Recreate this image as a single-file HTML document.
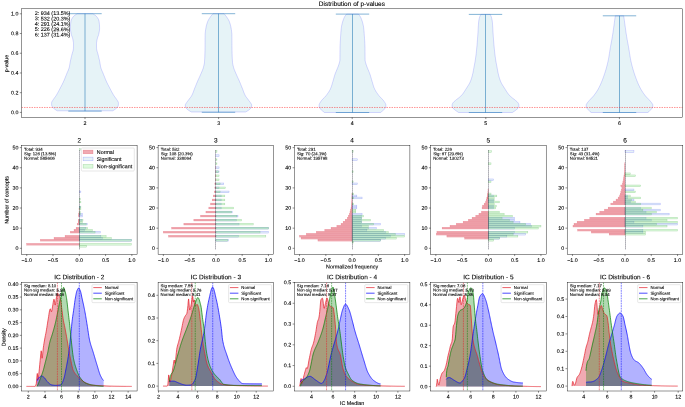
<!DOCTYPE html>
<html><head><meta charset="utf-8"><title>Distribution of p-values</title>
<style>html,body{margin:0;padding:0;background:#fff;width:685px;height:407px;overflow:hidden}
svg{display:block;font-family:"Liberation Sans",sans-serif;text-rendering:geometricPrecision}</style></head>
<body><svg width="685" height="407" viewBox="0 0 685 407">
<rect x="0" y="0" width="685" height="407" fill="#fff"/>
<clipPath id="c215_88"><rect x="21.5" y="8.8" width="661.1" height="108.6"/></clipPath>
<g clip-path="url(#c215_88)">
<path d="M77.2 13.7 L75.92 14.52 L74.75 15.33 L73.76 16.15 L73.03 16.96 L72.47 17.78 L71.98 18.6 L71.55 19.41 L71.22 20.23 L70.98 21.04 L70.85 21.86 L70.75 22.68 L70.66 23.49 L70.59 24.31 L70.52 25.12 L70.47 25.94 L70.43 26.76 L70.41 27.57 L70.4 28.39 L70.43 29.2 L70.5 30.02 L70.61 30.84 L70.75 31.65 L70.9 32.47 L71.06 33.28 L71.22 34.1 L71.43 34.92 L71.7 35.73 L72 36.55 L72.3 37.36 L72.57 38.18 L72.78 38.99 L72.94 39.81 L73.1 40.63 L73.25 41.44 L73.38 42.26 L73.46 43.07 L73.5 43.89 L73.5 44.71 L73.49 45.52 L73.47 46.34 L73.45 47.15 L73.42 47.97 L73.38 48.79 L73.28 49.6 L73.12 50.42 L72.91 51.23 L72.67 52.05 L72.41 52.87 L72.16 53.68 L71.93 54.5 L71.73 55.31 L71.53 56.13 L71.33 56.95 L71.14 57.76 L70.95 58.58 L70.76 59.39 L70.58 60.21 L70.4 61.03 L70.23 61.84 L70.08 62.66 L69.94 63.47 L69.82 64.29 L69.69 65.11 L69.55 65.92 L69.38 66.74 L69.18 67.55 L68.94 68.37 L68.65 69.19 L68.33 70 L67.99 70.82 L67.64 71.63 L67.28 72.45 L66.93 73.27 L66.59 74.08 L66.26 74.9 L65.94 75.71 L65.62 76.53 L65.3 77.35 L64.97 78.16 L64.64 78.98 L64.3 79.79 L63.95 80.61 L63.59 81.43 L63.21 82.24 L62.82 83.06 L62.41 83.87 L62 84.69 L61.58 85.51 L61.15 86.32 L60.72 87.14 L60.29 87.95 L59.86 88.77 L59.43 89.58 L59.01 90.4 L58.58 91.22 L58.14 92.03 L57.7 92.85 L57.25 93.66 L56.78 94.48 L56.29 95.3 L55.76 96.11 L55.18 96.93 L54.57 97.74 L53.96 98.56 L53.39 99.38 L52.88 100.19 L52.35 101.01 L51.86 101.82 L51.61 102.64 L51.6 103.46 L51.6 104.27 L51.6 105.09 L51.85 105.9 L52.32 106.72 L52.91 107.54 L53.74 108.35 L54.71 109.17 L55.86 109.98 L57.2 110.8 L112.8 110.8 L114.14 109.98 L115.29 109.17 L116.26 108.35 L117.09 107.54 L117.68 106.72 L118.15 105.9 L118.4 105.09 L118.4 104.27 L118.4 103.46 L118.39 102.64 L118.14 101.82 L117.65 101.01 L117.12 100.19 L116.61 99.38 L116.04 98.56 L115.43 97.74 L114.82 96.93 L114.24 96.11 L113.71 95.3 L113.22 94.48 L112.75 93.66 L112.3 92.85 L111.86 92.03 L111.42 91.22 L110.99 90.4 L110.57 89.58 L110.14 88.77 L109.71 87.95 L109.28 87.14 L108.85 86.32 L108.42 85.51 L108 84.69 L107.59 83.87 L107.18 83.06 L106.79 82.24 L106.41 81.43 L106.05 80.61 L105.7 79.79 L105.36 78.98 L105.03 78.16 L104.7 77.35 L104.38 76.53 L104.06 75.71 L103.74 74.9 L103.41 74.08 L103.07 73.27 L102.72 72.45 L102.36 71.63 L102.01 70.82 L101.67 70 L101.35 69.19 L101.06 68.37 L100.82 67.55 L100.62 66.74 L100.45 65.92 L100.31 65.11 L100.18 64.29 L100.06 63.47 L99.92 62.66 L99.77 61.84 L99.6 61.03 L99.42 60.21 L99.24 59.39 L99.05 58.58 L98.86 57.76 L98.67 56.95 L98.47 56.13 L98.27 55.31 L98.07 54.5 L97.84 53.68 L97.59 52.87 L97.33 52.05 L97.09 51.23 L96.88 50.42 L96.72 49.6 L96.62 48.79 L96.58 47.97 L96.55 47.15 L96.53 46.34 L96.51 45.52 L96.5 44.71 L96.5 43.89 L96.54 43.07 L96.62 42.26 L96.75 41.44 L96.9 40.63 L97.06 39.81 L97.22 38.99 L97.43 38.18 L97.7 37.36 L98 36.55 L98.3 35.73 L98.57 34.92 L98.78 34.1 L98.94 33.28 L99.1 32.47 L99.25 31.65 L99.39 30.84 L99.5 30.02 L99.57 29.2 L99.6 28.39 L99.59 27.57 L99.57 26.76 L99.53 25.94 L99.48 25.12 L99.41 24.31 L99.34 23.49 L99.25 22.68 L99.15 21.86 L99.02 21.04 L98.78 20.23 L98.45 19.41 L98.02 18.6 L97.53 17.78 L96.97 16.96 L96.24 16.15 L95.25 15.33 L94.08 14.52 L92.8 13.7 Z" fill="#add8e6" stroke="#0000ff" stroke-width="0.5" fill-opacity="0.3" stroke-opacity="0.3"/>
<path d="M213 13.7 L212.26 14.53 L211.55 15.35 L210.89 16.18 L210.3 17 L209.74 17.83 L209.2 18.66 L208.69 19.48 L208.24 20.31 L207.85 21.13 L207.53 21.96 L207.23 22.79 L206.96 23.61 L206.71 24.44 L206.48 25.26 L206.28 26.09 L206.1 26.92 L205.94 27.74 L205.81 28.57 L205.68 29.39 L205.55 30.22 L205.43 31.05 L205.33 31.87 L205.24 32.7 L205.17 33.53 L205.12 34.35 L205.1 35.18 L205.09 36 L205.08 36.83 L205.07 37.66 L205.06 38.48 L205.06 39.31 L205.05 40.13 L205.05 40.96 L205.04 41.79 L205.04 42.61 L205.04 43.44 L205.03 44.26 L205.03 45.09 L205.02 45.92 L205.02 46.74 L205.01 47.57 L205 48.39 L204.99 49.22 L204.98 50.05 L204.96 50.87 L204.95 51.7 L204.93 52.52 L204.91 53.35 L204.88 54.18 L204.85 55 L204.83 55.83 L204.79 56.65 L204.76 57.48 L204.72 58.31 L204.68 59.13 L204.63 59.96 L204.58 60.78 L204.53 61.61 L204.46 62.44 L204.36 63.26 L204.21 64.09 L204.04 64.92 L203.84 65.74 L203.64 66.57 L203.42 67.39 L203.18 68.22 L202.89 69.05 L202.58 69.87 L202.25 70.7 L201.9 71.52 L201.54 72.35 L201.18 73.18 L200.83 74 L200.48 74.83 L200.11 75.65 L199.74 76.48 L199.36 77.31 L198.98 78.13 L198.6 78.96 L198.22 79.78 L197.84 80.61 L197.48 81.44 L197.13 82.26 L196.79 83.09 L196.45 83.91 L196.12 84.74 L195.78 85.57 L195.45 86.39 L195.12 87.22 L194.79 88.04 L194.45 88.87 L194.13 89.7 L193.83 90.52 L193.52 91.35 L193.22 92.17 L192.89 93 L192.55 93.83 L192.18 94.65 L191.76 95.48 L191.28 96.31 L190.71 97.13 L190.08 97.96 L189.43 98.78 L188.79 99.61 L188.18 100.44 L187.57 101.26 L186.97 102.09 L186.43 102.91 L185.84 103.74 L185.38 104.57 L185.31 105.39 L185.38 106.22 L185.51 107.04 L185.91 107.87 L186.65 108.7 L187.52 109.52 L188.58 110.35 L189.93 111.17 L191.5 112 L245.5 112 L247.07 111.17 L248.42 110.35 L249.48 109.52 L250.35 108.7 L251.09 107.87 L251.49 107.04 L251.62 106.22 L251.69 105.39 L251.62 104.57 L251.16 103.74 L250.57 102.91 L250.03 102.09 L249.43 101.26 L248.82 100.44 L248.21 99.61 L247.57 98.78 L246.92 97.96 L246.29 97.13 L245.72 96.31 L245.24 95.48 L244.82 94.65 L244.45 93.83 L244.11 93 L243.78 92.17 L243.48 91.35 L243.17 90.52 L242.87 89.7 L242.55 88.87 L242.21 88.04 L241.88 87.22 L241.55 86.39 L241.22 85.57 L240.88 84.74 L240.55 83.91 L240.21 83.09 L239.87 82.26 L239.52 81.44 L239.16 80.61 L238.78 79.78 L238.4 78.96 L238.02 78.13 L237.64 77.31 L237.26 76.48 L236.89 75.65 L236.52 74.83 L236.17 74 L235.82 73.18 L235.46 72.35 L235.1 71.52 L234.75 70.7 L234.42 69.87 L234.11 69.05 L233.82 68.22 L233.58 67.39 L233.36 66.57 L233.16 65.74 L232.96 64.92 L232.79 64.09 L232.64 63.26 L232.54 62.44 L232.47 61.61 L232.42 60.78 L232.37 59.96 L232.32 59.13 L232.28 58.31 L232.24 57.48 L232.21 56.65 L232.17 55.83 L232.15 55 L232.12 54.18 L232.09 53.35 L232.07 52.52 L232.05 51.7 L232.04 50.87 L232.02 50.05 L232.01 49.22 L232 48.39 L231.99 47.57 L231.98 46.74 L231.98 45.92 L231.97 45.09 L231.97 44.26 L231.96 43.44 L231.96 42.61 L231.96 41.79 L231.95 40.96 L231.95 40.13 L231.94 39.31 L231.94 38.48 L231.93 37.66 L231.92 36.83 L231.91 36 L231.9 35.18 L231.88 34.35 L231.83 33.53 L231.76 32.7 L231.67 31.87 L231.57 31.05 L231.45 30.22 L231.32 29.39 L231.19 28.57 L231.06 27.74 L230.9 26.92 L230.72 26.09 L230.52 25.26 L230.29 24.44 L230.04 23.61 L229.77 22.79 L229.47 21.96 L229.15 21.13 L228.76 20.31 L228.31 19.48 L227.8 18.66 L227.26 17.83 L226.7 17 L226.11 16.18 L225.45 15.35 L224.74 14.53 L224 13.7 Z" fill="#add8e6" stroke="#0000ff" stroke-width="0.5" fill-opacity="0.3" stroke-opacity="0.3"/>
<path d="M346.5 14.1 L345.85 14.93 L345.25 15.75 L344.73 16.58 L344.29 17.41 L343.9 18.23 L343.55 19.06 L343.23 19.89 L342.94 20.72 L342.69 21.54 L342.46 22.37 L342.24 23.2 L342.04 24.02 L341.85 24.85 L341.67 25.68 L341.52 26.5 L341.39 27.33 L341.28 28.16 L341.19 28.98 L341.1 29.81 L341.02 30.64 L340.95 31.46 L340.89 32.29 L340.83 33.12 L340.77 33.95 L340.72 34.77 L340.66 35.6 L340.6 36.43 L340.55 37.25 L340.49 38.08 L340.44 38.91 L340.39 39.73 L340.33 40.56 L340.28 41.39 L340.24 42.21 L340.19 43.04 L340.15 43.87 L340.11 44.69 L340.08 45.52 L340.05 46.35 L340.03 47.18 L340.01 48 L340 48.83 L339.99 49.66 L339.98 50.48 L339.97 51.31 L339.97 52.14 L339.96 52.96 L339.96 53.79 L339.96 54.62 L339.95 55.44 L339.95 56.27 L339.94 57.1 L339.93 57.93 L339.92 58.75 L339.91 59.58 L339.88 60.41 L339.76 61.23 L339.56 62.06 L339.33 62.89 L339.08 63.71 L338.84 64.54 L338.55 65.37 L338.24 66.19 L337.93 67.02 L337.61 67.85 L337.28 68.67 L336.93 69.5 L336.58 70.33 L336.23 71.16 L335.88 71.98 L335.55 72.81 L335.24 73.64 L334.94 74.46 L334.68 75.29 L334.42 76.12 L334.18 76.94 L333.94 77.77 L333.71 78.6 L333.48 79.42 L333.24 80.25 L333 81.08 L332.75 81.91 L332.5 82.73 L332.26 83.56 L332.02 84.39 L331.78 85.21 L331.52 86.04 L331.23 86.87 L330.93 87.69 L330.59 88.52 L330.21 89.35 L329.78 90.17 L329.31 91 L328.79 91.83 L328.25 92.65 L327.67 93.48 L327.07 94.31 L326.45 95.14 L325.81 95.96 L325.07 96.79 L324.25 97.62 L323.42 98.44 L322.63 99.27 L321.92 100.1 L321.26 100.92 L320.65 101.75 L320.12 102.58 L319.67 103.4 L319.26 104.23 L319.1 105.06 L319.1 105.88 L319.1 106.71 L319.23 107.54 L319.81 108.37 L320.66 109.19 L321.52 110.02 L322.39 110.85 L323.4 111.67 L324.5 112.5 L380.5 112.5 L381.6 111.67 L382.61 110.85 L383.48 110.02 L384.34 109.19 L385.19 108.37 L385.77 107.54 L385.9 106.71 L385.9 105.88 L385.9 105.06 L385.74 104.23 L385.33 103.4 L384.88 102.58 L384.35 101.75 L383.74 100.92 L383.08 100.1 L382.37 99.27 L381.58 98.44 L380.75 97.62 L379.93 96.79 L379.19 95.96 L378.55 95.14 L377.93 94.31 L377.33 93.48 L376.75 92.65 L376.21 91.83 L375.69 91 L375.22 90.17 L374.79 89.35 L374.41 88.52 L374.07 87.69 L373.77 86.87 L373.48 86.04 L373.22 85.21 L372.98 84.39 L372.74 83.56 L372.5 82.73 L372.25 81.91 L372 81.08 L371.76 80.25 L371.52 79.42 L371.29 78.6 L371.06 77.77 L370.82 76.94 L370.58 76.12 L370.32 75.29 L370.06 74.46 L369.76 73.64 L369.45 72.81 L369.12 71.98 L368.77 71.16 L368.42 70.33 L368.07 69.5 L367.72 68.67 L367.39 67.85 L367.07 67.02 L366.76 66.19 L366.45 65.37 L366.16 64.54 L365.92 63.71 L365.67 62.89 L365.44 62.06 L365.24 61.23 L365.12 60.41 L365.09 59.58 L365.08 58.75 L365.07 57.93 L365.06 57.1 L365.05 56.27 L365.05 55.44 L365.04 54.62 L365.04 53.79 L365.04 52.96 L365.03 52.14 L365.03 51.31 L365.02 50.48 L365.01 49.66 L365 48.83 L364.99 48 L364.97 47.18 L364.95 46.35 L364.92 45.52 L364.89 44.69 L364.85 43.87 L364.81 43.04 L364.76 42.21 L364.72 41.39 L364.67 40.56 L364.61 39.73 L364.56 38.91 L364.51 38.08 L364.45 37.25 L364.4 36.43 L364.34 35.6 L364.28 34.77 L364.23 33.95 L364.17 33.12 L364.11 32.29 L364.05 31.46 L363.98 30.64 L363.9 29.81 L363.81 28.98 L363.72 28.16 L363.61 27.33 L363.48 26.5 L363.33 25.68 L363.15 24.85 L362.96 24.02 L362.76 23.2 L362.54 22.37 L362.31 21.54 L362.06 20.72 L361.77 19.89 L361.45 19.06 L361.1 18.23 L360.71 17.41 L360.27 16.58 L359.75 15.75 L359.15 14.93 L358.5 14.1 Z" fill="#add8e6" stroke="#0000ff" stroke-width="0.5" fill-opacity="0.3" stroke-opacity="0.3"/>
<path d="M480.8 14.4 L480.39 15.22 L480.01 16.05 L479.7 16.87 L479.45 17.7 L479.24 18.52 L479.05 19.35 L478.89 20.17 L478.76 20.99 L478.67 21.82 L478.58 22.64 L478.51 23.47 L478.44 24.29 L478.38 25.12 L478.32 25.94 L478.27 26.77 L478.22 27.59 L478.18 28.41 L478.14 29.24 L478.09 30.06 L478.05 30.89 L478.01 31.71 L477.96 32.54 L477.91 33.36 L477.86 34.18 L477.8 35.01 L477.74 35.83 L477.68 36.66 L477.62 37.48 L477.56 38.31 L477.49 39.13 L477.43 39.96 L477.37 40.78 L477.3 41.6 L477.24 42.43 L477.17 43.25 L477.1 44.08 L477.03 44.9 L476.96 45.73 L476.88 46.55 L476.81 47.37 L476.73 48.2 L476.65 49.02 L476.56 49.85 L476.48 50.67 L476.39 51.5 L476.3 52.32 L476.2 53.15 L476.11 53.97 L476.01 54.79 L475.9 55.62 L475.8 56.44 L475.69 57.27 L475.57 58.09 L475.46 58.92 L475.34 59.74 L475.21 60.56 L475.08 61.39 L474.93 62.21 L474.78 63.04 L474.63 63.86 L474.47 64.69 L474.31 65.51 L474.15 66.34 L473.99 67.16 L473.84 67.98 L473.69 68.81 L473.54 69.63 L473.39 70.46 L473.24 71.28 L473.08 72.11 L472.91 72.93 L472.73 73.75 L472.53 74.58 L472.33 75.4 L472.11 76.23 L471.88 77.05 L471.64 77.88 L471.38 78.7 L471.1 79.53 L470.81 80.35 L470.49 81.17 L470.14 82 L469.75 82.82 L469.31 83.65 L468.84 84.47 L468.34 85.3 L467.83 86.12 L467.3 86.94 L466.77 87.77 L466.24 88.59 L465.72 89.42 L465.21 90.24 L464.69 91.07 L464.15 91.89 L463.59 92.72 L462.99 93.54 L462.35 94.36 L461.67 95.19 L460.9 96.01 L459.98 96.84 L458.95 97.66 L457.88 98.49 L456.82 99.31 L455.85 100.13 L454.84 100.96 L453.87 101.78 L453.12 102.61 L452.63 103.43 L452.24 104.26 L452.1 105.08 L452.12 105.91 L452.18 106.73 L452.39 107.55 L453.07 108.38 L454.03 109.2 L455.03 110.03 L456.09 110.85 L457.33 111.68 L458.7 112.5 L512.3 112.5 L513.67 111.68 L514.91 110.85 L515.97 110.03 L516.97 109.2 L517.93 108.38 L518.61 107.55 L518.82 106.73 L518.88 105.91 L518.9 105.08 L518.76 104.26 L518.37 103.43 L517.88 102.61 L517.13 101.78 L516.16 100.96 L515.15 100.13 L514.18 99.31 L513.12 98.49 L512.05 97.66 L511.02 96.84 L510.1 96.01 L509.33 95.19 L508.65 94.36 L508.01 93.54 L507.41 92.72 L506.85 91.89 L506.31 91.07 L505.79 90.24 L505.28 89.42 L504.76 88.59 L504.23 87.77 L503.7 86.94 L503.17 86.12 L502.66 85.3 L502.16 84.47 L501.69 83.65 L501.25 82.82 L500.86 82 L500.51 81.17 L500.19 80.35 L499.9 79.53 L499.62 78.7 L499.36 77.88 L499.12 77.05 L498.89 76.23 L498.67 75.4 L498.47 74.58 L498.27 73.75 L498.09 72.93 L497.92 72.11 L497.76 71.28 L497.61 70.46 L497.46 69.63 L497.31 68.81 L497.16 67.98 L497.01 67.16 L496.85 66.34 L496.69 65.51 L496.53 64.69 L496.37 63.86 L496.22 63.04 L496.07 62.21 L495.92 61.39 L495.79 60.56 L495.66 59.74 L495.54 58.92 L495.43 58.09 L495.31 57.27 L495.2 56.44 L495.1 55.62 L494.99 54.79 L494.89 53.97 L494.8 53.15 L494.7 52.32 L494.61 51.5 L494.52 50.67 L494.44 49.85 L494.35 49.02 L494.27 48.2 L494.19 47.37 L494.12 46.55 L494.04 45.73 L493.97 44.9 L493.9 44.08 L493.83 43.25 L493.76 42.43 L493.7 41.6 L493.63 40.78 L493.57 39.96 L493.51 39.13 L493.44 38.31 L493.38 37.48 L493.32 36.66 L493.26 35.83 L493.2 35.01 L493.14 34.18 L493.09 33.36 L493.04 32.54 L492.99 31.71 L492.95 30.89 L492.91 30.06 L492.86 29.24 L492.82 28.41 L492.78 27.59 L492.73 26.77 L492.68 25.94 L492.62 25.12 L492.56 24.29 L492.49 23.47 L492.42 22.64 L492.33 21.82 L492.24 20.99 L492.11 20.17 L491.95 19.35 L491.76 18.52 L491.55 17.7 L491.3 16.87 L490.99 16.05 L490.61 15.22 L490.2 14.4 Z" fill="#add8e6" stroke="#0000ff" stroke-width="0.5" fill-opacity="0.3" stroke-opacity="0.3"/>
<path d="M615.3 15.8 L615.19 16.61 L615.07 17.43 L614.96 18.24 L614.84 19.05 L614.73 19.86 L614.62 20.68 L614.5 21.49 L614.39 22.3 L614.28 23.11 L614.16 23.93 L614.05 24.74 L613.94 25.55 L613.83 26.36 L613.72 27.18 L613.61 27.99 L613.5 28.8 L613.39 29.61 L613.28 30.43 L613.16 31.24 L613.04 32.05 L612.93 32.86 L612.8 33.68 L612.68 34.49 L612.55 35.3 L612.42 36.12 L612.28 36.93 L612.15 37.74 L612 38.55 L611.86 39.37 L611.71 40.18 L611.56 40.99 L611.41 41.8 L611.26 42.62 L611.11 43.43 L610.96 44.24 L610.81 45.05 L610.67 45.87 L610.52 46.68 L610.37 47.49 L610.23 48.3 L610.1 49.12 L609.96 49.93 L609.83 50.74 L609.71 51.55 L609.58 52.37 L609.45 53.18 L609.33 53.99 L609.2 54.81 L609.07 55.62 L608.94 56.43 L608.81 57.24 L608.66 58.06 L608.52 58.87 L608.36 59.68 L608.2 60.49 L608.03 61.31 L607.85 62.12 L607.66 62.93 L607.46 63.74 L607.26 64.56 L607.06 65.37 L606.84 66.18 L606.63 66.99 L606.41 67.81 L606.18 68.62 L605.94 69.43 L605.7 70.24 L605.45 71.06 L605.19 71.87 L604.93 72.68 L604.67 73.49 L604.4 74.31 L604.12 75.12 L603.85 75.93 L603.56 76.75 L603.27 77.56 L602.98 78.37 L602.67 79.18 L602.36 80 L602.04 80.81 L601.71 81.62 L601.37 82.43 L601.03 83.25 L600.67 84.06 L600.31 84.87 L599.93 85.68 L599.54 86.5 L599.13 87.31 L598.7 88.12 L598.26 88.93 L597.79 89.75 L597.31 90.56 L596.8 91.37 L596.27 92.18 L595.72 93 L595.15 93.81 L594.55 94.62 L593.93 95.44 L593.26 96.25 L592.51 97.06 L591.72 97.87 L590.92 98.69 L590.15 99.5 L589.43 100.31 L588.71 101.12 L588.03 101.94 L587.43 102.75 L586.86 103.56 L586.35 104.37 L586.2 105.19 L586.23 106 L586.28 106.81 L586.49 107.62 L587.06 108.44 L587.81 109.25 L588.55 110.06 L589.3 110.87 L590.12 111.69 L591 112.5 L648 112.5 L648.88 111.69 L649.7 110.87 L650.45 110.06 L651.19 109.25 L651.94 108.44 L652.51 107.62 L652.72 106.81 L652.77 106 L652.8 105.19 L652.65 104.37 L652.14 103.56 L651.57 102.75 L650.97 101.94 L650.29 101.12 L649.57 100.31 L648.85 99.5 L648.08 98.69 L647.28 97.87 L646.49 97.06 L645.74 96.25 L645.07 95.44 L644.45 94.62 L643.85 93.81 L643.28 93 L642.73 92.18 L642.2 91.37 L641.69 90.56 L641.21 89.75 L640.74 88.93 L640.3 88.12 L639.87 87.31 L639.46 86.5 L639.07 85.68 L638.69 84.87 L638.33 84.06 L637.97 83.25 L637.63 82.43 L637.29 81.62 L636.96 80.81 L636.64 80 L636.33 79.18 L636.02 78.37 L635.73 77.56 L635.44 76.75 L635.15 75.93 L634.88 75.12 L634.6 74.31 L634.33 73.49 L634.07 72.68 L633.81 71.87 L633.55 71.06 L633.3 70.24 L633.06 69.43 L632.82 68.62 L632.59 67.81 L632.37 66.99 L632.16 66.18 L631.94 65.37 L631.74 64.56 L631.54 63.74 L631.34 62.93 L631.15 62.12 L630.97 61.31 L630.8 60.49 L630.64 59.68 L630.48 58.87 L630.34 58.06 L630.19 57.24 L630.06 56.43 L629.93 55.62 L629.8 54.81 L629.67 53.99 L629.55 53.18 L629.42 52.37 L629.29 51.55 L629.17 50.74 L629.04 49.93 L628.9 49.12 L628.77 48.3 L628.63 47.49 L628.48 46.68 L628.33 45.87 L628.19 45.05 L628.04 44.24 L627.89 43.43 L627.74 42.62 L627.59 41.8 L627.44 40.99 L627.29 40.18 L627.14 39.37 L627 38.55 L626.85 37.74 L626.72 36.93 L626.58 36.12 L626.45 35.3 L626.32 34.49 L626.2 33.68 L626.07 32.86 L625.96 32.05 L625.84 31.24 L625.72 30.43 L625.61 29.61 L625.5 28.8 L625.39 27.99 L625.28 27.18 L625.17 26.36 L625.06 25.55 L624.95 24.74 L624.84 23.93 L624.72 23.11 L624.61 22.3 L624.5 21.49 L624.38 20.68 L624.27 19.86 L624.16 19.05 L624.04 18.24 L623.93 17.43 L623.81 16.61 L623.7 15.8 Z" fill="#add8e6" stroke="#0000ff" stroke-width="0.5" fill-opacity="0.3" stroke-opacity="0.3"/>
<line x1="85" y1="13.7" x2="85" y2="111.1" stroke="#1f77b4" stroke-width="1" stroke-opacity="0.55"/>
<line x1="68.3" y1="13.7" x2="101.7" y2="13.7" stroke="#1f77b4" stroke-width="1" stroke-opacity="0.55"/>
<line x1="68.3" y1="111.1" x2="101.7" y2="111.1" stroke="#1f77b4" stroke-width="1" stroke-opacity="0.55"/>
<line x1="218.5" y1="13.7" x2="218.5" y2="112.3" stroke="#1f77b4" stroke-width="1" stroke-opacity="0.55"/>
<line x1="201.8" y1="13.7" x2="235.2" y2="13.7" stroke="#1f77b4" stroke-width="1" stroke-opacity="0.55"/>
<line x1="201.8" y1="112.3" x2="235.2" y2="112.3" stroke="#1f77b4" stroke-width="1" stroke-opacity="0.55"/>
<line x1="352.5" y1="14.1" x2="352.5" y2="112.5" stroke="#1f77b4" stroke-width="1" stroke-opacity="0.55"/>
<line x1="335.8" y1="14.1" x2="369.2" y2="14.1" stroke="#1f77b4" stroke-width="1" stroke-opacity="0.55"/>
<line x1="335.8" y1="112.5" x2="369.2" y2="112.5" stroke="#1f77b4" stroke-width="1" stroke-opacity="0.55"/>
<line x1="485.5" y1="14.4" x2="485.5" y2="112.5" stroke="#1f77b4" stroke-width="1" stroke-opacity="0.55"/>
<line x1="468.8" y1="14.4" x2="502.2" y2="14.4" stroke="#1f77b4" stroke-width="1" stroke-opacity="0.55"/>
<line x1="468.8" y1="112.5" x2="502.2" y2="112.5" stroke="#1f77b4" stroke-width="1" stroke-opacity="0.55"/>
<line x1="619.5" y1="15.8" x2="619.5" y2="112.5" stroke="#1f77b4" stroke-width="1" stroke-opacity="0.55"/>
<line x1="602.8" y1="15.8" x2="636.2" y2="15.8" stroke="#1f77b4" stroke-width="1" stroke-opacity="0.55"/>
<line x1="602.8" y1="112.5" x2="636.2" y2="112.5" stroke="#1f77b4" stroke-width="1" stroke-opacity="0.55"/>
<line x1="21.5" y1="107.47" x2="682.6" y2="107.47" stroke="#ff0000" stroke-width="0.6" stroke-dasharray="1.5,1" stroke-opacity="0.7"/>
</g>
<rect x="21.5" y="8.8" width="661.1" height="108.6" fill="none" stroke="#000" stroke-width="0.42"/>
<line x1="85" y1="117.4" x2="85" y2="119.1" stroke="#000" stroke-width="0.45"/>
<line x1="218.6" y1="117.4" x2="218.6" y2="119.1" stroke="#000" stroke-width="0.45"/>
<line x1="352.2" y1="117.4" x2="352.2" y2="119.1" stroke="#000" stroke-width="0.45"/>
<line x1="485.8" y1="117.4" x2="485.8" y2="119.1" stroke="#000" stroke-width="0.45"/>
<line x1="619.4" y1="117.4" x2="619.4" y2="119.1" stroke="#000" stroke-width="0.45"/>
<line x1="21.5" y1="112.4" x2="19.8" y2="112.4" stroke="#000" stroke-width="0.45"/>
<line x1="21.5" y1="92.68" x2="19.8" y2="92.68" stroke="#000" stroke-width="0.45"/>
<line x1="21.5" y1="72.96" x2="19.8" y2="72.96" stroke="#000" stroke-width="0.45"/>
<line x1="21.5" y1="53.24" x2="19.8" y2="53.24" stroke="#000" stroke-width="0.45"/>
<line x1="21.5" y1="33.52" x2="19.8" y2="33.52" stroke="#000" stroke-width="0.45"/>
<line x1="21.5" y1="13.8" x2="19.8" y2="13.8" stroke="#000" stroke-width="0.45"/>
<clipPath id="c215_1455"><rect x="21.5" y="145.5" width="115.6" height="108.85"/></clipPath>
<g clip-path="url(#c215_1455)">
<rect x="26.75" y="243.42" width="52.55" height="1.71" fill="#da2b3f" fill-opacity="0.4" stroke="#da2b3f" stroke-opacity="0.4" stroke-width="0.45"/>
<rect x="40.42" y="239.39" width="38.88" height="1.71" fill="#da2b3f" fill-opacity="0.4" stroke="#da2b3f" stroke-opacity="0.4" stroke-width="0.45"/>
<rect x="54.08" y="237.37" width="25.22" height="1.71" fill="#da2b3f" fill-opacity="0.4" stroke="#da2b3f" stroke-opacity="0.4" stroke-width="0.45"/>
<rect x="65.11" y="235.36" width="14.19" height="1.71" fill="#da2b3f" fill-opacity="0.4" stroke="#da2b3f" stroke-opacity="0.4" stroke-width="0.45"/>
<rect x="70.37" y="231.33" width="8.93" height="1.71" fill="#da2b3f" fill-opacity="0.4" stroke="#da2b3f" stroke-opacity="0.4" stroke-width="0.45"/>
<rect x="74.05" y="229.32" width="5.25" height="1.71" fill="#da2b3f" fill-opacity="0.4" stroke="#da2b3f" stroke-opacity="0.4" stroke-width="0.45"/>
<rect x="76.15" y="227.3" width="3.15" height="1.71" fill="#da2b3f" fill-opacity="0.4" stroke="#da2b3f" stroke-opacity="0.4" stroke-width="0.45"/>
<rect x="77.2" y="223.28" width="2.1" height="1.71" fill="#da2b3f" fill-opacity="0.4" stroke="#da2b3f" stroke-opacity="0.4" stroke-width="0.45"/>
<rect x="78.25" y="221.26" width="1.05" height="1.71" fill="#da2b3f" fill-opacity="0.4" stroke="#da2b3f" stroke-opacity="0.4" stroke-width="0.45"/>
<rect x="78.25" y="219.25" width="1.05" height="1.71" fill="#da2b3f" fill-opacity="0.4" stroke="#da2b3f" stroke-opacity="0.4" stroke-width="0.45"/>
<rect x="78.77" y="215.22" width="0.53" height="1.71" fill="#da2b3f" fill-opacity="0.4" stroke="#da2b3f" stroke-opacity="0.4" stroke-width="0.45"/>
<rect x="78.77" y="213.21" width="0.53" height="1.71" fill="#da2b3f" fill-opacity="0.4" stroke="#da2b3f" stroke-opacity="0.4" stroke-width="0.45"/>
<rect x="79.04" y="211.19" width="0.26" height="1.71" fill="#da2b3f" fill-opacity="0.4" stroke="#da2b3f" stroke-opacity="0.4" stroke-width="0.45"/>
<rect x="79.04" y="208.17" width="0.26" height="1.71" fill="#da2b3f" fill-opacity="0.4" stroke="#da2b3f" stroke-opacity="0.4" stroke-width="0.45"/>
<rect x="79.3" y="239.39" width="52.02" height="1.71" fill="#add8e6" fill-opacity="0.3" stroke="#0000ff" stroke-opacity="0.3" stroke-width="0.45"/>
<rect x="79.3" y="237.37" width="23.12" height="1.71" fill="#add8e6" fill-opacity="0.3" stroke="#0000ff" stroke-opacity="0.3" stroke-width="0.45"/>
<rect x="79.3" y="235.36" width="21.54" height="1.71" fill="#add8e6" fill-opacity="0.3" stroke="#0000ff" stroke-opacity="0.3" stroke-width="0.45"/>
<rect x="79.3" y="231.33" width="21.02" height="1.71" fill="#add8e6" fill-opacity="0.3" stroke="#0000ff" stroke-opacity="0.3" stroke-width="0.45"/>
<rect x="79.3" y="229.32" width="5.25" height="1.71" fill="#add8e6" fill-opacity="0.3" stroke="#0000ff" stroke-opacity="0.3" stroke-width="0.45"/>
<rect x="79.3" y="227.3" width="6.57" height="1.71" fill="#add8e6" fill-opacity="0.3" stroke="#0000ff" stroke-opacity="0.3" stroke-width="0.45"/>
<rect x="79.3" y="223.28" width="7.88" height="1.71" fill="#add8e6" fill-opacity="0.3" stroke="#0000ff" stroke-opacity="0.3" stroke-width="0.45"/>
<rect x="79.3" y="219.25" width="2.63" height="1.71" fill="#add8e6" fill-opacity="0.3" stroke="#0000ff" stroke-opacity="0.3" stroke-width="0.45"/>
<rect x="79.3" y="215.22" width="3.15" height="1.71" fill="#add8e6" fill-opacity="0.3" stroke="#0000ff" stroke-opacity="0.3" stroke-width="0.45"/>
<rect x="79.3" y="213.21" width="3.15" height="1.71" fill="#add8e6" fill-opacity="0.3" stroke="#0000ff" stroke-opacity="0.3" stroke-width="0.45"/>
<rect x="79.3" y="206.16" width="1.05" height="1.71" fill="#add8e6" fill-opacity="0.3" stroke="#0000ff" stroke-opacity="0.3" stroke-width="0.45"/>
<rect x="79.3" y="191.05" width="1.58" height="1.71" fill="#add8e6" fill-opacity="0.3" stroke="#0000ff" stroke-opacity="0.3" stroke-width="0.45"/>
<rect x="79.3" y="245.43" width="7.36" height="1.71" fill="#90ee90" fill-opacity="0.3" stroke="#008000" stroke-opacity="0.3" stroke-width="0.45"/>
<rect x="79.3" y="243.42" width="52.02" height="1.71" fill="#90ee90" fill-opacity="0.3" stroke="#008000" stroke-opacity="0.3" stroke-width="0.45"/>
<rect x="79.3" y="239.39" width="52.02" height="1.71" fill="#90ee90" fill-opacity="0.3" stroke="#008000" stroke-opacity="0.3" stroke-width="0.45"/>
<rect x="79.3" y="237.37" width="32.05" height="1.71" fill="#90ee90" fill-opacity="0.3" stroke="#008000" stroke-opacity="0.3" stroke-width="0.45"/>
<rect x="79.3" y="235.36" width="26.8" height="1.71" fill="#90ee90" fill-opacity="0.3" stroke="#008000" stroke-opacity="0.3" stroke-width="0.45"/>
<rect x="79.3" y="231.33" width="15.76" height="1.71" fill="#90ee90" fill-opacity="0.3" stroke="#008000" stroke-opacity="0.3" stroke-width="0.45"/>
<rect x="79.3" y="229.32" width="13.14" height="1.71" fill="#90ee90" fill-opacity="0.3" stroke="#008000" stroke-opacity="0.3" stroke-width="0.45"/>
<rect x="79.3" y="227.3" width="8.41" height="1.71" fill="#90ee90" fill-opacity="0.3" stroke="#008000" stroke-opacity="0.3" stroke-width="0.45"/>
<rect x="79.3" y="223.28" width="6.83" height="1.71" fill="#90ee90" fill-opacity="0.3" stroke="#008000" stroke-opacity="0.3" stroke-width="0.45"/>
<rect x="79.3" y="221.26" width="3.15" height="1.71" fill="#90ee90" fill-opacity="0.3" stroke="#008000" stroke-opacity="0.3" stroke-width="0.45"/>
<rect x="79.3" y="219.25" width="3.68" height="1.71" fill="#90ee90" fill-opacity="0.3" stroke="#008000" stroke-opacity="0.3" stroke-width="0.45"/>
<rect x="79.3" y="213.21" width="1.05" height="1.71" fill="#90ee90" fill-opacity="0.3" stroke="#008000" stroke-opacity="0.3" stroke-width="0.45"/>
<rect x="79.3" y="211.19" width="1.05" height="1.71" fill="#90ee90" fill-opacity="0.3" stroke="#008000" stroke-opacity="0.3" stroke-width="0.45"/>
<rect x="79.3" y="208.17" width="1.58" height="1.71" fill="#90ee90" fill-opacity="0.3" stroke="#008000" stroke-opacity="0.3" stroke-width="0.45"/>
<rect x="79.3" y="206.16" width="1.58" height="1.71" fill="#90ee90" fill-opacity="0.3" stroke="#008000" stroke-opacity="0.3" stroke-width="0.45"/>
<rect x="79.3" y="201.12" width="1.58" height="1.71" fill="#90ee90" fill-opacity="0.3" stroke="#008000" stroke-opacity="0.3" stroke-width="0.45"/>
<rect x="79.3" y="198.1" width="1.05" height="1.71" fill="#90ee90" fill-opacity="0.3" stroke="#008000" stroke-opacity="0.3" stroke-width="0.45"/>
<rect x="79.3" y="148.76" width="1.05" height="1.71" fill="#90ee90" fill-opacity="0.3" stroke="#008000" stroke-opacity="0.3" stroke-width="0.45"/>
<line x1="79.5" y1="150.3" x2="79.5" y2="249.3" stroke="#334" stroke-width="0.7" stroke-dasharray="1.25,0.75" stroke-opacity="0.8"/>
</g>
<rect x="21.5" y="145.5" width="115.6" height="108.85" fill="none" stroke="#000" stroke-width="0.42"/>
<line x1="26.75" y1="254.35" x2="26.75" y2="256.05" stroke="#000" stroke-width="0.45"/>
<line x1="53.03" y1="254.35" x2="53.03" y2="256.05" stroke="#000" stroke-width="0.45"/>
<line x1="79.3" y1="254.35" x2="79.3" y2="256.05" stroke="#000" stroke-width="0.45"/>
<line x1="105.57" y1="254.35" x2="105.57" y2="256.05" stroke="#000" stroke-width="0.45"/>
<line x1="131.85" y1="254.35" x2="131.85" y2="256.05" stroke="#000" stroke-width="0.45"/>
<line x1="21.5" y1="248.3" x2="19.8" y2="248.3" stroke="#000" stroke-width="0.45"/>
<line x1="21.5" y1="228.16" x2="19.8" y2="228.16" stroke="#000" stroke-width="0.45"/>
<line x1="21.5" y1="208.02" x2="19.8" y2="208.02" stroke="#000" stroke-width="0.45"/>
<line x1="21.5" y1="187.88" x2="19.8" y2="187.88" stroke="#000" stroke-width="0.45"/>
<line x1="21.5" y1="167.74" x2="19.8" y2="167.74" stroke="#000" stroke-width="0.45"/>
<line x1="21.5" y1="147.6" x2="19.8" y2="147.6" stroke="#000" stroke-width="0.45"/>
<rect x="81.4" y="148" width="52.9" height="23" rx="1" fill="#fff" fill-opacity="0.8" stroke="#ccc" stroke-width="0.45"/>
<rect x="83.1" y="150.1" width="9.9" height="3.7" fill="#da2b3f" fill-opacity="0.4" stroke="#da2b3f" stroke-opacity="0.4" stroke-width="0.45"/>
<rect x="83.1" y="157.1" width="9.9" height="3.7" fill="#add8e6" fill-opacity="0.3" stroke="#0000ff" stroke-opacity="0.3" stroke-width="0.45"/>
<rect x="83.1" y="164.4" width="9.9" height="3.7" fill="#90ee90" fill-opacity="0.3" stroke="#008000" stroke-opacity="0.3" stroke-width="0.45"/>
<clipPath id="c1581_1455"><rect x="158.1" y="145.5" width="115.6" height="108.85"/></clipPath>
<g clip-path="url(#c1581_1455)">
<rect x="168.61" y="235.36" width="47.29" height="1.71" fill="#da2b3f" fill-opacity="0.4" stroke="#da2b3f" stroke-opacity="0.4" stroke-width="0.45"/>
<rect x="163.35" y="231.33" width="52.55" height="1.71" fill="#da2b3f" fill-opacity="0.4" stroke="#da2b3f" stroke-opacity="0.4" stroke-width="0.45"/>
<rect x="171.76" y="227.3" width="44.14" height="1.71" fill="#da2b3f" fill-opacity="0.4" stroke="#da2b3f" stroke-opacity="0.4" stroke-width="0.45"/>
<rect x="183.85" y="223.28" width="32.05" height="1.71" fill="#da2b3f" fill-opacity="0.4" stroke="#da2b3f" stroke-opacity="0.4" stroke-width="0.45"/>
<rect x="193.83" y="219.25" width="22.07" height="1.71" fill="#da2b3f" fill-opacity="0.4" stroke="#da2b3f" stroke-opacity="0.4" stroke-width="0.45"/>
<rect x="200.66" y="215.22" width="15.24" height="1.71" fill="#da2b3f" fill-opacity="0.4" stroke="#da2b3f" stroke-opacity="0.4" stroke-width="0.45"/>
<rect x="205.92" y="211.19" width="9.98" height="1.71" fill="#da2b3f" fill-opacity="0.4" stroke="#da2b3f" stroke-opacity="0.4" stroke-width="0.45"/>
<rect x="208.81" y="207.16" width="7.09" height="1.71" fill="#da2b3f" fill-opacity="0.4" stroke="#da2b3f" stroke-opacity="0.4" stroke-width="0.45"/>
<rect x="210.65" y="203.14" width="5.25" height="1.71" fill="#da2b3f" fill-opacity="0.4" stroke="#da2b3f" stroke-opacity="0.4" stroke-width="0.45"/>
<rect x="212.22" y="199.11" width="3.68" height="1.71" fill="#da2b3f" fill-opacity="0.4" stroke="#da2b3f" stroke-opacity="0.4" stroke-width="0.45"/>
<rect x="213.27" y="195.08" width="2.63" height="1.71" fill="#da2b3f" fill-opacity="0.4" stroke="#da2b3f" stroke-opacity="0.4" stroke-width="0.45"/>
<rect x="214.32" y="191.05" width="1.58" height="1.71" fill="#da2b3f" fill-opacity="0.4" stroke="#da2b3f" stroke-opacity="0.4" stroke-width="0.45"/>
<rect x="214.85" y="187.02" width="1.05" height="1.71" fill="#da2b3f" fill-opacity="0.4" stroke="#da2b3f" stroke-opacity="0.4" stroke-width="0.45"/>
<rect x="214.85" y="183" width="1.05" height="1.71" fill="#da2b3f" fill-opacity="0.4" stroke="#da2b3f" stroke-opacity="0.4" stroke-width="0.45"/>
<rect x="215.37" y="178.97" width="0.53" height="1.71" fill="#da2b3f" fill-opacity="0.4" stroke="#da2b3f" stroke-opacity="0.4" stroke-width="0.45"/>
<rect x="215.37" y="174.94" width="0.53" height="1.71" fill="#da2b3f" fill-opacity="0.4" stroke="#da2b3f" stroke-opacity="0.4" stroke-width="0.45"/>
<rect x="215.64" y="170.91" width="0.26" height="1.71" fill="#da2b3f" fill-opacity="0.4" stroke="#da2b3f" stroke-opacity="0.4" stroke-width="0.45"/>
<rect x="215.64" y="166.88" width="0.26" height="1.71" fill="#da2b3f" fill-opacity="0.4" stroke="#da2b3f" stroke-opacity="0.4" stroke-width="0.45"/>
<rect x="215.9" y="239.39" width="12.61" height="1.71" fill="#add8e6" fill-opacity="0.3" stroke="#0000ff" stroke-opacity="0.3" stroke-width="0.45"/>
<rect x="215.9" y="235.36" width="22.59" height="1.71" fill="#add8e6" fill-opacity="0.3" stroke="#0000ff" stroke-opacity="0.3" stroke-width="0.45"/>
<rect x="215.9" y="231.33" width="52.55" height="1.71" fill="#add8e6" fill-opacity="0.3" stroke="#0000ff" stroke-opacity="0.3" stroke-width="0.45"/>
<rect x="215.9" y="227.3" width="52.55" height="1.71" fill="#add8e6" fill-opacity="0.3" stroke="#0000ff" stroke-opacity="0.3" stroke-width="0.45"/>
<rect x="215.9" y="223.28" width="23.12" height="1.71" fill="#add8e6" fill-opacity="0.3" stroke="#0000ff" stroke-opacity="0.3" stroke-width="0.45"/>
<rect x="215.9" y="219.25" width="20.49" height="1.71" fill="#add8e6" fill-opacity="0.3" stroke="#0000ff" stroke-opacity="0.3" stroke-width="0.45"/>
<rect x="215.9" y="215.22" width="22.07" height="1.71" fill="#add8e6" fill-opacity="0.3" stroke="#0000ff" stroke-opacity="0.3" stroke-width="0.45"/>
<rect x="215.9" y="211.19" width="16.29" height="1.71" fill="#add8e6" fill-opacity="0.3" stroke="#0000ff" stroke-opacity="0.3" stroke-width="0.45"/>
<rect x="215.9" y="207.16" width="5.25" height="1.71" fill="#add8e6" fill-opacity="0.3" stroke="#0000ff" stroke-opacity="0.3" stroke-width="0.45"/>
<rect x="215.9" y="203.14" width="5.25" height="1.71" fill="#add8e6" fill-opacity="0.3" stroke="#0000ff" stroke-opacity="0.3" stroke-width="0.45"/>
<rect x="215.9" y="199.11" width="5.25" height="1.71" fill="#add8e6" fill-opacity="0.3" stroke="#0000ff" stroke-opacity="0.3" stroke-width="0.45"/>
<rect x="215.9" y="195.08" width="5.25" height="1.71" fill="#add8e6" fill-opacity="0.3" stroke="#0000ff" stroke-opacity="0.3" stroke-width="0.45"/>
<rect x="215.9" y="191.05" width="13.14" height="1.71" fill="#add8e6" fill-opacity="0.3" stroke="#0000ff" stroke-opacity="0.3" stroke-width="0.45"/>
<rect x="215.9" y="187.02" width="3.15" height="1.71" fill="#add8e6" fill-opacity="0.3" stroke="#0000ff" stroke-opacity="0.3" stroke-width="0.45"/>
<rect x="215.9" y="183" width="7.88" height="1.71" fill="#add8e6" fill-opacity="0.3" stroke="#0000ff" stroke-opacity="0.3" stroke-width="0.45"/>
<rect x="215.9" y="170.91" width="3.15" height="1.71" fill="#add8e6" fill-opacity="0.3" stroke="#0000ff" stroke-opacity="0.3" stroke-width="0.45"/>
<rect x="215.9" y="166.88" width="3.15" height="1.71" fill="#add8e6" fill-opacity="0.3" stroke="#0000ff" stroke-opacity="0.3" stroke-width="0.45"/>
<rect x="215.9" y="154.8" width="3.15" height="1.71" fill="#add8e6" fill-opacity="0.3" stroke="#0000ff" stroke-opacity="0.3" stroke-width="0.45"/>
<rect x="215.9" y="239.39" width="11.82" height="1.71" fill="#90ee90" fill-opacity="0.3" stroke="#008000" stroke-opacity="0.3" stroke-width="0.45"/>
<rect x="215.9" y="235.36" width="49.92" height="1.71" fill="#90ee90" fill-opacity="0.3" stroke="#008000" stroke-opacity="0.3" stroke-width="0.45"/>
<rect x="215.9" y="231.33" width="44.14" height="1.71" fill="#90ee90" fill-opacity="0.3" stroke="#008000" stroke-opacity="0.3" stroke-width="0.45"/>
<rect x="215.9" y="227.3" width="52.55" height="1.71" fill="#90ee90" fill-opacity="0.3" stroke="#008000" stroke-opacity="0.3" stroke-width="0.45"/>
<rect x="215.9" y="223.28" width="37.31" height="1.71" fill="#90ee90" fill-opacity="0.3" stroke="#008000" stroke-opacity="0.3" stroke-width="0.45"/>
<rect x="215.9" y="219.25" width="25.75" height="1.71" fill="#90ee90" fill-opacity="0.3" stroke="#008000" stroke-opacity="0.3" stroke-width="0.45"/>
<rect x="215.9" y="215.22" width="21.02" height="1.71" fill="#90ee90" fill-opacity="0.3" stroke="#008000" stroke-opacity="0.3" stroke-width="0.45"/>
<rect x="215.9" y="211.19" width="15.76" height="1.71" fill="#90ee90" fill-opacity="0.3" stroke="#008000" stroke-opacity="0.3" stroke-width="0.45"/>
<rect x="215.9" y="207.16" width="17.87" height="1.71" fill="#90ee90" fill-opacity="0.3" stroke="#008000" stroke-opacity="0.3" stroke-width="0.45"/>
<rect x="215.9" y="203.14" width="8.93" height="1.71" fill="#90ee90" fill-opacity="0.3" stroke="#008000" stroke-opacity="0.3" stroke-width="0.45"/>
<rect x="215.9" y="199.11" width="8.93" height="1.71" fill="#90ee90" fill-opacity="0.3" stroke="#008000" stroke-opacity="0.3" stroke-width="0.45"/>
<rect x="215.9" y="195.08" width="8.93" height="1.71" fill="#90ee90" fill-opacity="0.3" stroke="#008000" stroke-opacity="0.3" stroke-width="0.45"/>
<rect x="215.9" y="191.05" width="4.2" height="1.71" fill="#90ee90" fill-opacity="0.3" stroke="#008000" stroke-opacity="0.3" stroke-width="0.45"/>
<rect x="215.9" y="187.02" width="9.46" height="1.71" fill="#90ee90" fill-opacity="0.3" stroke="#008000" stroke-opacity="0.3" stroke-width="0.45"/>
<rect x="215.9" y="183" width="4.2" height="1.71" fill="#90ee90" fill-opacity="0.3" stroke="#008000" stroke-opacity="0.3" stroke-width="0.45"/>
<rect x="215.9" y="178.97" width="3.15" height="1.71" fill="#90ee90" fill-opacity="0.3" stroke="#008000" stroke-opacity="0.3" stroke-width="0.45"/>
<rect x="215.9" y="174.94" width="3.15" height="1.71" fill="#90ee90" fill-opacity="0.3" stroke="#008000" stroke-opacity="0.3" stroke-width="0.45"/>
<rect x="215.9" y="170.91" width="2.63" height="1.71" fill="#90ee90" fill-opacity="0.3" stroke="#008000" stroke-opacity="0.3" stroke-width="0.45"/>
<rect x="215.9" y="162.86" width="1.05" height="1.71" fill="#90ee90" fill-opacity="0.3" stroke="#008000" stroke-opacity="0.3" stroke-width="0.45"/>
<rect x="215.9" y="158.83" width="1.05" height="1.71" fill="#90ee90" fill-opacity="0.3" stroke="#008000" stroke-opacity="0.3" stroke-width="0.45"/>
<rect x="215.9" y="150.77" width="1.05" height="1.71" fill="#90ee90" fill-opacity="0.3" stroke="#008000" stroke-opacity="0.3" stroke-width="0.45"/>
<line x1="215.5" y1="150.3" x2="215.5" y2="249.3" stroke="#334" stroke-width="0.7" stroke-dasharray="1.25,0.75" stroke-opacity="0.8"/>
</g>
<rect x="158.1" y="145.5" width="115.6" height="108.85" fill="none" stroke="#000" stroke-width="0.42"/>
<line x1="163.35" y1="254.35" x2="163.35" y2="256.05" stroke="#000" stroke-width="0.45"/>
<line x1="189.63" y1="254.35" x2="189.63" y2="256.05" stroke="#000" stroke-width="0.45"/>
<line x1="215.9" y1="254.35" x2="215.9" y2="256.05" stroke="#000" stroke-width="0.45"/>
<line x1="242.17" y1="254.35" x2="242.17" y2="256.05" stroke="#000" stroke-width="0.45"/>
<line x1="268.45" y1="254.35" x2="268.45" y2="256.05" stroke="#000" stroke-width="0.45"/>
<line x1="158.1" y1="248.3" x2="156.4" y2="248.3" stroke="#000" stroke-width="0.45"/>
<line x1="158.1" y1="228.16" x2="156.4" y2="228.16" stroke="#000" stroke-width="0.45"/>
<line x1="158.1" y1="208.02" x2="156.4" y2="208.02" stroke="#000" stroke-width="0.45"/>
<line x1="158.1" y1="187.88" x2="156.4" y2="187.88" stroke="#000" stroke-width="0.45"/>
<line x1="158.1" y1="167.74" x2="156.4" y2="167.74" stroke="#000" stroke-width="0.45"/>
<line x1="158.1" y1="147.6" x2="156.4" y2="147.6" stroke="#000" stroke-width="0.45"/>
<clipPath id="c2943_1455"><rect x="294.3" y="145.5" width="115.6" height="108.85"/></clipPath>
<g clip-path="url(#c2943_1455)">
<rect x="317.95" y="239.39" width="34.15" height="1.71" fill="#da2b3f" fill-opacity="0.4" stroke="#da2b3f" stroke-opacity="0.4" stroke-width="0.45"/>
<rect x="301.13" y="237.37" width="50.97" height="1.71" fill="#da2b3f" fill-opacity="0.4" stroke="#da2b3f" stroke-opacity="0.4" stroke-width="0.45"/>
<rect x="299.55" y="235.36" width="52.55" height="1.71" fill="#da2b3f" fill-opacity="0.4" stroke="#da2b3f" stroke-opacity="0.4" stroke-width="0.45"/>
<rect x="306.39" y="233.35" width="45.71" height="1.71" fill="#da2b3f" fill-opacity="0.4" stroke="#da2b3f" stroke-opacity="0.4" stroke-width="0.45"/>
<rect x="316.37" y="231.33" width="35.73" height="1.71" fill="#da2b3f" fill-opacity="0.4" stroke="#da2b3f" stroke-opacity="0.4" stroke-width="0.45"/>
<rect x="324.78" y="229.32" width="27.32" height="1.71" fill="#da2b3f" fill-opacity="0.4" stroke="#da2b3f" stroke-opacity="0.4" stroke-width="0.45"/>
<rect x="331.08" y="227.3" width="21.02" height="1.71" fill="#da2b3f" fill-opacity="0.4" stroke="#da2b3f" stroke-opacity="0.4" stroke-width="0.45"/>
<rect x="336.86" y="225.29" width="15.24" height="1.71" fill="#da2b3f" fill-opacity="0.4" stroke="#da2b3f" stroke-opacity="0.4" stroke-width="0.45"/>
<rect x="341.07" y="223.28" width="11.03" height="1.71" fill="#da2b3f" fill-opacity="0.4" stroke="#da2b3f" stroke-opacity="0.4" stroke-width="0.45"/>
<rect x="343.17" y="221.26" width="8.93" height="1.71" fill="#da2b3f" fill-opacity="0.4" stroke="#da2b3f" stroke-opacity="0.4" stroke-width="0.45"/>
<rect x="345.27" y="219.25" width="6.83" height="1.71" fill="#da2b3f" fill-opacity="0.4" stroke="#da2b3f" stroke-opacity="0.4" stroke-width="0.45"/>
<rect x="347.37" y="217.23" width="4.73" height="1.71" fill="#da2b3f" fill-opacity="0.4" stroke="#da2b3f" stroke-opacity="0.4" stroke-width="0.45"/>
<rect x="348.42" y="215.22" width="3.68" height="1.71" fill="#da2b3f" fill-opacity="0.4" stroke="#da2b3f" stroke-opacity="0.4" stroke-width="0.45"/>
<rect x="349.47" y="213.21" width="2.63" height="1.71" fill="#da2b3f" fill-opacity="0.4" stroke="#da2b3f" stroke-opacity="0.4" stroke-width="0.45"/>
<rect x="350" y="211.19" width="2.1" height="1.71" fill="#da2b3f" fill-opacity="0.4" stroke="#da2b3f" stroke-opacity="0.4" stroke-width="0.45"/>
<rect x="350.52" y="209.18" width="1.58" height="1.71" fill="#da2b3f" fill-opacity="0.4" stroke="#da2b3f" stroke-opacity="0.4" stroke-width="0.45"/>
<rect x="351.05" y="207.16" width="1.05" height="1.71" fill="#da2b3f" fill-opacity="0.4" stroke="#da2b3f" stroke-opacity="0.4" stroke-width="0.45"/>
<rect x="351.31" y="205.15" width="0.79" height="1.71" fill="#da2b3f" fill-opacity="0.4" stroke="#da2b3f" stroke-opacity="0.4" stroke-width="0.45"/>
<rect x="351.57" y="203.14" width="0.53" height="1.71" fill="#da2b3f" fill-opacity="0.4" stroke="#da2b3f" stroke-opacity="0.4" stroke-width="0.45"/>
<rect x="351.68" y="201.12" width="0.42" height="1.71" fill="#da2b3f" fill-opacity="0.4" stroke="#da2b3f" stroke-opacity="0.4" stroke-width="0.45"/>
<rect x="351.78" y="199.11" width="0.32" height="1.71" fill="#da2b3f" fill-opacity="0.4" stroke="#da2b3f" stroke-opacity="0.4" stroke-width="0.45"/>
<rect x="351.84" y="197.09" width="0.26" height="1.71" fill="#da2b3f" fill-opacity="0.4" stroke="#da2b3f" stroke-opacity="0.4" stroke-width="0.45"/>
<rect x="351.89" y="195.08" width="0.21" height="1.71" fill="#da2b3f" fill-opacity="0.4" stroke="#da2b3f" stroke-opacity="0.4" stroke-width="0.45"/>
<rect x="351.94" y="193.07" width="0.16" height="1.71" fill="#da2b3f" fill-opacity="0.4" stroke="#da2b3f" stroke-opacity="0.4" stroke-width="0.45"/>
<rect x="352.1" y="239.39" width="28.37" height="1.71" fill="#add8e6" fill-opacity="0.3" stroke="#0000ff" stroke-opacity="0.3" stroke-width="0.45"/>
<rect x="352.1" y="237.37" width="33.63" height="1.71" fill="#add8e6" fill-opacity="0.3" stroke="#0000ff" stroke-opacity="0.3" stroke-width="0.45"/>
<rect x="352.1" y="235.36" width="38.36" height="1.71" fill="#add8e6" fill-opacity="0.3" stroke="#0000ff" stroke-opacity="0.3" stroke-width="0.45"/>
<rect x="352.1" y="233.35" width="52.55" height="1.71" fill="#add8e6" fill-opacity="0.3" stroke="#0000ff" stroke-opacity="0.3" stroke-width="0.45"/>
<rect x="352.1" y="231.33" width="33.63" height="1.71" fill="#add8e6" fill-opacity="0.3" stroke="#0000ff" stroke-opacity="0.3" stroke-width="0.45"/>
<rect x="352.1" y="229.32" width="14.71" height="1.71" fill="#add8e6" fill-opacity="0.3" stroke="#0000ff" stroke-opacity="0.3" stroke-width="0.45"/>
<rect x="352.1" y="227.3" width="24.17" height="1.71" fill="#add8e6" fill-opacity="0.3" stroke="#0000ff" stroke-opacity="0.3" stroke-width="0.45"/>
<rect x="352.1" y="225.29" width="9.46" height="1.71" fill="#add8e6" fill-opacity="0.3" stroke="#0000ff" stroke-opacity="0.3" stroke-width="0.45"/>
<rect x="352.1" y="223.28" width="28.37" height="1.71" fill="#add8e6" fill-opacity="0.3" stroke="#0000ff" stroke-opacity="0.3" stroke-width="0.45"/>
<rect x="352.1" y="221.26" width="9.46" height="1.71" fill="#add8e6" fill-opacity="0.3" stroke="#0000ff" stroke-opacity="0.3" stroke-width="0.45"/>
<rect x="352.1" y="219.25" width="9.46" height="1.71" fill="#add8e6" fill-opacity="0.3" stroke="#0000ff" stroke-opacity="0.3" stroke-width="0.45"/>
<rect x="352.1" y="217.23" width="9.46" height="1.71" fill="#add8e6" fill-opacity="0.3" stroke="#0000ff" stroke-opacity="0.3" stroke-width="0.45"/>
<rect x="352.1" y="215.22" width="9.46" height="1.71" fill="#add8e6" fill-opacity="0.3" stroke="#0000ff" stroke-opacity="0.3" stroke-width="0.45"/>
<rect x="352.1" y="213.21" width="9.98" height="1.71" fill="#add8e6" fill-opacity="0.3" stroke="#0000ff" stroke-opacity="0.3" stroke-width="0.45"/>
<rect x="352.1" y="207.16" width="4.73" height="1.71" fill="#add8e6" fill-opacity="0.3" stroke="#0000ff" stroke-opacity="0.3" stroke-width="0.45"/>
<rect x="352.1" y="205.15" width="4.73" height="1.71" fill="#add8e6" fill-opacity="0.3" stroke="#0000ff" stroke-opacity="0.3" stroke-width="0.45"/>
<rect x="352.1" y="197.09" width="9.98" height="1.71" fill="#add8e6" fill-opacity="0.3" stroke="#0000ff" stroke-opacity="0.3" stroke-width="0.45"/>
<rect x="352.1" y="195.08" width="4.73" height="1.71" fill="#add8e6" fill-opacity="0.3" stroke="#0000ff" stroke-opacity="0.3" stroke-width="0.45"/>
<rect x="352.1" y="183" width="5.25" height="1.71" fill="#add8e6" fill-opacity="0.3" stroke="#0000ff" stroke-opacity="0.3" stroke-width="0.45"/>
<rect x="352.1" y="158.83" width="5.25" height="1.71" fill="#add8e6" fill-opacity="0.3" stroke="#0000ff" stroke-opacity="0.3" stroke-width="0.45"/>
<rect x="352.1" y="241.4" width="1.31" height="1.71" fill="#90ee90" fill-opacity="0.3" stroke="#008000" stroke-opacity="0.3" stroke-width="0.45"/>
<rect x="352.1" y="239.39" width="28.37" height="1.71" fill="#90ee90" fill-opacity="0.3" stroke="#008000" stroke-opacity="0.3" stroke-width="0.45"/>
<rect x="352.1" y="237.37" width="44.14" height="1.71" fill="#90ee90" fill-opacity="0.3" stroke="#008000" stroke-opacity="0.3" stroke-width="0.45"/>
<rect x="352.1" y="235.36" width="52.55" height="1.71" fill="#90ee90" fill-opacity="0.3" stroke="#008000" stroke-opacity="0.3" stroke-width="0.45"/>
<rect x="352.1" y="233.35" width="43.09" height="1.71" fill="#90ee90" fill-opacity="0.3" stroke="#008000" stroke-opacity="0.3" stroke-width="0.45"/>
<rect x="352.1" y="231.33" width="36.26" height="1.71" fill="#90ee90" fill-opacity="0.3" stroke="#008000" stroke-opacity="0.3" stroke-width="0.45"/>
<rect x="352.1" y="229.32" width="31.53" height="1.71" fill="#90ee90" fill-opacity="0.3" stroke="#008000" stroke-opacity="0.3" stroke-width="0.45"/>
<rect x="352.1" y="227.3" width="16.29" height="1.71" fill="#90ee90" fill-opacity="0.3" stroke="#008000" stroke-opacity="0.3" stroke-width="0.45"/>
<rect x="352.1" y="225.29" width="16.29" height="1.71" fill="#90ee90" fill-opacity="0.3" stroke="#008000" stroke-opacity="0.3" stroke-width="0.45"/>
<rect x="352.1" y="223.28" width="21.54" height="1.71" fill="#90ee90" fill-opacity="0.3" stroke="#008000" stroke-opacity="0.3" stroke-width="0.45"/>
<rect x="352.1" y="221.26" width="9.46" height="1.71" fill="#90ee90" fill-opacity="0.3" stroke="#008000" stroke-opacity="0.3" stroke-width="0.45"/>
<rect x="352.1" y="219.25" width="18.39" height="1.71" fill="#90ee90" fill-opacity="0.3" stroke="#008000" stroke-opacity="0.3" stroke-width="0.45"/>
<rect x="352.1" y="217.23" width="9.46" height="1.71" fill="#90ee90" fill-opacity="0.3" stroke="#008000" stroke-opacity="0.3" stroke-width="0.45"/>
<rect x="352.1" y="215.22" width="11.56" height="1.71" fill="#90ee90" fill-opacity="0.3" stroke="#008000" stroke-opacity="0.3" stroke-width="0.45"/>
<rect x="352.1" y="211.19" width="3.68" height="1.71" fill="#90ee90" fill-opacity="0.3" stroke="#008000" stroke-opacity="0.3" stroke-width="0.45"/>
<rect x="352.1" y="209.18" width="3.68" height="1.71" fill="#90ee90" fill-opacity="0.3" stroke="#008000" stroke-opacity="0.3" stroke-width="0.45"/>
<rect x="352.1" y="203.14" width="1.58" height="1.71" fill="#90ee90" fill-opacity="0.3" stroke="#008000" stroke-opacity="0.3" stroke-width="0.45"/>
<rect x="352.1" y="197.09" width="1.58" height="1.71" fill="#90ee90" fill-opacity="0.3" stroke="#008000" stroke-opacity="0.3" stroke-width="0.45"/>
<rect x="352.1" y="193.07" width="1.58" height="1.71" fill="#90ee90" fill-opacity="0.3" stroke="#008000" stroke-opacity="0.3" stroke-width="0.45"/>
<rect x="352.1" y="180.98" width="1.05" height="1.71" fill="#90ee90" fill-opacity="0.3" stroke="#008000" stroke-opacity="0.3" stroke-width="0.45"/>
<rect x="352.1" y="170.91" width="1.05" height="1.71" fill="#90ee90" fill-opacity="0.3" stroke="#008000" stroke-opacity="0.3" stroke-width="0.45"/>
<rect x="352.1" y="150.77" width="1.05" height="1.71" fill="#90ee90" fill-opacity="0.3" stroke="#008000" stroke-opacity="0.3" stroke-width="0.45"/>
<line x1="352.5" y1="150.3" x2="352.5" y2="249.3" stroke="#334" stroke-width="0.7" stroke-dasharray="1.25,0.75" stroke-opacity="0.8"/>
</g>
<rect x="294.3" y="145.5" width="115.6" height="108.85" fill="none" stroke="#000" stroke-width="0.42"/>
<line x1="299.55" y1="254.35" x2="299.55" y2="256.05" stroke="#000" stroke-width="0.45"/>
<line x1="325.83" y1="254.35" x2="325.83" y2="256.05" stroke="#000" stroke-width="0.45"/>
<line x1="352.1" y1="254.35" x2="352.1" y2="256.05" stroke="#000" stroke-width="0.45"/>
<line x1="378.37" y1="254.35" x2="378.37" y2="256.05" stroke="#000" stroke-width="0.45"/>
<line x1="404.65" y1="254.35" x2="404.65" y2="256.05" stroke="#000" stroke-width="0.45"/>
<line x1="294.3" y1="248.3" x2="292.6" y2="248.3" stroke="#000" stroke-width="0.45"/>
<line x1="294.3" y1="228.16" x2="292.6" y2="228.16" stroke="#000" stroke-width="0.45"/>
<line x1="294.3" y1="208.02" x2="292.6" y2="208.02" stroke="#000" stroke-width="0.45"/>
<line x1="294.3" y1="187.88" x2="292.6" y2="187.88" stroke="#000" stroke-width="0.45"/>
<line x1="294.3" y1="167.74" x2="292.6" y2="167.74" stroke="#000" stroke-width="0.45"/>
<line x1="294.3" y1="147.6" x2="292.6" y2="147.6" stroke="#000" stroke-width="0.45"/>
<clipPath id="c4306_1455"><rect x="430.6" y="145.5" width="115.6" height="108.85"/></clipPath>
<g clip-path="url(#c4306_1455)">
<rect x="464.75" y="237.37" width="23.65" height="1.71" fill="#da2b3f" fill-opacity="0.4" stroke="#da2b3f" stroke-opacity="0.4" stroke-width="0.45"/>
<rect x="446.89" y="235.36" width="41.51" height="1.71" fill="#da2b3f" fill-opacity="0.4" stroke="#da2b3f" stroke-opacity="0.4" stroke-width="0.45"/>
<rect x="436.38" y="233.35" width="52.02" height="1.71" fill="#da2b3f" fill-opacity="0.4" stroke="#da2b3f" stroke-opacity="0.4" stroke-width="0.45"/>
<rect x="436.91" y="231.33" width="51.49" height="1.71" fill="#da2b3f" fill-opacity="0.4" stroke="#da2b3f" stroke-opacity="0.4" stroke-width="0.45"/>
<rect x="442.16" y="227.3" width="46.24" height="1.71" fill="#da2b3f" fill-opacity="0.4" stroke="#da2b3f" stroke-opacity="0.4" stroke-width="0.45"/>
<rect x="450.04" y="225.29" width="38.36" height="1.71" fill="#da2b3f" fill-opacity="0.4" stroke="#da2b3f" stroke-opacity="0.4" stroke-width="0.45"/>
<rect x="456.35" y="223.28" width="32.05" height="1.71" fill="#da2b3f" fill-opacity="0.4" stroke="#da2b3f" stroke-opacity="0.4" stroke-width="0.45"/>
<rect x="463.18" y="221.26" width="25.22" height="1.71" fill="#da2b3f" fill-opacity="0.4" stroke="#da2b3f" stroke-opacity="0.4" stroke-width="0.45"/>
<rect x="468.43" y="219.25" width="19.97" height="1.71" fill="#da2b3f" fill-opacity="0.4" stroke="#da2b3f" stroke-opacity="0.4" stroke-width="0.45"/>
<rect x="472.11" y="217.23" width="16.29" height="1.71" fill="#da2b3f" fill-opacity="0.4" stroke="#da2b3f" stroke-opacity="0.4" stroke-width="0.45"/>
<rect x="475.79" y="215.22" width="12.61" height="1.71" fill="#da2b3f" fill-opacity="0.4" stroke="#da2b3f" stroke-opacity="0.4" stroke-width="0.45"/>
<rect x="478.94" y="213.21" width="9.46" height="1.71" fill="#da2b3f" fill-opacity="0.4" stroke="#da2b3f" stroke-opacity="0.4" stroke-width="0.45"/>
<rect x="481.57" y="211.19" width="6.83" height="1.71" fill="#da2b3f" fill-opacity="0.4" stroke="#da2b3f" stroke-opacity="0.4" stroke-width="0.45"/>
<rect x="482.09" y="207.16" width="6.31" height="1.71" fill="#da2b3f" fill-opacity="0.4" stroke="#da2b3f" stroke-opacity="0.4" stroke-width="0.45"/>
<rect x="482.62" y="205.15" width="5.78" height="1.71" fill="#da2b3f" fill-opacity="0.4" stroke="#da2b3f" stroke-opacity="0.4" stroke-width="0.45"/>
<rect x="484.2" y="203.14" width="4.2" height="1.71" fill="#da2b3f" fill-opacity="0.4" stroke="#da2b3f" stroke-opacity="0.4" stroke-width="0.45"/>
<rect x="485.77" y="201.12" width="2.63" height="1.71" fill="#da2b3f" fill-opacity="0.4" stroke="#da2b3f" stroke-opacity="0.4" stroke-width="0.45"/>
<rect x="486.3" y="199.11" width="2.1" height="1.71" fill="#da2b3f" fill-opacity="0.4" stroke="#da2b3f" stroke-opacity="0.4" stroke-width="0.45"/>
<rect x="486.82" y="197.09" width="1.58" height="1.71" fill="#da2b3f" fill-opacity="0.4" stroke="#da2b3f" stroke-opacity="0.4" stroke-width="0.45"/>
<rect x="487.35" y="195.08" width="1.05" height="1.71" fill="#da2b3f" fill-opacity="0.4" stroke="#da2b3f" stroke-opacity="0.4" stroke-width="0.45"/>
<rect x="487.61" y="193.07" width="0.79" height="1.71" fill="#da2b3f" fill-opacity="0.4" stroke="#da2b3f" stroke-opacity="0.4" stroke-width="0.45"/>
<rect x="487.87" y="191.05" width="0.53" height="1.71" fill="#da2b3f" fill-opacity="0.4" stroke="#da2b3f" stroke-opacity="0.4" stroke-width="0.45"/>
<rect x="487.98" y="189.04" width="0.42" height="1.71" fill="#da2b3f" fill-opacity="0.4" stroke="#da2b3f" stroke-opacity="0.4" stroke-width="0.45"/>
<rect x="488.4" y="237.37" width="11.03" height="1.71" fill="#add8e6" fill-opacity="0.3" stroke="#0000ff" stroke-opacity="0.3" stroke-width="0.45"/>
<rect x="488.4" y="235.36" width="18.39" height="1.71" fill="#add8e6" fill-opacity="0.3" stroke="#0000ff" stroke-opacity="0.3" stroke-width="0.45"/>
<rect x="488.4" y="233.35" width="37.31" height="1.71" fill="#add8e6" fill-opacity="0.3" stroke="#0000ff" stroke-opacity="0.3" stroke-width="0.45"/>
<rect x="488.4" y="231.33" width="26.27" height="1.71" fill="#add8e6" fill-opacity="0.3" stroke="#0000ff" stroke-opacity="0.3" stroke-width="0.45"/>
<rect x="488.4" y="227.3" width="26.27" height="1.71" fill="#add8e6" fill-opacity="0.3" stroke="#0000ff" stroke-opacity="0.3" stroke-width="0.45"/>
<rect x="488.4" y="225.29" width="43.09" height="1.71" fill="#add8e6" fill-opacity="0.3" stroke="#0000ff" stroke-opacity="0.3" stroke-width="0.45"/>
<rect x="488.4" y="223.28" width="42.04" height="1.71" fill="#add8e6" fill-opacity="0.3" stroke="#0000ff" stroke-opacity="0.3" stroke-width="0.45"/>
<rect x="488.4" y="221.26" width="31.53" height="1.71" fill="#add8e6" fill-opacity="0.3" stroke="#0000ff" stroke-opacity="0.3" stroke-width="0.45"/>
<rect x="488.4" y="219.25" width="26.27" height="1.71" fill="#add8e6" fill-opacity="0.3" stroke="#0000ff" stroke-opacity="0.3" stroke-width="0.45"/>
<rect x="488.4" y="217.23" width="26.27" height="1.71" fill="#add8e6" fill-opacity="0.3" stroke="#0000ff" stroke-opacity="0.3" stroke-width="0.45"/>
<rect x="488.4" y="207.16" width="5.25" height="1.71" fill="#add8e6" fill-opacity="0.3" stroke="#0000ff" stroke-opacity="0.3" stroke-width="0.45"/>
<rect x="488.4" y="205.15" width="5.25" height="1.71" fill="#add8e6" fill-opacity="0.3" stroke="#0000ff" stroke-opacity="0.3" stroke-width="0.45"/>
<rect x="488.4" y="201.12" width="5.25" height="1.71" fill="#add8e6" fill-opacity="0.3" stroke="#0000ff" stroke-opacity="0.3" stroke-width="0.45"/>
<rect x="488.4" y="199.11" width="5.25" height="1.71" fill="#add8e6" fill-opacity="0.3" stroke="#0000ff" stroke-opacity="0.3" stroke-width="0.45"/>
<rect x="488.4" y="195.08" width="5.25" height="1.71" fill="#add8e6" fill-opacity="0.3" stroke="#0000ff" stroke-opacity="0.3" stroke-width="0.45"/>
<rect x="488.4" y="178.97" width="5.25" height="1.71" fill="#add8e6" fill-opacity="0.3" stroke="#0000ff" stroke-opacity="0.3" stroke-width="0.45"/>
<rect x="488.4" y="239.39" width="5.25" height="1.71" fill="#90ee90" fill-opacity="0.3" stroke="#008000" stroke-opacity="0.3" stroke-width="0.45"/>
<rect x="488.4" y="237.37" width="11.03" height="1.71" fill="#90ee90" fill-opacity="0.3" stroke="#008000" stroke-opacity="0.3" stroke-width="0.45"/>
<rect x="488.4" y="235.36" width="29.43" height="1.71" fill="#90ee90" fill-opacity="0.3" stroke="#008000" stroke-opacity="0.3" stroke-width="0.45"/>
<rect x="488.4" y="233.35" width="24.7" height="1.71" fill="#90ee90" fill-opacity="0.3" stroke="#008000" stroke-opacity="0.3" stroke-width="0.45"/>
<rect x="488.4" y="231.33" width="39.41" height="1.71" fill="#90ee90" fill-opacity="0.3" stroke="#008000" stroke-opacity="0.3" stroke-width="0.45"/>
<rect x="488.4" y="227.3" width="49.92" height="1.71" fill="#90ee90" fill-opacity="0.3" stroke="#008000" stroke-opacity="0.3" stroke-width="0.45"/>
<rect x="488.4" y="225.29" width="52.55" height="1.71" fill="#90ee90" fill-opacity="0.3" stroke="#008000" stroke-opacity="0.3" stroke-width="0.45"/>
<rect x="488.4" y="223.28" width="37.31" height="1.71" fill="#90ee90" fill-opacity="0.3" stroke="#008000" stroke-opacity="0.3" stroke-width="0.45"/>
<rect x="488.4" y="221.26" width="24.7" height="1.71" fill="#90ee90" fill-opacity="0.3" stroke="#008000" stroke-opacity="0.3" stroke-width="0.45"/>
<rect x="488.4" y="219.25" width="21.02" height="1.71" fill="#90ee90" fill-opacity="0.3" stroke="#008000" stroke-opacity="0.3" stroke-width="0.45"/>
<rect x="488.4" y="217.23" width="13.66" height="1.71" fill="#90ee90" fill-opacity="0.3" stroke="#008000" stroke-opacity="0.3" stroke-width="0.45"/>
<rect x="488.4" y="215.22" width="24.17" height="1.71" fill="#90ee90" fill-opacity="0.3" stroke="#008000" stroke-opacity="0.3" stroke-width="0.45"/>
<rect x="488.4" y="213.21" width="15.76" height="1.71" fill="#90ee90" fill-opacity="0.3" stroke="#008000" stroke-opacity="0.3" stroke-width="0.45"/>
<rect x="488.4" y="211.19" width="11.03" height="1.71" fill="#90ee90" fill-opacity="0.3" stroke="#008000" stroke-opacity="0.3" stroke-width="0.45"/>
<rect x="488.4" y="207.16" width="7.36" height="1.71" fill="#90ee90" fill-opacity="0.3" stroke="#008000" stroke-opacity="0.3" stroke-width="0.45"/>
<rect x="488.4" y="205.15" width="7.88" height="1.71" fill="#90ee90" fill-opacity="0.3" stroke="#008000" stroke-opacity="0.3" stroke-width="0.45"/>
<rect x="488.4" y="203.14" width="5.78" height="1.71" fill="#90ee90" fill-opacity="0.3" stroke="#008000" stroke-opacity="0.3" stroke-width="0.45"/>
<rect x="488.4" y="201.12" width="11.03" height="1.71" fill="#90ee90" fill-opacity="0.3" stroke="#008000" stroke-opacity="0.3" stroke-width="0.45"/>
<rect x="488.4" y="199.11" width="5.78" height="1.71" fill="#90ee90" fill-opacity="0.3" stroke="#008000" stroke-opacity="0.3" stroke-width="0.45"/>
<rect x="488.4" y="197.09" width="5.78" height="1.71" fill="#90ee90" fill-opacity="0.3" stroke="#008000" stroke-opacity="0.3" stroke-width="0.45"/>
<rect x="488.4" y="195.08" width="8.41" height="1.71" fill="#90ee90" fill-opacity="0.3" stroke="#008000" stroke-opacity="0.3" stroke-width="0.45"/>
<rect x="488.4" y="193.07" width="2.63" height="1.71" fill="#90ee90" fill-opacity="0.3" stroke="#008000" stroke-opacity="0.3" stroke-width="0.45"/>
<rect x="488.4" y="180.98" width="2.63" height="1.71" fill="#90ee90" fill-opacity="0.3" stroke="#008000" stroke-opacity="0.3" stroke-width="0.45"/>
<rect x="488.4" y="162.86" width="2.63" height="1.71" fill="#90ee90" fill-opacity="0.3" stroke="#008000" stroke-opacity="0.3" stroke-width="0.45"/>
<rect x="488.4" y="150.77" width="3.15" height="1.71" fill="#90ee90" fill-opacity="0.3" stroke="#008000" stroke-opacity="0.3" stroke-width="0.45"/>
<line x1="488.5" y1="150.3" x2="488.5" y2="249.3" stroke="#334" stroke-width="0.7" stroke-dasharray="1.25,0.75" stroke-opacity="0.8"/>
</g>
<rect x="430.6" y="145.5" width="115.6" height="108.85" fill="none" stroke="#000" stroke-width="0.42"/>
<line x1="435.85" y1="254.35" x2="435.85" y2="256.05" stroke="#000" stroke-width="0.45"/>
<line x1="462.13" y1="254.35" x2="462.13" y2="256.05" stroke="#000" stroke-width="0.45"/>
<line x1="488.4" y1="254.35" x2="488.4" y2="256.05" stroke="#000" stroke-width="0.45"/>
<line x1="514.67" y1="254.35" x2="514.67" y2="256.05" stroke="#000" stroke-width="0.45"/>
<line x1="540.95" y1="254.35" x2="540.95" y2="256.05" stroke="#000" stroke-width="0.45"/>
<line x1="430.6" y1="248.3" x2="428.9" y2="248.3" stroke="#000" stroke-width="0.45"/>
<line x1="430.6" y1="228.16" x2="428.9" y2="228.16" stroke="#000" stroke-width="0.45"/>
<line x1="430.6" y1="208.02" x2="428.9" y2="208.02" stroke="#000" stroke-width="0.45"/>
<line x1="430.6" y1="187.88" x2="428.9" y2="187.88" stroke="#000" stroke-width="0.45"/>
<line x1="430.6" y1="167.74" x2="428.9" y2="167.74" stroke="#000" stroke-width="0.45"/>
<line x1="430.6" y1="147.6" x2="428.9" y2="147.6" stroke="#000" stroke-width="0.45"/>
<clipPath id="c5672_1455"><rect x="567.2" y="145.5" width="115.6" height="108.85"/></clipPath>
<g clip-path="url(#c5672_1455)">
<rect x="609.24" y="233.35" width="15.76" height="1.71" fill="#da2b3f" fill-opacity="0.4" stroke="#da2b3f" stroke-opacity="0.4" stroke-width="0.45"/>
<rect x="591.37" y="231.33" width="33.63" height="1.71" fill="#da2b3f" fill-opacity="0.4" stroke="#da2b3f" stroke-opacity="0.4" stroke-width="0.45"/>
<rect x="577.71" y="229.32" width="47.29" height="1.71" fill="#da2b3f" fill-opacity="0.4" stroke="#da2b3f" stroke-opacity="0.4" stroke-width="0.45"/>
<rect x="572.98" y="225.29" width="52.02" height="1.71" fill="#da2b3f" fill-opacity="0.4" stroke="#da2b3f" stroke-opacity="0.4" stroke-width="0.45"/>
<rect x="574.03" y="223.28" width="50.97" height="1.71" fill="#da2b3f" fill-opacity="0.4" stroke="#da2b3f" stroke-opacity="0.4" stroke-width="0.45"/>
<rect x="577.18" y="221.26" width="47.82" height="1.71" fill="#da2b3f" fill-opacity="0.4" stroke="#da2b3f" stroke-opacity="0.4" stroke-width="0.45"/>
<rect x="584.54" y="219.25" width="40.46" height="1.71" fill="#da2b3f" fill-opacity="0.4" stroke="#da2b3f" stroke-opacity="0.4" stroke-width="0.45"/>
<rect x="589.79" y="217.23" width="35.21" height="1.71" fill="#da2b3f" fill-opacity="0.4" stroke="#da2b3f" stroke-opacity="0.4" stroke-width="0.45"/>
<rect x="596.1" y="213.21" width="28.9" height="1.71" fill="#da2b3f" fill-opacity="0.4" stroke="#da2b3f" stroke-opacity="0.4" stroke-width="0.45"/>
<rect x="599.78" y="211.19" width="25.22" height="1.71" fill="#da2b3f" fill-opacity="0.4" stroke="#da2b3f" stroke-opacity="0.4" stroke-width="0.45"/>
<rect x="604.51" y="209.18" width="20.49" height="1.71" fill="#da2b3f" fill-opacity="0.4" stroke="#da2b3f" stroke-opacity="0.4" stroke-width="0.45"/>
<rect x="608.19" y="207.16" width="16.81" height="1.71" fill="#da2b3f" fill-opacity="0.4" stroke="#da2b3f" stroke-opacity="0.4" stroke-width="0.45"/>
<rect x="610.81" y="203.14" width="14.19" height="1.71" fill="#da2b3f" fill-opacity="0.4" stroke="#da2b3f" stroke-opacity="0.4" stroke-width="0.45"/>
<rect x="613.44" y="201.12" width="11.56" height="1.71" fill="#da2b3f" fill-opacity="0.4" stroke="#da2b3f" stroke-opacity="0.4" stroke-width="0.45"/>
<rect x="616.07" y="199.11" width="8.93" height="1.71" fill="#da2b3f" fill-opacity="0.4" stroke="#da2b3f" stroke-opacity="0.4" stroke-width="0.45"/>
<rect x="618.17" y="197.09" width="6.83" height="1.71" fill="#da2b3f" fill-opacity="0.4" stroke="#da2b3f" stroke-opacity="0.4" stroke-width="0.45"/>
<rect x="619.75" y="195.08" width="5.25" height="1.71" fill="#da2b3f" fill-opacity="0.4" stroke="#da2b3f" stroke-opacity="0.4" stroke-width="0.45"/>
<rect x="620.27" y="193.07" width="4.73" height="1.71" fill="#da2b3f" fill-opacity="0.4" stroke="#da2b3f" stroke-opacity="0.4" stroke-width="0.45"/>
<rect x="620.8" y="191.05" width="4.2" height="1.71" fill="#da2b3f" fill-opacity="0.4" stroke="#da2b3f" stroke-opacity="0.4" stroke-width="0.45"/>
<rect x="621.32" y="189.04" width="3.68" height="1.71" fill="#da2b3f" fill-opacity="0.4" stroke="#da2b3f" stroke-opacity="0.4" stroke-width="0.45"/>
<rect x="621.85" y="187.02" width="3.15" height="1.71" fill="#da2b3f" fill-opacity="0.4" stroke="#da2b3f" stroke-opacity="0.4" stroke-width="0.45"/>
<rect x="620.8" y="185.01" width="4.2" height="1.71" fill="#da2b3f" fill-opacity="0.4" stroke="#da2b3f" stroke-opacity="0.4" stroke-width="0.45"/>
<rect x="622.37" y="183" width="2.63" height="1.71" fill="#da2b3f" fill-opacity="0.4" stroke="#da2b3f" stroke-opacity="0.4" stroke-width="0.45"/>
<rect x="622.9" y="180.98" width="2.1" height="1.71" fill="#da2b3f" fill-opacity="0.4" stroke="#da2b3f" stroke-opacity="0.4" stroke-width="0.45"/>
<rect x="623.42" y="178.97" width="1.58" height="1.71" fill="#da2b3f" fill-opacity="0.4" stroke="#da2b3f" stroke-opacity="0.4" stroke-width="0.45"/>
<rect x="623.69" y="176.95" width="1.31" height="1.71" fill="#da2b3f" fill-opacity="0.4" stroke="#da2b3f" stroke-opacity="0.4" stroke-width="0.45"/>
<rect x="623.95" y="174.94" width="1.05" height="1.71" fill="#da2b3f" fill-opacity="0.4" stroke="#da2b3f" stroke-opacity="0.4" stroke-width="0.45"/>
<rect x="624.21" y="172.93" width="0.79" height="1.71" fill="#da2b3f" fill-opacity="0.4" stroke="#da2b3f" stroke-opacity="0.4" stroke-width="0.45"/>
<rect x="624.37" y="170.91" width="0.63" height="1.71" fill="#da2b3f" fill-opacity="0.4" stroke="#da2b3f" stroke-opacity="0.4" stroke-width="0.45"/>
<rect x="624.47" y="168.9" width="0.53" height="1.71" fill="#da2b3f" fill-opacity="0.4" stroke="#da2b3f" stroke-opacity="0.4" stroke-width="0.45"/>
<rect x="624.47" y="166.88" width="0.53" height="1.71" fill="#da2b3f" fill-opacity="0.4" stroke="#da2b3f" stroke-opacity="0.4" stroke-width="0.45"/>
<rect x="624.58" y="164.87" width="0.42" height="1.71" fill="#da2b3f" fill-opacity="0.4" stroke="#da2b3f" stroke-opacity="0.4" stroke-width="0.45"/>
<rect x="624.68" y="162.86" width="0.32" height="1.71" fill="#da2b3f" fill-opacity="0.4" stroke="#da2b3f" stroke-opacity="0.4" stroke-width="0.45"/>
<rect x="625" y="231.33" width="17.87" height="1.71" fill="#add8e6" fill-opacity="0.3" stroke="#0000ff" stroke-opacity="0.3" stroke-width="0.45"/>
<rect x="625" y="229.32" width="17.87" height="1.71" fill="#add8e6" fill-opacity="0.3" stroke="#0000ff" stroke-opacity="0.3" stroke-width="0.45"/>
<rect x="625" y="225.29" width="17.87" height="1.71" fill="#add8e6" fill-opacity="0.3" stroke="#0000ff" stroke-opacity="0.3" stroke-width="0.45"/>
<rect x="625" y="223.28" width="52.55" height="1.71" fill="#add8e6" fill-opacity="0.3" stroke="#0000ff" stroke-opacity="0.3" stroke-width="0.45"/>
<rect x="625" y="221.26" width="8.93" height="1.71" fill="#add8e6" fill-opacity="0.3" stroke="#0000ff" stroke-opacity="0.3" stroke-width="0.45"/>
<rect x="625" y="219.25" width="26.27" height="1.71" fill="#add8e6" fill-opacity="0.3" stroke="#0000ff" stroke-opacity="0.3" stroke-width="0.45"/>
<rect x="625" y="217.23" width="21.02" height="1.71" fill="#add8e6" fill-opacity="0.3" stroke="#0000ff" stroke-opacity="0.3" stroke-width="0.45"/>
<rect x="625" y="213.21" width="44.14" height="1.71" fill="#add8e6" fill-opacity="0.3" stroke="#0000ff" stroke-opacity="0.3" stroke-width="0.45"/>
<rect x="625" y="211.19" width="21.02" height="1.71" fill="#add8e6" fill-opacity="0.3" stroke="#0000ff" stroke-opacity="0.3" stroke-width="0.45"/>
<rect x="625" y="209.18" width="35.21" height="1.71" fill="#add8e6" fill-opacity="0.3" stroke="#0000ff" stroke-opacity="0.3" stroke-width="0.45"/>
<rect x="625" y="207.16" width="15.76" height="1.71" fill="#add8e6" fill-opacity="0.3" stroke="#0000ff" stroke-opacity="0.3" stroke-width="0.45"/>
<rect x="625" y="203.14" width="35.21" height="1.71" fill="#add8e6" fill-opacity="0.3" stroke="#0000ff" stroke-opacity="0.3" stroke-width="0.45"/>
<rect x="625" y="201.12" width="5.25" height="1.71" fill="#add8e6" fill-opacity="0.3" stroke="#0000ff" stroke-opacity="0.3" stroke-width="0.45"/>
<rect x="625" y="199.11" width="8.93" height="1.71" fill="#add8e6" fill-opacity="0.3" stroke="#0000ff" stroke-opacity="0.3" stroke-width="0.45"/>
<rect x="625" y="197.09" width="2.63" height="1.71" fill="#add8e6" fill-opacity="0.3" stroke="#0000ff" stroke-opacity="0.3" stroke-width="0.45"/>
<rect x="625" y="195.08" width="2.63" height="1.71" fill="#add8e6" fill-opacity="0.3" stroke="#0000ff" stroke-opacity="0.3" stroke-width="0.45"/>
<rect x="625" y="189.04" width="8.93" height="1.71" fill="#add8e6" fill-opacity="0.3" stroke="#0000ff" stroke-opacity="0.3" stroke-width="0.45"/>
<rect x="625" y="150.77" width="8.93" height="1.71" fill="#add8e6" fill-opacity="0.3" stroke="#0000ff" stroke-opacity="0.3" stroke-width="0.45"/>
<rect x="625" y="233.35" width="20.49" height="1.71" fill="#90ee90" fill-opacity="0.3" stroke="#008000" stroke-opacity="0.3" stroke-width="0.45"/>
<rect x="625" y="231.33" width="20.49" height="1.71" fill="#90ee90" fill-opacity="0.3" stroke="#008000" stroke-opacity="0.3" stroke-width="0.45"/>
<rect x="625" y="229.32" width="52.55" height="1.71" fill="#90ee90" fill-opacity="0.3" stroke="#008000" stroke-opacity="0.3" stroke-width="0.45"/>
<rect x="625" y="225.29" width="42.04" height="1.71" fill="#90ee90" fill-opacity="0.3" stroke="#008000" stroke-opacity="0.3" stroke-width="0.45"/>
<rect x="625" y="223.28" width="31.53" height="1.71" fill="#90ee90" fill-opacity="0.3" stroke="#008000" stroke-opacity="0.3" stroke-width="0.45"/>
<rect x="625" y="221.26" width="52.55" height="1.71" fill="#90ee90" fill-opacity="0.3" stroke="#008000" stroke-opacity="0.3" stroke-width="0.45"/>
<rect x="625" y="219.25" width="42.04" height="1.71" fill="#90ee90" fill-opacity="0.3" stroke="#008000" stroke-opacity="0.3" stroke-width="0.45"/>
<rect x="625" y="217.23" width="52.55" height="1.71" fill="#90ee90" fill-opacity="0.3" stroke="#008000" stroke-opacity="0.3" stroke-width="0.45"/>
<rect x="625" y="213.21" width="26.27" height="1.71" fill="#90ee90" fill-opacity="0.3" stroke="#008000" stroke-opacity="0.3" stroke-width="0.45"/>
<rect x="625" y="211.19" width="31.53" height="1.71" fill="#90ee90" fill-opacity="0.3" stroke="#008000" stroke-opacity="0.3" stroke-width="0.45"/>
<rect x="625" y="209.18" width="17.87" height="1.71" fill="#90ee90" fill-opacity="0.3" stroke="#008000" stroke-opacity="0.3" stroke-width="0.45"/>
<rect x="625" y="207.16" width="26.27" height="1.71" fill="#90ee90" fill-opacity="0.3" stroke="#008000" stroke-opacity="0.3" stroke-width="0.45"/>
<rect x="625" y="203.14" width="15.76" height="1.71" fill="#90ee90" fill-opacity="0.3" stroke="#008000" stroke-opacity="0.3" stroke-width="0.45"/>
<rect x="625" y="201.12" width="10.51" height="1.71" fill="#90ee90" fill-opacity="0.3" stroke="#008000" stroke-opacity="0.3" stroke-width="0.45"/>
<rect x="625" y="199.11" width="6.31" height="1.71" fill="#90ee90" fill-opacity="0.3" stroke="#008000" stroke-opacity="0.3" stroke-width="0.45"/>
<rect x="625" y="197.09" width="15.76" height="1.71" fill="#90ee90" fill-opacity="0.3" stroke="#008000" stroke-opacity="0.3" stroke-width="0.45"/>
<rect x="625" y="195.08" width="5.25" height="1.71" fill="#90ee90" fill-opacity="0.3" stroke="#008000" stroke-opacity="0.3" stroke-width="0.45"/>
<rect x="625" y="191.05" width="10.51" height="1.71" fill="#90ee90" fill-opacity="0.3" stroke="#008000" stroke-opacity="0.3" stroke-width="0.45"/>
<rect x="625" y="185.01" width="15.76" height="1.71" fill="#90ee90" fill-opacity="0.3" stroke="#008000" stroke-opacity="0.3" stroke-width="0.45"/>
<rect x="625" y="174.94" width="10.51" height="1.71" fill="#90ee90" fill-opacity="0.3" stroke="#008000" stroke-opacity="0.3" stroke-width="0.45"/>
<rect x="625" y="172.93" width="5.25" height="1.71" fill="#90ee90" fill-opacity="0.3" stroke="#008000" stroke-opacity="0.3" stroke-width="0.45"/>
<line x1="625.5" y1="150.3" x2="625.5" y2="249.3" stroke="#334" stroke-width="0.7" stroke-dasharray="1.25,0.75" stroke-opacity="0.8"/>
</g>
<rect x="567.2" y="145.5" width="115.6" height="108.85" fill="none" stroke="#000" stroke-width="0.42"/>
<line x1="572.45" y1="254.35" x2="572.45" y2="256.05" stroke="#000" stroke-width="0.45"/>
<line x1="598.73" y1="254.35" x2="598.73" y2="256.05" stroke="#000" stroke-width="0.45"/>
<line x1="625" y1="254.35" x2="625" y2="256.05" stroke="#000" stroke-width="0.45"/>
<line x1="651.27" y1="254.35" x2="651.27" y2="256.05" stroke="#000" stroke-width="0.45"/>
<line x1="677.55" y1="254.35" x2="677.55" y2="256.05" stroke="#000" stroke-width="0.45"/>
<line x1="567.2" y1="248.3" x2="565.5" y2="248.3" stroke="#000" stroke-width="0.45"/>
<line x1="567.2" y1="228.16" x2="565.5" y2="228.16" stroke="#000" stroke-width="0.45"/>
<line x1="567.2" y1="208.02" x2="565.5" y2="208.02" stroke="#000" stroke-width="0.45"/>
<line x1="567.2" y1="187.88" x2="565.5" y2="187.88" stroke="#000" stroke-width="0.45"/>
<line x1="567.2" y1="167.74" x2="565.5" y2="167.74" stroke="#000" stroke-width="0.45"/>
<line x1="567.2" y1="147.6" x2="565.5" y2="147.6" stroke="#000" stroke-width="0.45"/>
<clipPath id="c215_2825"><rect x="21.5" y="282.5" width="115.6" height="108.5"/></clipPath>
<g clip-path="url(#c215_2825)">
<path d="M26.39 386.4 L26.39 386.4 L26.74 386.4 L27.09 386.4 L27.44 386.4 L27.8 386.4 L28.15 386.4 L28.5 386.4 L28.85 386.4 L29.21 386.4 L29.56 386.4 L29.91 386.4 L30.26 386.4 L30.62 386.4 L30.97 386.4 L31.32 386.4 L31.67 386.4 L32.03 386.4 L32.38 386.4 L32.73 386.4 L33.08 386.4 L33.44 386.4 L33.79 386.4 L34.14 386.4 L34.5 386.4 L34.85 386.4 L35.2 386.27 L35.55 385.71 L35.91 384.8 L36.26 383.62 L36.61 380.33 L36.96 376 L37.32 373.44 L37.67 377.68 L38.02 379.79 L38.37 377.84 L38.73 374.71 L39.08 371.41 L39.43 368.12 L39.78 364.34 L40.14 360.55 L40.49 357.08 L40.84 353.25 L41.19 350.79 L41.55 353.04 L41.9 358.19 L42.25 358.16 L42.6 355.14 L42.96 351.15 L43.31 347.87 L43.66 345.42 L44.01 343.16 L44.37 341.04 L44.72 339.02 L45.07 337.15 L45.42 335.4 L45.78 333.67 L46.13 331.84 L46.48 329.82 L46.83 327.63 L47.19 325.38 L47.54 323.13 L47.89 320.98 L48.24 318.95 L48.6 316.67 L48.95 314.29 L49.3 312.06 L49.66 310.24 L50.01 309.08 L50.36 308.86 L50.71 309.81 L51.07 311.16 L51.42 311.87 L51.77 311.13 L52.12 309.25 L52.48 306.92 L52.83 304.8 L53.18 302.74 L53.53 300.58 L53.89 299.22 L54.24 299.72 L54.59 302.17 L54.94 304.61 L55.3 305.08 L55.65 303.32 L56 300.51 L56.35 297.86 L56.71 296.17 L57.06 294.64 L57.41 293.53 L57.76 293.25 L58.12 293.63 L58.47 294.34 L58.82 295.19 L59.17 295.97 L59.53 296.69 L59.88 297.46 L60.23 298.4 L60.58 299.63 L60.94 301.81 L61.29 304.85 L61.64 307.74 L61.99 310.46 L62.35 313.21 L62.7 315.87 L63.05 318.33 L63.4 320.48 L63.76 322.31 L64.11 323.96 L64.46 325.56 L64.82 327.22 L65.17 329.04 L65.52 330.92 L65.87 332.84 L66.23 334.8 L66.58 336.81 L66.93 338.89 L67.28 341.01 L67.64 343.14 L67.99 345.24 L68.34 347.29 L68.69 349.28 L69.05 351.25 L69.4 353.2 L69.75 355.09 L70.1 356.9 L70.46 358.59 L70.81 360.27 L71.16 361.97 L71.51 363.66 L71.87 365.28 L72.22 366.81 L72.57 368.2 L72.92 369.4 L73.28 370.38 L73.63 371.13 L73.98 371.77 L74.33 372.36 L74.69 372.9 L75.04 373.39 L75.39 373.85 L75.74 374.27 L76.1 374.67 L76.45 375.04 L76.8 375.4 L77.15 375.74 L77.51 376.09 L77.86 376.43 L78.21 376.78 L78.56 377.14 L78.92 377.5 L79.27 377.86 L79.62 378.21 L79.97 378.56 L80.33 378.91 L80.68 379.25 L81.03 379.58 L81.39 379.91 L81.74 380.22 L82.09 380.52 L82.44 380.82 L82.8 381.1 L83.15 381.37 L83.5 381.62 L83.85 381.86 L84.21 382.08 L84.56 382.28 L84.91 382.47 L85.26 382.66 L85.62 382.85 L85.97 383.03 L86.32 383.21 L86.67 383.39 L87.03 383.56 L87.38 383.73 L87.73 383.9 L88.08 384.05 L88.44 384.2 L88.79 384.34 L89.14 384.47 L89.49 384.6 L89.85 384.71 L90.2 384.81 L90.55 384.9 L90.9 384.98 L91.26 385.04 L91.61 385.1 L91.96 385.13 L92.31 385.17 L92.67 385.2 L93.02 385.22 L93.37 385.25 L93.72 385.28 L94.08 385.3 L94.43 385.32 L94.78 385.34 L95.13 385.36 L95.49 385.38 L95.84 385.39 L96.19 385.41 L96.55 385.43 L96.9 385.44 L97.25 385.46 L97.6 385.47 L97.96 385.48 L98.31 385.5 L98.66 385.51 L99.01 385.52 L99.37 385.54 L99.72 385.55 L100.07 385.57 L100.42 385.58 L100.78 385.6 L101.13 385.61 L101.48 385.63 L101.83 385.65 L102.19 385.67 L102.54 385.69 L102.89 385.71 L103.24 385.73 L103.6 385.75 L103.95 385.77 L104.3 385.79 L104.65 385.82 L105.01 385.84 L105.36 385.86 L105.71 385.88 L106.06 385.9 L106.42 385.92 L106.77 385.94 L107.12 385.96 L107.47 385.98 L107.83 386 L108.18 386.02 L108.53 386.04 L108.88 386.05 L109.24 386.07 L109.59 386.08 L109.94 386.1 L110.29 386.11 L110.65 386.12 L111 386.13 L111.35 386.14 L111.71 386.15 L112.06 386.16 L112.41 386.16 L112.76 386.17 L113.12 386.18 L113.47 386.19 L113.82 386.19 L114.17 386.2 L114.53 386.21 L114.88 386.21 L115.23 386.22 L115.58 386.23 L115.94 386.23 L116.29 386.24 L116.64 386.25 L116.99 386.25 L117.35 386.26 L117.7 386.27 L118.05 386.27 L118.4 386.28 L118.76 386.28 L119.11 386.29 L119.46 386.3 L119.81 386.3 L120.17 386.31 L120.52 386.31 L120.87 386.32 L121.22 386.32 L121.58 386.33 L121.93 386.33 L122.28 386.34 L122.63 386.34 L122.99 386.34 L123.34 386.35 L123.69 386.35 L124.04 386.36 L124.4 386.36 L124.75 386.36 L125.1 386.37 L125.45 386.37 L125.81 386.37 L126.16 386.38 L126.51 386.38 L126.87 386.38 L127.22 386.38 L127.57 386.39 L127.92 386.39 L128.28 386.39 L128.63 386.39 L128.98 386.39 L129.33 386.4 L129.69 386.4 L130.04 386.4 L130.39 386.4 L130.74 386.4 L131.1 386.4 L131.45 386.4 L131.8 386.4 L131.8 386.4 Z" fill="#da2b3f" stroke="none" stroke-width="1" fill-opacity="0.4"/>
<path d="M37.12 386.4 L37.12 380.78 L37.34 379.87 L37.56 379.23 L37.79 378.8 L38.01 378.53 L38.23 378.35 L38.45 378.19 L38.68 378 L38.9 377.77 L39.12 377.53 L39.34 377.3 L39.56 377.08 L39.79 376.86 L40.01 376.67 L40.23 376.48 L40.45 376.32 L40.68 376.19 L40.9 376.08 L41.12 376 L41.34 375.95 L41.57 375.94 L41.79 375.96 L42.01 376.02 L42.23 376.1 L42.46 376.21 L42.68 376.35 L42.9 376.5 L43.12 376.66 L43.34 376.84 L43.57 377.02 L43.79 377.21 L44.01 377.39 L44.23 377.57 L44.46 377.79 L44.68 378.04 L44.9 378.32 L45.12 378.62 L45.35 378.94 L45.57 379.27 L45.79 379.6 L46.01 379.94 L46.23 380.27 L46.46 380.6 L46.68 380.91 L46.9 381.21 L47.12 381.48 L47.35 381.72 L47.57 381.93 L47.79 382.15 L48.01 382.36 L48.24 382.57 L48.46 382.78 L48.68 382.99 L48.9 383.19 L49.13 383.39 L49.35 383.58 L49.57 383.77 L49.79 383.94 L50.01 384.1 L50.24 384.26 L50.46 384.4 L50.68 384.52 L50.9 384.63 L51.13 384.73 L51.35 384.8 L51.57 384.86 L51.79 384.91 L52.02 384.95 L52.24 385 L52.46 385.04 L52.68 385.08 L52.9 385.12 L53.13 385.15 L53.35 385.19 L53.57 385.22 L53.79 385.25 L54.02 385.27 L54.24 385.3 L54.46 385.32 L54.68 385.34 L54.91 385.35 L55.13 385.36 L55.35 385.37 L55.57 385.38 L55.79 385.38 L56.02 385.38 L56.24 385.37 L56.46 385.37 L56.68 385.36 L56.91 385.34 L57.13 385.33 L57.35 385.31 L57.57 385.29 L57.8 385.27 L58.02 385.25 L58.24 385.23 L58.46 385.2 L58.69 385.17 L58.91 385.15 L59.13 385.12 L59.35 385.08 L59.57 385.04 L59.8 384.98 L60.02 384.92 L60.24 384.84 L60.46 384.75 L60.69 384.66 L60.91 384.55 L61.13 384.43 L61.35 384.28 L61.58 384.06 L61.8 383.76 L62.02 383.39 L62.24 382.95 L62.46 382.46 L62.69 381.92 L62.91 381.35 L63.13 380.75 L63.35 380.12 L63.58 379.49 L63.8 378.84 L64.02 378.1 L64.24 377.29 L64.47 376.4 L64.69 375.44 L64.91 374.43 L65.13 373.38 L65.36 372.28 L65.58 371.16 L65.8 370.01 L66.02 368.85 L66.24 367.69 L66.47 366.53 L66.69 365.37 L66.91 364.21 L67.13 363.03 L67.36 361.82 L67.58 360.58 L67.8 359.3 L68.02 357.97 L68.25 356.58 L68.47 355.13 L68.69 353.62 L68.91 352.02 L69.13 350.28 L69.36 348.4 L69.58 346.42 L69.8 344.36 L70.02 342.24 L70.25 340.08 L70.47 337.91 L70.69 335.74 L70.91 333.54 L71.14 331.19 L71.36 328.78 L71.58 326.37 L71.8 324.03 L72.03 321.85 L72.25 319.89 L72.47 318.14 L72.69 316.52 L72.91 314.99 L73.14 313.52 L73.36 312.06 L73.58 310.58 L73.8 309.03 L74.03 307.4 L74.25 305.73 L74.47 304.05 L74.69 302.39 L74.92 300.81 L75.14 299.33 L75.36 298 L75.58 296.77 L75.8 295.56 L76.03 294.39 L76.25 293.3 L76.47 292.32 L76.69 291.48 L76.92 290.82 L77.14 290.3 L77.36 289.8 L77.58 289.34 L77.81 288.92 L78.03 288.58 L78.25 288.32 L78.47 288.16 L78.69 288.13 L78.92 288.23 L79.14 288.45 L79.36 288.76 L79.58 289.15 L79.81 289.59 L80.03 290.07 L80.25 290.57 L80.47 291.14 L80.7 291.9 L80.92 292.81 L81.14 293.83 L81.36 294.92 L81.59 296.02 L81.81 297.11 L82.03 298.12 L82.25 299.12 L82.47 300.11 L82.7 301.11 L82.92 302.11 L83.14 303.12 L83.36 304.13 L83.59 305.16 L83.81 306.21 L84.03 307.27 L84.25 308.35 L84.48 309.45 L84.7 310.58 L84.92 311.73 L85.14 312.92 L85.36 314.15 L85.59 315.43 L85.81 316.74 L86.03 318.08 L86.25 319.45 L86.48 320.83 L86.7 322.22 L86.92 323.62 L87.14 325 L87.37 326.38 L87.59 327.78 L87.81 329.25 L88.03 330.76 L88.26 332.28 L88.48 333.79 L88.7 335.26 L88.92 336.66 L89.14 337.96 L89.37 339.14 L89.59 340.18 L89.81 341.14 L90.03 342.03 L90.26 342.88 L90.48 343.69 L90.7 344.46 L90.92 345.2 L91.15 345.91 L91.37 346.6 L91.59 347.27 L91.81 347.94 L92.03 348.6 L92.26 349.26 L92.48 349.93 L92.7 350.61 L92.92 351.31 L93.15 352.03 L93.37 352.78 L93.59 353.52 L93.81 354.27 L94.04 355.02 L94.26 355.78 L94.48 356.53 L94.7 357.28 L94.93 358.04 L95.15 358.79 L95.37 359.54 L95.59 360.28 L95.81 361.02 L96.04 361.76 L96.26 362.49 L96.48 363.22 L96.7 363.94 L96.93 364.66 L97.15 365.38 L97.37 366.11 L97.59 366.86 L97.82 367.62 L98.04 368.37 L98.26 369.13 L98.48 369.88 L98.7 370.62 L98.93 371.34 L99.15 372.05 L99.37 372.73 L99.59 373.38 L99.82 374 L100.04 374.58 L100.26 375.12 L100.48 375.61 L100.71 376.06 L100.93 376.51 L101.15 376.94 L101.37 377.36 L101.6 377.77 L101.82 378.16 L102.04 378.53 L102.26 378.88 L102.48 379.22 L102.71 379.53 L102.93 379.82 L103.15 380.08 L103.37 380.32 L103.6 380.53 L103.6 386.4 Z" fill="#0000ff" stroke="none" stroke-width="1" fill-opacity="0.3"/>
<path d="M37.04 386.4 L37.04 386.4 L37.26 385.98 L37.48 385.54 L37.7 385.09 L37.93 384.63 L38.15 384.15 L38.37 383.65 L38.59 383.13 L38.82 382.6 L39.04 382.05 L39.26 381.49 L39.48 380.92 L39.71 380.34 L39.93 379.75 L40.15 379.16 L40.38 378.56 L40.6 377.96 L40.82 377.36 L41.04 376.76 L41.27 376.17 L41.49 375.57 L41.71 374.96 L41.93 374.35 L42.16 373.73 L42.38 373.08 L42.6 372.42 L42.82 371.73 L43.05 371.02 L43.27 370.27 L43.49 369.48 L43.71 368.66 L43.94 367.81 L44.16 366.94 L44.38 366.06 L44.6 365.16 L44.83 364.27 L45.05 363.37 L45.27 362.48 L45.5 361.6 L45.72 360.73 L45.94 359.86 L46.16 358.99 L46.39 358.11 L46.61 357.22 L46.83 356.32 L47.05 355.41 L47.28 354.48 L47.5 353.53 L47.72 352.55 L47.94 351.51 L48.17 350.41 L48.39 349.26 L48.61 348.1 L48.83 346.92 L49.06 345.76 L49.28 344.64 L49.5 343.57 L49.72 342.58 L49.95 341.67 L50.17 340.85 L50.39 340.08 L50.62 339.36 L50.84 338.66 L51.06 337.99 L51.28 337.33 L51.51 336.68 L51.73 336.01 L51.95 335.32 L52.17 334.6 L52.4 333.86 L52.62 333.13 L52.84 332.39 L53.06 331.65 L53.29 330.9 L53.51 330.15 L53.73 329.38 L53.95 328.59 L54.18 327.79 L54.4 326.96 L54.62 326.11 L54.84 325.23 L55.07 324.33 L55.29 323.39 L55.51 322.44 L55.74 321.47 L55.96 320.47 L56.18 319.46 L56.4 318.43 L56.63 317.39 L56.85 316.34 L57.07 315.27 L57.29 314.2 L57.52 313.12 L57.74 312.04 L57.96 310.91 L58.18 309.73 L58.41 308.52 L58.63 307.29 L58.85 306.06 L59.07 304.85 L59.3 303.66 L59.52 302.52 L59.74 301.43 L59.96 300.42 L60.19 299.48 L60.41 298.59 L60.63 297.74 L60.86 296.91 L61.08 296.07 L61.3 295.21 L61.52 294.32 L61.75 293.37 L61.97 292.41 L62.19 291.49 L62.41 290.68 L62.64 289.87 L62.86 289.02 L63.08 288.25 L63.3 287.66 L63.53 287.37 L63.75 287.45 L63.97 287.8 L64.19 288.35 L64.42 289.04 L64.64 289.79 L64.86 290.53 L65.08 291.27 L65.31 292.09 L65.53 292.99 L65.75 293.98 L65.98 295.05 L66.2 296.2 L66.42 297.43 L66.64 298.79 L66.87 300.38 L67.09 302.16 L67.31 304.08 L67.53 306.08 L67.76 308.12 L67.98 310.13 L68.2 312.08 L68.42 313.95 L68.65 315.79 L68.87 317.62 L69.09 319.48 L69.31 321.38 L69.54 323.34 L69.76 325.38 L69.98 327.58 L70.2 329.91 L70.43 332.26 L70.65 334.54 L70.87 336.69 L71.1 338.75 L71.32 340.77 L71.54 342.79 L71.76 344.88 L71.99 347.01 L72.21 349.07 L72.43 350.94 L72.65 352.73 L72.88 354.44 L73.1 356.04 L73.32 357.46 L73.54 358.66 L73.77 359.73 L73.99 360.75 L74.21 361.71 L74.43 362.62 L74.66 363.49 L74.88 364.31 L75.1 365.09 L75.32 365.83 L75.55 366.55 L75.77 367.24 L75.99 367.92 L76.22 368.57 L76.44 369.22 L76.66 369.85 L76.88 370.48 L77.11 371.1 L77.33 371.71 L77.55 372.31 L77.77 372.89 L78 373.45 L78.22 374 L78.44 374.52 L78.66 375.02 L78.89 375.49 L79.11 375.92 L79.33 376.33 L79.55 376.71 L79.78 377.04 L80 377.37 L80.22 377.68 L80.44 377.99 L80.67 378.3 L80.89 378.6 L81.11 378.89 L81.34 379.18 L81.56 379.45 L81.78 379.72 L82 379.99 L82.23 380.24 L82.45 380.49 L82.67 380.73 L82.89 380.96 L83.12 381.18 L83.34 381.39 L83.56 381.6 L83.78 381.79 L84.01 381.98 L84.23 382.15 L84.45 382.31 L84.67 382.47 L84.9 382.61 L85.12 382.75 L85.34 382.87 L85.56 382.98 L85.79 383.08 L86.01 383.17 L86.23 383.26 L86.46 383.35 L86.68 383.44 L86.9 383.52 L87.12 383.6 L87.35 383.68 L87.57 383.76 L87.79 383.84 L88.01 383.91 L88.24 383.98 L88.46 384.05 L88.68 384.12 L88.9 384.18 L89.13 384.25 L89.35 384.31 L89.57 384.37 L89.79 384.43 L90.02 384.48 L90.24 384.54 L90.46 384.59 L90.68 384.65 L90.91 384.7 L91.13 384.75 L91.35 384.79 L91.58 384.84 L91.8 384.88 L92.02 384.93 L92.24 384.97 L92.47 385.01 L92.69 385.05 L92.91 385.09 L93.13 385.13 L93.36 385.16 L93.58 385.2 L93.8 385.23 L94.02 385.26 L94.25 385.3 L94.47 385.33 L94.69 385.36 L94.91 385.39 L95.14 385.41 L95.36 385.44 L95.58 385.47 L95.8 385.5 L96.03 385.53 L96.25 385.56 L96.47 385.59 L96.7 385.61 L96.92 385.64 L97.14 385.67 L97.36 385.69 L97.59 385.72 L97.81 385.75 L98.03 385.77 L98.25 385.8 L98.48 385.82 L98.7 385.84 L98.92 385.87 L99.14 385.89 L99.37 385.91 L99.59 385.93 L99.81 385.95 L100.03 385.97 L100.26 385.99 L100.48 386.01 L100.7 386.02 L100.92 386.04 L101.15 386.05 L101.37 386.07 L101.59 386.08 L101.82 386.09 L102.04 386.1 L102.26 386.11 L102.48 386.12 L102.71 386.13 L102.93 386.13 L103.15 386.14 L103.37 386.14 L103.6 386.14 L103.6 386.4 Z" fill="#008000" stroke="none" stroke-width="1" fill-opacity="0.3"/>
<path d="M26.39 386.4 L26.74 386.4 L27.09 386.4 L27.44 386.4 L27.8 386.4 L28.15 386.4 L28.5 386.4 L28.85 386.4 L29.21 386.4 L29.56 386.4 L29.91 386.4 L30.26 386.4 L30.62 386.4 L30.97 386.4 L31.32 386.4 L31.67 386.4 L32.03 386.4 L32.38 386.4 L32.73 386.4 L33.08 386.4 L33.44 386.4 L33.79 386.4 L34.14 386.4 L34.5 386.4 L34.85 386.4 L35.2 386.27 L35.55 385.71 L35.91 384.8 L36.26 383.62 L36.61 380.33 L36.96 376 L37.32 373.44 L37.67 377.68 L38.02 379.79 L38.37 377.84 L38.73 374.71 L39.08 371.41 L39.43 368.12 L39.78 364.34 L40.14 360.55 L40.49 357.08 L40.84 353.25 L41.19 350.79 L41.55 353.04 L41.9 358.19 L42.25 358.16 L42.6 355.14 L42.96 351.15 L43.31 347.87 L43.66 345.42 L44.01 343.16 L44.37 341.04 L44.72 339.02 L45.07 337.15 L45.42 335.4 L45.78 333.67 L46.13 331.84 L46.48 329.82 L46.83 327.63 L47.19 325.38 L47.54 323.13 L47.89 320.98 L48.24 318.95 L48.6 316.67 L48.95 314.29 L49.3 312.06 L49.66 310.24 L50.01 309.08 L50.36 308.86 L50.71 309.81 L51.07 311.16 L51.42 311.87 L51.77 311.13 L52.12 309.25 L52.48 306.92 L52.83 304.8 L53.18 302.74 L53.53 300.58 L53.89 299.22 L54.24 299.72 L54.59 302.17 L54.94 304.61 L55.3 305.08 L55.65 303.32 L56 300.51 L56.35 297.86 L56.71 296.17 L57.06 294.64 L57.41 293.53 L57.76 293.25 L58.12 293.63 L58.47 294.34 L58.82 295.19 L59.17 295.97 L59.53 296.69 L59.88 297.46 L60.23 298.4 L60.58 299.63 L60.94 301.81 L61.29 304.85 L61.64 307.74 L61.99 310.46 L62.35 313.21 L62.7 315.87 L63.05 318.33 L63.4 320.48 L63.76 322.31 L64.11 323.96 L64.46 325.56 L64.82 327.22 L65.17 329.04 L65.52 330.92 L65.87 332.84 L66.23 334.8 L66.58 336.81 L66.93 338.89 L67.28 341.01 L67.64 343.14 L67.99 345.24 L68.34 347.29 L68.69 349.28 L69.05 351.25 L69.4 353.2 L69.75 355.09 L70.1 356.9 L70.46 358.59 L70.81 360.27 L71.16 361.97 L71.51 363.66 L71.87 365.28 L72.22 366.81 L72.57 368.2 L72.92 369.4 L73.28 370.38 L73.63 371.13 L73.98 371.77 L74.33 372.36 L74.69 372.9 L75.04 373.39 L75.39 373.85 L75.74 374.27 L76.1 374.67 L76.45 375.04 L76.8 375.4 L77.15 375.74 L77.51 376.09 L77.86 376.43 L78.21 376.78 L78.56 377.14 L78.92 377.5 L79.27 377.86 L79.62 378.21 L79.97 378.56 L80.33 378.91 L80.68 379.25 L81.03 379.58 L81.39 379.91 L81.74 380.22 L82.09 380.52 L82.44 380.82 L82.8 381.1 L83.15 381.37 L83.5 381.62 L83.85 381.86 L84.21 382.08 L84.56 382.28 L84.91 382.47 L85.26 382.66 L85.62 382.85 L85.97 383.03 L86.32 383.21 L86.67 383.39 L87.03 383.56 L87.38 383.73 L87.73 383.9 L88.08 384.05 L88.44 384.2 L88.79 384.34 L89.14 384.47 L89.49 384.6 L89.85 384.71 L90.2 384.81 L90.55 384.9 L90.9 384.98 L91.26 385.04 L91.61 385.1 L91.96 385.13 L92.31 385.17 L92.67 385.2 L93.02 385.22 L93.37 385.25 L93.72 385.28 L94.08 385.3 L94.43 385.32 L94.78 385.34 L95.13 385.36 L95.49 385.38 L95.84 385.39 L96.19 385.41 L96.55 385.43 L96.9 385.44 L97.25 385.46 L97.6 385.47 L97.96 385.48 L98.31 385.5 L98.66 385.51 L99.01 385.52 L99.37 385.54 L99.72 385.55 L100.07 385.57 L100.42 385.58 L100.78 385.6 L101.13 385.61 L101.48 385.63 L101.83 385.65 L102.19 385.67 L102.54 385.69 L102.89 385.71 L103.24 385.73 L103.6 385.75 L103.95 385.77 L104.3 385.79 L104.65 385.82 L105.01 385.84 L105.36 385.86 L105.71 385.88 L106.06 385.9 L106.42 385.92 L106.77 385.94 L107.12 385.96 L107.47 385.98 L107.83 386 L108.18 386.02 L108.53 386.04 L108.88 386.05 L109.24 386.07 L109.59 386.08 L109.94 386.1 L110.29 386.11 L110.65 386.12 L111 386.13 L111.35 386.14 L111.71 386.15 L112.06 386.16 L112.41 386.16 L112.76 386.17 L113.12 386.18 L113.47 386.19 L113.82 386.19 L114.17 386.2 L114.53 386.21 L114.88 386.21 L115.23 386.22 L115.58 386.23 L115.94 386.23 L116.29 386.24 L116.64 386.25 L116.99 386.25 L117.35 386.26 L117.7 386.27 L118.05 386.27 L118.4 386.28 L118.76 386.28 L119.11 386.29 L119.46 386.3 L119.81 386.3 L120.17 386.31 L120.52 386.31 L120.87 386.32 L121.22 386.32 L121.58 386.33 L121.93 386.33 L122.28 386.34 L122.63 386.34 L122.99 386.34 L123.34 386.35 L123.69 386.35 L124.04 386.36 L124.4 386.36 L124.75 386.36 L125.1 386.37 L125.45 386.37 L125.81 386.37 L126.16 386.38 L126.51 386.38 L126.87 386.38 L127.22 386.38 L127.57 386.39 L127.92 386.39 L128.28 386.39 L128.63 386.39 L128.98 386.39 L129.33 386.4 L129.69 386.4 L130.04 386.4 L130.39 386.4 L130.74 386.4 L131.1 386.4 L131.45 386.4 L131.8 386.4" fill="none" stroke="#e41f2a" stroke-width="0.71" stroke-linejoin="round"/>
<path d="M37.12 380.78 L37.34 379.87 L37.56 379.23 L37.79 378.8 L38.01 378.53 L38.23 378.35 L38.45 378.19 L38.68 378 L38.9 377.77 L39.12 377.53 L39.34 377.3 L39.56 377.08 L39.79 376.86 L40.01 376.67 L40.23 376.48 L40.45 376.32 L40.68 376.19 L40.9 376.08 L41.12 376 L41.34 375.95 L41.57 375.94 L41.79 375.96 L42.01 376.02 L42.23 376.1 L42.46 376.21 L42.68 376.35 L42.9 376.5 L43.12 376.66 L43.34 376.84 L43.57 377.02 L43.79 377.21 L44.01 377.39 L44.23 377.57 L44.46 377.79 L44.68 378.04 L44.9 378.32 L45.12 378.62 L45.35 378.94 L45.57 379.27 L45.79 379.6 L46.01 379.94 L46.23 380.27 L46.46 380.6 L46.68 380.91 L46.9 381.21 L47.12 381.48 L47.35 381.72 L47.57 381.93 L47.79 382.15 L48.01 382.36 L48.24 382.57 L48.46 382.78 L48.68 382.99 L48.9 383.19 L49.13 383.39 L49.35 383.58 L49.57 383.77 L49.79 383.94 L50.01 384.1 L50.24 384.26 L50.46 384.4 L50.68 384.52 L50.9 384.63 L51.13 384.73 L51.35 384.8 L51.57 384.86 L51.79 384.91 L52.02 384.95 L52.24 385 L52.46 385.04 L52.68 385.08 L52.9 385.12 L53.13 385.15 L53.35 385.19 L53.57 385.22 L53.79 385.25 L54.02 385.27 L54.24 385.3 L54.46 385.32 L54.68 385.34 L54.91 385.35 L55.13 385.36 L55.35 385.37 L55.57 385.38 L55.79 385.38 L56.02 385.38 L56.24 385.37 L56.46 385.37 L56.68 385.36 L56.91 385.34 L57.13 385.33 L57.35 385.31 L57.57 385.29 L57.8 385.27 L58.02 385.25 L58.24 385.23 L58.46 385.2 L58.69 385.17 L58.91 385.15 L59.13 385.12 L59.35 385.08 L59.57 385.04 L59.8 384.98 L60.02 384.92 L60.24 384.84 L60.46 384.75 L60.69 384.66 L60.91 384.55 L61.13 384.43 L61.35 384.28 L61.58 384.06 L61.8 383.76 L62.02 383.39 L62.24 382.95 L62.46 382.46 L62.69 381.92 L62.91 381.35 L63.13 380.75 L63.35 380.12 L63.58 379.49 L63.8 378.84 L64.02 378.1 L64.24 377.29 L64.47 376.4 L64.69 375.44 L64.91 374.43 L65.13 373.38 L65.36 372.28 L65.58 371.16 L65.8 370.01 L66.02 368.85 L66.24 367.69 L66.47 366.53 L66.69 365.37 L66.91 364.21 L67.13 363.03 L67.36 361.82 L67.58 360.58 L67.8 359.3 L68.02 357.97 L68.25 356.58 L68.47 355.13 L68.69 353.62 L68.91 352.02 L69.13 350.28 L69.36 348.4 L69.58 346.42 L69.8 344.36 L70.02 342.24 L70.25 340.08 L70.47 337.91 L70.69 335.74 L70.91 333.54 L71.14 331.19 L71.36 328.78 L71.58 326.37 L71.8 324.03 L72.03 321.85 L72.25 319.89 L72.47 318.14 L72.69 316.52 L72.91 314.99 L73.14 313.52 L73.36 312.06 L73.58 310.58 L73.8 309.03 L74.03 307.4 L74.25 305.73 L74.47 304.05 L74.69 302.39 L74.92 300.81 L75.14 299.33 L75.36 298 L75.58 296.77 L75.8 295.56 L76.03 294.39 L76.25 293.3 L76.47 292.32 L76.69 291.48 L76.92 290.82 L77.14 290.3 L77.36 289.8 L77.58 289.34 L77.81 288.92 L78.03 288.58 L78.25 288.32 L78.47 288.16 L78.69 288.13 L78.92 288.23 L79.14 288.45 L79.36 288.76 L79.58 289.15 L79.81 289.59 L80.03 290.07 L80.25 290.57 L80.47 291.14 L80.7 291.9 L80.92 292.81 L81.14 293.83 L81.36 294.92 L81.59 296.02 L81.81 297.11 L82.03 298.12 L82.25 299.12 L82.47 300.11 L82.7 301.11 L82.92 302.11 L83.14 303.12 L83.36 304.13 L83.59 305.16 L83.81 306.21 L84.03 307.27 L84.25 308.35 L84.48 309.45 L84.7 310.58 L84.92 311.73 L85.14 312.92 L85.36 314.15 L85.59 315.43 L85.81 316.74 L86.03 318.08 L86.25 319.45 L86.48 320.83 L86.7 322.22 L86.92 323.62 L87.14 325 L87.37 326.38 L87.59 327.78 L87.81 329.25 L88.03 330.76 L88.26 332.28 L88.48 333.79 L88.7 335.26 L88.92 336.66 L89.14 337.96 L89.37 339.14 L89.59 340.18 L89.81 341.14 L90.03 342.03 L90.26 342.88 L90.48 343.69 L90.7 344.46 L90.92 345.2 L91.15 345.91 L91.37 346.6 L91.59 347.27 L91.81 347.94 L92.03 348.6 L92.26 349.26 L92.48 349.93 L92.7 350.61 L92.92 351.31 L93.15 352.03 L93.37 352.78 L93.59 353.52 L93.81 354.27 L94.04 355.02 L94.26 355.78 L94.48 356.53 L94.7 357.28 L94.93 358.04 L95.15 358.79 L95.37 359.54 L95.59 360.28 L95.81 361.02 L96.04 361.76 L96.26 362.49 L96.48 363.22 L96.7 363.94 L96.93 364.66 L97.15 365.38 L97.37 366.11 L97.59 366.86 L97.82 367.62 L98.04 368.37 L98.26 369.13 L98.48 369.88 L98.7 370.62 L98.93 371.34 L99.15 372.05 L99.37 372.73 L99.59 373.38 L99.82 374 L100.04 374.58 L100.26 375.12 L100.48 375.61 L100.71 376.06 L100.93 376.51 L101.15 376.94 L101.37 377.36 L101.6 377.77 L101.82 378.16 L102.04 378.53 L102.26 378.88 L102.48 379.22 L102.71 379.53 L102.93 379.82 L103.15 380.08 L103.37 380.32 L103.6 380.53" fill="none" stroke="#0000ff" stroke-width="0.71" stroke-linejoin="round"/>
<path d="M37.04 386.4 L37.26 385.98 L37.48 385.54 L37.7 385.09 L37.93 384.63 L38.15 384.15 L38.37 383.65 L38.59 383.13 L38.82 382.6 L39.04 382.05 L39.26 381.49 L39.48 380.92 L39.71 380.34 L39.93 379.75 L40.15 379.16 L40.38 378.56 L40.6 377.96 L40.82 377.36 L41.04 376.76 L41.27 376.17 L41.49 375.57 L41.71 374.96 L41.93 374.35 L42.16 373.73 L42.38 373.08 L42.6 372.42 L42.82 371.73 L43.05 371.02 L43.27 370.27 L43.49 369.48 L43.71 368.66 L43.94 367.81 L44.16 366.94 L44.38 366.06 L44.6 365.16 L44.83 364.27 L45.05 363.37 L45.27 362.48 L45.5 361.6 L45.72 360.73 L45.94 359.86 L46.16 358.99 L46.39 358.11 L46.61 357.22 L46.83 356.32 L47.05 355.41 L47.28 354.48 L47.5 353.53 L47.72 352.55 L47.94 351.51 L48.17 350.41 L48.39 349.26 L48.61 348.1 L48.83 346.92 L49.06 345.76 L49.28 344.64 L49.5 343.57 L49.72 342.58 L49.95 341.67 L50.17 340.85 L50.39 340.08 L50.62 339.36 L50.84 338.66 L51.06 337.99 L51.28 337.33 L51.51 336.68 L51.73 336.01 L51.95 335.32 L52.17 334.6 L52.4 333.86 L52.62 333.13 L52.84 332.39 L53.06 331.65 L53.29 330.9 L53.51 330.15 L53.73 329.38 L53.95 328.59 L54.18 327.79 L54.4 326.96 L54.62 326.11 L54.84 325.23 L55.07 324.33 L55.29 323.39 L55.51 322.44 L55.74 321.47 L55.96 320.47 L56.18 319.46 L56.4 318.43 L56.63 317.39 L56.85 316.34 L57.07 315.27 L57.29 314.2 L57.52 313.12 L57.74 312.04 L57.96 310.91 L58.18 309.73 L58.41 308.52 L58.63 307.29 L58.85 306.06 L59.07 304.85 L59.3 303.66 L59.52 302.52 L59.74 301.43 L59.96 300.42 L60.19 299.48 L60.41 298.59 L60.63 297.74 L60.86 296.91 L61.08 296.07 L61.3 295.21 L61.52 294.32 L61.75 293.37 L61.97 292.41 L62.19 291.49 L62.41 290.68 L62.64 289.87 L62.86 289.02 L63.08 288.25 L63.3 287.66 L63.53 287.37 L63.75 287.45 L63.97 287.8 L64.19 288.35 L64.42 289.04 L64.64 289.79 L64.86 290.53 L65.08 291.27 L65.31 292.09 L65.53 292.99 L65.75 293.98 L65.98 295.05 L66.2 296.2 L66.42 297.43 L66.64 298.79 L66.87 300.38 L67.09 302.16 L67.31 304.08 L67.53 306.08 L67.76 308.12 L67.98 310.13 L68.2 312.08 L68.42 313.95 L68.65 315.79 L68.87 317.62 L69.09 319.48 L69.31 321.38 L69.54 323.34 L69.76 325.38 L69.98 327.58 L70.2 329.91 L70.43 332.26 L70.65 334.54 L70.87 336.69 L71.1 338.75 L71.32 340.77 L71.54 342.79 L71.76 344.88 L71.99 347.01 L72.21 349.07 L72.43 350.94 L72.65 352.73 L72.88 354.44 L73.1 356.04 L73.32 357.46 L73.54 358.66 L73.77 359.73 L73.99 360.75 L74.21 361.71 L74.43 362.62 L74.66 363.49 L74.88 364.31 L75.1 365.09 L75.32 365.83 L75.55 366.55 L75.77 367.24 L75.99 367.92 L76.22 368.57 L76.44 369.22 L76.66 369.85 L76.88 370.48 L77.11 371.1 L77.33 371.71 L77.55 372.31 L77.77 372.89 L78 373.45 L78.22 374 L78.44 374.52 L78.66 375.02 L78.89 375.49 L79.11 375.92 L79.33 376.33 L79.55 376.71 L79.78 377.04 L80 377.37 L80.22 377.68 L80.44 377.99 L80.67 378.3 L80.89 378.6 L81.11 378.89 L81.34 379.18 L81.56 379.45 L81.78 379.72 L82 379.99 L82.23 380.24 L82.45 380.49 L82.67 380.73 L82.89 380.96 L83.12 381.18 L83.34 381.39 L83.56 381.6 L83.78 381.79 L84.01 381.98 L84.23 382.15 L84.45 382.31 L84.67 382.47 L84.9 382.61 L85.12 382.75 L85.34 382.87 L85.56 382.98 L85.79 383.08 L86.01 383.17 L86.23 383.26 L86.46 383.35 L86.68 383.44 L86.9 383.52 L87.12 383.6 L87.35 383.68 L87.57 383.76 L87.79 383.84 L88.01 383.91 L88.24 383.98 L88.46 384.05 L88.68 384.12 L88.9 384.18 L89.13 384.25 L89.35 384.31 L89.57 384.37 L89.79 384.43 L90.02 384.48 L90.24 384.54 L90.46 384.59 L90.68 384.65 L90.91 384.7 L91.13 384.75 L91.35 384.79 L91.58 384.84 L91.8 384.88 L92.02 384.93 L92.24 384.97 L92.47 385.01 L92.69 385.05 L92.91 385.09 L93.13 385.13 L93.36 385.16 L93.58 385.2 L93.8 385.23 L94.02 385.26 L94.25 385.3 L94.47 385.33 L94.69 385.36 L94.91 385.39 L95.14 385.41 L95.36 385.44 L95.58 385.47 L95.8 385.5 L96.03 385.53 L96.25 385.56 L96.47 385.59 L96.7 385.61 L96.92 385.64 L97.14 385.67 L97.36 385.69 L97.59 385.72 L97.81 385.75 L98.03 385.77 L98.25 385.8 L98.48 385.82 L98.7 385.84 L98.92 385.87 L99.14 385.89 L99.37 385.91 L99.59 385.93 L99.81 385.95 L100.03 385.97 L100.26 385.99 L100.48 386.01 L100.7 386.02 L100.92 386.04 L101.15 386.05 L101.37 386.07 L101.59 386.08 L101.82 386.09 L102.04 386.1 L102.26 386.11 L102.48 386.12 L102.71 386.13 L102.93 386.13 L103.15 386.14 L103.37 386.14 L103.6 386.14" fill="none" stroke="#008000" stroke-width="0.71" stroke-linejoin="round"/>
<line x1="57.42" y1="282.5" x2="57.42" y2="391" stroke="#e41f2a" stroke-width="0.5" stroke-dasharray="1.76,0.76"/>
<line x1="61.5" y1="282.5" x2="61.5" y2="391" stroke="#008000" stroke-width="0.5" stroke-dasharray="1.76,0.76"/>
<line x1="79.3" y1="282.5" x2="79.3" y2="391" stroke="#0000ff" stroke-width="0.5" stroke-dasharray="1.76,0.76"/>
</g>
<rect x="21.5" y="282.5" width="115.6" height="108.5" fill="none" stroke="#000" stroke-width="0.42"/>
<line x1="28.3" y1="391" x2="28.3" y2="392.7" stroke="#000" stroke-width="0.45"/>
<line x1="44.94" y1="391" x2="44.94" y2="392.7" stroke="#000" stroke-width="0.45"/>
<line x1="61.58" y1="391" x2="61.58" y2="392.7" stroke="#000" stroke-width="0.45"/>
<line x1="78.22" y1="391" x2="78.22" y2="392.7" stroke="#000" stroke-width="0.45"/>
<line x1="94.86" y1="391" x2="94.86" y2="392.7" stroke="#000" stroke-width="0.45"/>
<line x1="111.5" y1="391" x2="111.5" y2="392.7" stroke="#000" stroke-width="0.45"/>
<line x1="128.14" y1="391" x2="128.14" y2="392.7" stroke="#000" stroke-width="0.45"/>
<line x1="21.5" y1="386.4" x2="19.8" y2="386.4" stroke="#000" stroke-width="0.45"/>
<line x1="21.5" y1="373.64" x2="19.8" y2="373.64" stroke="#000" stroke-width="0.45"/>
<line x1="21.5" y1="360.88" x2="19.8" y2="360.88" stroke="#000" stroke-width="0.45"/>
<line x1="21.5" y1="348.11" x2="19.8" y2="348.11" stroke="#000" stroke-width="0.45"/>
<line x1="21.5" y1="335.35" x2="19.8" y2="335.35" stroke="#000" stroke-width="0.45"/>
<line x1="21.5" y1="322.59" x2="19.8" y2="322.59" stroke="#000" stroke-width="0.45"/>
<line x1="21.5" y1="309.82" x2="19.8" y2="309.82" stroke="#000" stroke-width="0.45"/>
<line x1="21.5" y1="297.06" x2="19.8" y2="297.06" stroke="#000" stroke-width="0.45"/>
<line x1="21.5" y1="284.3" x2="19.8" y2="284.3" stroke="#000" stroke-width="0.45"/>
<rect x="92" y="284.7" width="43" height="17.9" rx="0.8" fill="#fff" fill-opacity="0.8" stroke="#ccc" stroke-width="0.45"/>
<line x1="93.3" y1="287.6" x2="101.8" y2="287.6" stroke="#e41f2a" stroke-width="0.71"/>
<line x1="93.3" y1="293.2" x2="101.8" y2="293.2" stroke="#0000ff" stroke-width="0.71"/>
<line x1="93.3" y1="298.8" x2="101.8" y2="298.8" stroke="#008000" stroke-width="0.71"/>
<clipPath id="c1581_2825"><rect x="158.1" y="282.5" width="115.6" height="108.5"/></clipPath>
<g clip-path="url(#c1581_2825)">
<path d="M162.99 386.1 L162.99 386.1 L163.35 386.1 L163.7 386.1 L164.05 386.1 L164.4 386.1 L164.75 386.1 L165.1 386.1 L165.45 386.1 L165.8 386.1 L166.15 386.1 L166.5 386.1 L166.85 386.1 L167.21 386.1 L167.56 385.67 L167.91 384.19 L168.26 380.42 L168.61 375.09 L168.96 375.17 L169.31 379.05 L169.66 382.11 L170.01 381.99 L170.36 381.07 L170.71 379.66 L171.07 377.94 L171.42 376.11 L171.77 374.36 L172.12 372.35 L172.47 370.06 L172.82 367.72 L173.17 365.58 L173.52 363.23 L173.87 361.01 L174.22 360 L174.58 361.72 L174.93 363.4 L175.28 362.32 L175.63 359.7 L175.98 356.23 L176.33 352.63 L176.68 349.58 L177.03 347.62 L177.38 346.12 L177.73 344.83 L178.08 343.64 L178.44 342.46 L178.79 341.21 L179.14 339.83 L179.49 338.41 L179.84 336.95 L180.19 335.45 L180.54 333.89 L180.89 332.25 L181.24 330.59 L181.59 328.95 L181.94 327.25 L182.3 325.45 L182.65 323.67 L183 321.97 L183.35 320.45 L183.7 319.21 L184.05 318.27 L184.4 317.49 L184.75 316.81 L185.1 316.19 L185.45 315.59 L185.81 315.11 L186.16 314.69 L186.51 314.17 L186.86 313.39 L187.21 311.57 L187.56 308.77 L187.91 305.67 L188.26 301.24 L188.61 298.94 L188.96 302.01 L189.31 307.26 L189.67 310.05 L190.02 309.6 L190.37 308.43 L190.72 306.84 L191.07 305.12 L191.42 303.35 L191.77 300.83 L192.12 298.22 L192.47 296.37 L192.82 296.43 L193.17 300.07 L193.53 302.08 L193.88 300.69 L194.23 299.87 L194.58 300.96 L194.93 302.89 L195.28 304.72 L195.63 305.51 L195.98 305.35 L196.33 304.98 L196.68 304.59 L197.03 304.38 L197.39 304.57 L197.74 305.23 L198.09 306.21 L198.44 307.37 L198.79 308.8 L199.14 310.96 L199.49 313.64 L199.84 316.58 L200.19 319.52 L200.54 322.79 L200.9 326.27 L201.25 329.58 L201.6 332.68 L201.95 335.58 L202.3 338.33 L202.65 340.86 L203 343.18 L203.35 345.39 L203.7 347.49 L204.05 349.5 L204.4 351.41 L204.76 353.23 L205.11 355.05 L205.46 356.84 L205.81 358.58 L206.16 360.24 L206.51 361.78 L206.86 363.16 L207.21 364.35 L207.56 365.35 L207.91 366.24 L208.26 367.05 L208.62 367.79 L208.97 368.48 L209.32 369.13 L209.67 369.76 L210.02 370.38 L210.37 371.01 L210.72 371.67 L211.07 372.34 L211.42 373.03 L211.77 373.73 L212.13 374.43 L212.48 375.11 L212.83 375.78 L213.18 376.43 L213.53 377.04 L213.88 377.62 L214.23 378.15 L214.58 378.62 L214.93 379.02 L215.28 379.39 L215.63 379.74 L215.99 380.09 L216.34 380.43 L216.69 380.76 L217.04 381.08 L217.39 381.4 L217.74 381.7 L218.09 381.99 L218.44 382.26 L218.79 382.52 L219.14 382.77 L219.49 383.01 L219.85 383.22 L220.2 383.43 L220.55 383.61 L220.9 383.78 L221.25 383.93 L221.6 384.06 L221.95 384.17 L222.3 384.26 L222.65 384.34 L223 384.41 L223.36 384.48 L223.71 384.54 L224.06 384.6 L224.41 384.66 L224.76 384.72 L225.11 384.78 L225.46 384.83 L225.81 384.88 L226.16 384.93 L226.51 384.97 L226.86 385.01 L227.22 385.05 L227.57 385.09 L227.92 385.13 L228.27 385.17 L228.62 385.2 L228.97 385.23 L229.32 385.26 L229.67 385.29 L230.02 385.31 L230.37 385.34 L230.72 385.36 L231.08 385.38 L231.43 385.4 L231.78 385.42 L232.13 385.44 L232.48 385.45 L232.83 385.47 L233.18 385.49 L233.53 385.5 L233.88 385.52 L234.23 385.54 L234.59 385.55 L234.94 385.56 L235.29 385.58 L235.64 385.59 L235.99 385.61 L236.34 385.62 L236.69 385.63 L237.04 385.64 L237.39 385.66 L237.74 385.67 L238.09 385.68 L238.45 385.69 L238.8 385.7 L239.15 385.71 L239.5 385.72 L239.85 385.73 L240.2 385.74 L240.55 385.75 L240.9 385.76 L241.25 385.77 L241.6 385.78 L241.95 385.79 L242.31 385.79 L242.66 385.8 L243.01 385.81 L243.36 385.82 L243.71 385.82 L244.06 385.83 L244.41 385.84 L244.76 385.84 L245.11 385.85 L245.46 385.86 L245.82 385.86 L246.17 385.87 L246.52 385.87 L246.87 385.88 L247.22 385.89 L247.57 385.89 L247.92 385.9 L248.27 385.9 L248.62 385.91 L248.97 385.91 L249.32 385.92 L249.68 385.92 L250.03 385.93 L250.38 385.94 L250.73 385.94 L251.08 385.95 L251.43 385.95 L251.78 385.96 L252.13 385.96 L252.48 385.97 L252.83 385.97 L253.18 385.98 L253.54 385.98 L253.89 385.99 L254.24 385.99 L254.59 386 L254.94 386 L255.29 386.01 L255.64 386.01 L255.99 386.02 L256.34 386.02 L256.69 386.02 L257.04 386.03 L257.4 386.03 L257.75 386.04 L258.1 386.04 L258.45 386.04 L258.8 386.05 L259.15 386.05 L259.5 386.06 L259.85 386.06 L260.2 386.06 L260.55 386.07 L260.91 386.07 L261.26 386.07 L261.61 386.07 L261.96 386.08 L262.31 386.08 L262.66 386.08 L263.01 386.08 L263.36 386.09 L263.71 386.09 L264.06 386.09 L264.41 386.09 L264.77 386.09 L265.12 386.09 L265.47 386.1 L265.82 386.1 L266.17 386.1 L266.52 386.1 L266.87 386.1 L267.22 386.1 L267.57 386.1 L267.92 386.1 L267.92 386.1 Z" fill="#da2b3f" stroke="none" stroke-width="1" fill-opacity="0.4"/>
<path d="M169.34 386.1 L169.34 381.56 L169.65 381.47 L169.96 381.39 L170.27 381.33 L170.58 381.27 L170.89 381.23 L171.2 381.19 L171.51 381.16 L171.82 381.14 L172.13 381.13 L172.44 381.12 L172.75 381.11 L173.06 381.11 L173.37 381.11 L173.68 381.11 L173.99 381.13 L174.3 381.19 L174.61 381.26 L174.91 381.35 L175.22 381.46 L175.53 381.59 L175.84 381.72 L176.15 381.86 L176.46 382 L176.77 382.15 L177.08 382.29 L177.39 382.43 L177.7 382.56 L178.01 382.68 L178.32 382.8 L178.63 382.92 L178.94 383.04 L179.25 383.17 L179.56 383.3 L179.87 383.43 L180.18 383.55 L180.48 383.68 L180.79 383.81 L181.1 383.93 L181.41 384.04 L181.72 384.16 L182.03 384.26 L182.34 384.36 L182.65 384.44 L182.96 384.52 L183.27 384.59 L183.58 384.67 L183.89 384.74 L184.2 384.82 L184.51 384.89 L184.82 384.95 L185.13 385.01 L185.44 385.07 L185.74 385.11 L186.05 385.15 L186.36 385.18 L186.67 385.19 L186.98 385.19 L187.29 385.19 L187.6 385.18 L187.91 385.17 L188.22 385.16 L188.53 385.15 L188.84 385.13 L189.15 385.11 L189.46 385.09 L189.77 385.06 L190.08 385.03 L190.39 385 L190.7 384.97 L191.01 384.91 L191.31 384.8 L191.62 384.63 L191.93 384.41 L192.24 384.13 L192.55 383.81 L192.86 383.43 L193.17 383.02 L193.48 382.56 L193.79 382.07 L194.1 381.53 L194.41 380.97 L194.72 380.37 L195.03 379.75 L195.34 379.02 L195.65 377.97 L195.96 376.63 L196.27 375.06 L196.58 373.32 L196.88 371.48 L197.19 369.59 L197.5 367.71 L197.81 365.91 L198.12 364.04 L198.43 362.04 L198.74 359.94 L199.05 357.79 L199.36 355.65 L199.67 353.54 L199.98 351.53 L200.29 349.66 L200.6 347.96 L200.91 346.42 L201.22 344.98 L201.53 343.61 L201.84 342.28 L202.15 340.96 L202.45 339.61 L202.76 338.2 L203.07 336.71 L203.38 335.23 L203.69 333.72 L204 332.13 L204.31 330.39 L204.62 328.42 L204.93 326.02 L205.24 323.28 L205.55 320.41 L205.86 317.63 L206.17 315.13 L206.48 313.01 L206.79 311 L207.1 309.07 L207.41 307.23 L207.71 305.48 L208.02 303.82 L208.33 302.26 L208.64 300.8 L208.95 299.44 L209.26 298.08 L209.57 296.68 L209.88 295.26 L210.19 293.86 L210.5 292.5 L210.81 291.24 L211.12 290.08 L211.43 289.07 L211.74 288.24 L212.05 287.62 L212.36 287.24 L212.67 287.13 L212.98 287.32 L213.28 287.77 L213.59 288.46 L213.9 289.36 L214.21 290.42 L214.52 291.62 L214.83 292.92 L215.14 294.29 L215.45 295.69 L215.76 297.1 L216.07 298.47 L216.38 299.78 L216.69 301.12 L217 302.55 L217.31 304.07 L217.62 305.66 L217.93 307.31 L218.24 309.01 L218.55 310.75 L218.85 312.53 L219.16 314.32 L219.47 316.14 L219.78 317.99 L220.09 319.9 L220.4 321.87 L220.71 323.94 L221.02 326.12 L221.33 328.44 L221.64 331.09 L221.95 334.31 L222.26 337.46 L222.57 339.89 L222.88 341.54 L223.19 343.05 L223.5 344.42 L223.81 345.66 L224.12 346.81 L224.42 347.87 L224.73 348.85 L225.04 349.78 L225.35 350.68 L225.66 351.54 L225.97 352.41 L226.28 353.28 L226.59 354.17 L226.9 355.1 L227.21 356.03 L227.52 356.95 L227.83 357.85 L228.14 358.73 L228.45 359.6 L228.76 360.45 L229.07 361.29 L229.38 362.11 L229.69 362.92 L229.99 363.7 L230.3 364.47 L230.61 365.23 L230.92 365.96 L231.23 366.68 L231.54 367.39 L231.85 368.1 L232.16 368.82 L232.47 369.53 L232.78 370.23 L233.09 370.93 L233.4 371.62 L233.71 372.3 L234.02 372.96 L234.33 373.6 L234.64 374.23 L234.95 374.84 L235.25 375.43 L235.56 375.99 L235.87 376.52 L236.18 377.02 L236.49 377.49 L236.8 377.93 L237.11 378.34 L237.42 378.72 L237.73 379.1 L238.04 379.49 L238.35 379.88 L238.66 380.26 L238.97 380.63 L239.28 380.99 L239.59 381.34 L239.9 381.68 L240.21 382 L240.52 382.3 L240.82 382.57 L241.13 382.82 L241.44 383.04 L241.75 383.22 L242.06 383.38 L242.37 383.49 L242.68 383.57 L242.99 383.6 L243.3 383.61 L243.61 383.62 L243.92 383.63 L244.23 383.64 L244.54 383.64 L244.85 383.65 L245.16 383.66 L245.47 383.67 L245.78 383.67 L246.09 383.68 L246.39 383.69 L246.7 383.69 L247.01 383.7 L247.32 383.71 L247.63 383.71 L247.94 383.72 L248.25 383.72 L248.56 383.73 L248.87 383.73 L249.18 383.74 L249.49 383.74 L249.8 383.75 L250.11 383.75 L250.42 383.76 L250.73 383.76 L251.04 383.77 L251.35 383.77 L251.66 383.77 L251.96 383.78 L252.27 383.78 L252.58 383.79 L252.89 383.79 L253.2 383.79 L253.51 383.79 L253.82 383.8 L254.13 383.8 L254.44 383.8 L254.75 383.81 L255.06 383.81 L255.37 383.81 L255.68 383.81 L255.99 383.81 L256.3 383.82 L256.61 383.82 L256.92 383.82 L257.23 383.82 L257.53 383.82 L257.84 383.82 L258.15 383.82 L258.46 383.82 L258.77 383.83 L259.08 383.83 L259.39 383.83 L259.7 383.83 L260.01 383.83 L260.32 383.83 L260.63 383.83 L260.94 383.83 L261.25 383.83 L261.56 383.83 L261.87 383.83 L261.87 386.1 Z" fill="#0000ff" stroke="none" stroke-width="1" fill-opacity="0.3"/>
<path d="M169.34 386.1 L169.34 381.56 L169.65 379.56 L169.96 377.93 L170.27 376.63 L170.58 375.6 L170.89 374.8 L171.2 374.17 L171.51 373.68 L171.82 373.27 L172.13 372.89 L172.44 372.49 L172.75 372.03 L173.06 371.46 L173.37 370.73 L173.68 369.8 L173.99 368.79 L174.3 367.73 L174.61 366.63 L174.91 365.49 L175.22 364.34 L175.53 363.16 L175.84 361.97 L176.15 360.78 L176.46 359.6 L176.77 358.43 L177.08 357.27 L177.39 356.15 L177.7 355.05 L178.01 353.97 L178.32 352.89 L178.63 351.81 L178.94 350.73 L179.25 349.66 L179.56 348.6 L179.87 347.55 L180.18 346.52 L180.48 345.5 L180.79 344.5 L181.1 343.52 L181.41 342.56 L181.72 341.64 L182.03 340.74 L182.34 339.87 L182.65 339.02 L182.96 338.19 L183.27 337.37 L183.58 336.56 L183.89 335.74 L184.2 334.93 L184.51 334.14 L184.82 333.35 L185.13 332.57 L185.44 331.8 L185.74 331.02 L186.05 330.24 L186.36 329.44 L186.67 328.64 L186.98 327.82 L187.29 326.99 L187.6 326.16 L187.91 325.33 L188.22 324.5 L188.53 323.66 L188.84 322.81 L189.15 321.96 L189.46 321.09 L189.77 320.22 L190.08 319.34 L190.39 318.45 L190.7 317.55 L191.01 316.63 L191.31 315.7 L191.62 314.72 L191.93 313.7 L192.24 312.64 L192.55 311.56 L192.86 310.48 L193.17 309.4 L193.48 308.33 L193.79 307.29 L194.1 306.3 L194.41 305.36 L194.72 304.49 L195.03 303.66 L195.34 302.79 L195.65 301.89 L195.96 300.99 L196.27 300.13 L196.58 299.34 L196.88 298.65 L197.19 298.11 L197.5 297.74 L197.81 297.57 L198.12 297.65 L198.43 297.97 L198.74 298.51 L199.05 299.23 L199.36 300.11 L199.67 301.13 L199.98 302.24 L200.29 303.44 L200.6 304.68 L200.91 305.97 L201.22 307.71 L201.53 309.88 L201.84 312.31 L202.15 314.86 L202.45 317.36 L202.76 319.65 L203.07 321.77 L203.38 323.86 L203.69 326.03 L204 328.39 L204.31 331.07 L204.62 334.43 L204.93 338.05 L205.24 341.3 L205.55 344.28 L205.86 347.15 L206.17 349.76 L206.48 351.96 L206.79 353.72 L207.1 355.36 L207.41 356.89 L207.71 358.32 L208.02 359.65 L208.33 360.89 L208.64 362.04 L208.95 363.11 L209.26 364.1 L209.57 365.01 L209.88 365.85 L210.19 366.63 L210.5 367.36 L210.81 368.05 L211.12 368.71 L211.43 369.33 L211.74 369.92 L212.05 370.48 L212.36 371.01 L212.67 371.51 L212.98 372 L213.28 372.47 L213.59 372.92 L213.9 373.36 L214.21 373.78 L214.52 374.18 L214.83 374.57 L215.14 374.93 L215.45 375.28 L215.76 375.61 L216.07 375.94 L216.38 376.26 L216.69 376.58 L217 376.89 L217.31 377.21 L217.62 377.52 L217.93 377.81 L218.24 378.1 L218.55 378.39 L218.85 378.68 L219.16 378.98 L219.47 379.3 L219.78 379.65 L220.09 380.04 L220.4 380.47 L220.71 380.92 L221.02 381.37 L221.33 381.83 L221.64 382.28 L221.95 382.71 L222.26 383.11 L222.57 383.47 L222.88 383.78 L223.19 384.03 L223.5 384.2 L223.81 384.29 L224.12 384.35 L224.42 384.41 L224.73 384.46 L225.04 384.51 L225.35 384.56 L225.66 384.61 L225.97 384.66 L226.28 384.7 L226.59 384.74 L226.9 384.79 L227.21 384.83 L227.52 384.86 L227.83 384.9 L228.14 384.93 L228.45 384.97 L228.76 385 L229.07 385.03 L229.38 385.06 L229.69 385.09 L229.99 385.11 L230.3 385.14 L230.61 385.16 L230.92 385.18 L231.23 385.21 L231.54 385.23 L231.85 385.24 L232.16 385.26 L232.47 385.28 L232.78 385.29 L233.09 385.31 L233.4 385.32 L233.71 385.34 L234.02 385.35 L234.33 385.36 L234.64 385.37 L234.95 385.38 L235.25 385.39 L235.56 385.4 L235.87 385.4 L236.18 385.41 L236.49 385.42 L236.8 385.42 L237.11 385.43 L237.42 385.43 L237.73 385.44 L238.04 385.44 L238.35 385.45 L238.66 385.45 L238.97 385.46 L239.28 385.46 L239.59 385.47 L239.9 385.47 L240.21 385.48 L240.52 385.48 L240.82 385.49 L241.13 385.49 L241.44 385.5 L241.75 385.5 L242.06 385.51 L242.37 385.51 L242.68 385.51 L242.99 385.52 L243.3 385.52 L243.61 385.53 L243.92 385.53 L244.23 385.53 L244.54 385.54 L244.85 385.54 L245.16 385.55 L245.47 385.55 L245.78 385.55 L246.09 385.56 L246.39 385.56 L246.7 385.56 L247.01 385.57 L247.32 385.57 L247.63 385.57 L247.94 385.58 L248.25 385.58 L248.56 385.58 L248.87 385.59 L249.18 385.59 L249.49 385.59 L249.8 385.59 L250.11 385.6 L250.42 385.6 L250.73 385.6 L251.04 385.6 L251.35 385.61 L251.66 385.61 L251.96 385.61 L252.27 385.61 L252.58 385.61 L252.89 385.62 L253.2 385.62 L253.51 385.62 L253.82 385.62 L254.13 385.62 L254.44 385.63 L254.75 385.63 L255.06 385.63 L255.37 385.63 L255.68 385.63 L255.99 385.63 L256.3 385.63 L256.61 385.64 L256.92 385.64 L257.23 385.64 L257.53 385.64 L257.84 385.64 L258.15 385.64 L258.46 385.64 L258.77 385.64 L259.08 385.64 L259.39 385.64 L259.7 385.64 L260.01 385.64 L260.32 385.65 L260.63 385.65 L260.94 385.65 L261.25 385.65 L261.56 385.65 L261.87 385.65 L261.87 386.1 Z" fill="#008000" stroke="none" stroke-width="1" fill-opacity="0.3"/>
<path d="M162.99 386.1 L163.35 386.1 L163.7 386.1 L164.05 386.1 L164.4 386.1 L164.75 386.1 L165.1 386.1 L165.45 386.1 L165.8 386.1 L166.15 386.1 L166.5 386.1 L166.85 386.1 L167.21 386.1 L167.56 385.67 L167.91 384.19 L168.26 380.42 L168.61 375.09 L168.96 375.17 L169.31 379.05 L169.66 382.11 L170.01 381.99 L170.36 381.07 L170.71 379.66 L171.07 377.94 L171.42 376.11 L171.77 374.36 L172.12 372.35 L172.47 370.06 L172.82 367.72 L173.17 365.58 L173.52 363.23 L173.87 361.01 L174.22 360 L174.58 361.72 L174.93 363.4 L175.28 362.32 L175.63 359.7 L175.98 356.23 L176.33 352.63 L176.68 349.58 L177.03 347.62 L177.38 346.12 L177.73 344.83 L178.08 343.64 L178.44 342.46 L178.79 341.21 L179.14 339.83 L179.49 338.41 L179.84 336.95 L180.19 335.45 L180.54 333.89 L180.89 332.25 L181.24 330.59 L181.59 328.95 L181.94 327.25 L182.3 325.45 L182.65 323.67 L183 321.97 L183.35 320.45 L183.7 319.21 L184.05 318.27 L184.4 317.49 L184.75 316.81 L185.1 316.19 L185.45 315.59 L185.81 315.11 L186.16 314.69 L186.51 314.17 L186.86 313.39 L187.21 311.57 L187.56 308.77 L187.91 305.67 L188.26 301.24 L188.61 298.94 L188.96 302.01 L189.31 307.26 L189.67 310.05 L190.02 309.6 L190.37 308.43 L190.72 306.84 L191.07 305.12 L191.42 303.35 L191.77 300.83 L192.12 298.22 L192.47 296.37 L192.82 296.43 L193.17 300.07 L193.53 302.08 L193.88 300.69 L194.23 299.87 L194.58 300.96 L194.93 302.89 L195.28 304.72 L195.63 305.51 L195.98 305.35 L196.33 304.98 L196.68 304.59 L197.03 304.38 L197.39 304.57 L197.74 305.23 L198.09 306.21 L198.44 307.37 L198.79 308.8 L199.14 310.96 L199.49 313.64 L199.84 316.58 L200.19 319.52 L200.54 322.79 L200.9 326.27 L201.25 329.58 L201.6 332.68 L201.95 335.58 L202.3 338.33 L202.65 340.86 L203 343.18 L203.35 345.39 L203.7 347.49 L204.05 349.5 L204.4 351.41 L204.76 353.23 L205.11 355.05 L205.46 356.84 L205.81 358.58 L206.16 360.24 L206.51 361.78 L206.86 363.16 L207.21 364.35 L207.56 365.35 L207.91 366.24 L208.26 367.05 L208.62 367.79 L208.97 368.48 L209.32 369.13 L209.67 369.76 L210.02 370.38 L210.37 371.01 L210.72 371.67 L211.07 372.34 L211.42 373.03 L211.77 373.73 L212.13 374.43 L212.48 375.11 L212.83 375.78 L213.18 376.43 L213.53 377.04 L213.88 377.62 L214.23 378.15 L214.58 378.62 L214.93 379.02 L215.28 379.39 L215.63 379.74 L215.99 380.09 L216.34 380.43 L216.69 380.76 L217.04 381.08 L217.39 381.4 L217.74 381.7 L218.09 381.99 L218.44 382.26 L218.79 382.52 L219.14 382.77 L219.49 383.01 L219.85 383.22 L220.2 383.43 L220.55 383.61 L220.9 383.78 L221.25 383.93 L221.6 384.06 L221.95 384.17 L222.3 384.26 L222.65 384.34 L223 384.41 L223.36 384.48 L223.71 384.54 L224.06 384.6 L224.41 384.66 L224.76 384.72 L225.11 384.78 L225.46 384.83 L225.81 384.88 L226.16 384.93 L226.51 384.97 L226.86 385.01 L227.22 385.05 L227.57 385.09 L227.92 385.13 L228.27 385.17 L228.62 385.2 L228.97 385.23 L229.32 385.26 L229.67 385.29 L230.02 385.31 L230.37 385.34 L230.72 385.36 L231.08 385.38 L231.43 385.4 L231.78 385.42 L232.13 385.44 L232.48 385.45 L232.83 385.47 L233.18 385.49 L233.53 385.5 L233.88 385.52 L234.23 385.54 L234.59 385.55 L234.94 385.56 L235.29 385.58 L235.64 385.59 L235.99 385.61 L236.34 385.62 L236.69 385.63 L237.04 385.64 L237.39 385.66 L237.74 385.67 L238.09 385.68 L238.45 385.69 L238.8 385.7 L239.15 385.71 L239.5 385.72 L239.85 385.73 L240.2 385.74 L240.55 385.75 L240.9 385.76 L241.25 385.77 L241.6 385.78 L241.95 385.79 L242.31 385.79 L242.66 385.8 L243.01 385.81 L243.36 385.82 L243.71 385.82 L244.06 385.83 L244.41 385.84 L244.76 385.84 L245.11 385.85 L245.46 385.86 L245.82 385.86 L246.17 385.87 L246.52 385.87 L246.87 385.88 L247.22 385.89 L247.57 385.89 L247.92 385.9 L248.27 385.9 L248.62 385.91 L248.97 385.91 L249.32 385.92 L249.68 385.92 L250.03 385.93 L250.38 385.94 L250.73 385.94 L251.08 385.95 L251.43 385.95 L251.78 385.96 L252.13 385.96 L252.48 385.97 L252.83 385.97 L253.18 385.98 L253.54 385.98 L253.89 385.99 L254.24 385.99 L254.59 386 L254.94 386 L255.29 386.01 L255.64 386.01 L255.99 386.02 L256.34 386.02 L256.69 386.02 L257.04 386.03 L257.4 386.03 L257.75 386.04 L258.1 386.04 L258.45 386.04 L258.8 386.05 L259.15 386.05 L259.5 386.06 L259.85 386.06 L260.2 386.06 L260.55 386.07 L260.91 386.07 L261.26 386.07 L261.61 386.07 L261.96 386.08 L262.31 386.08 L262.66 386.08 L263.01 386.08 L263.36 386.09 L263.71 386.09 L264.06 386.09 L264.41 386.09 L264.77 386.09 L265.12 386.09 L265.47 386.1 L265.82 386.1 L266.17 386.1 L266.52 386.1 L266.87 386.1 L267.22 386.1 L267.57 386.1 L267.92 386.1" fill="none" stroke="#e41f2a" stroke-width="0.71" stroke-linejoin="round"/>
<path d="M169.34 381.56 L169.65 381.47 L169.96 381.39 L170.27 381.33 L170.58 381.27 L170.89 381.23 L171.2 381.19 L171.51 381.16 L171.82 381.14 L172.13 381.13 L172.44 381.12 L172.75 381.11 L173.06 381.11 L173.37 381.11 L173.68 381.11 L173.99 381.13 L174.3 381.19 L174.61 381.26 L174.91 381.35 L175.22 381.46 L175.53 381.59 L175.84 381.72 L176.15 381.86 L176.46 382 L176.77 382.15 L177.08 382.29 L177.39 382.43 L177.7 382.56 L178.01 382.68 L178.32 382.8 L178.63 382.92 L178.94 383.04 L179.25 383.17 L179.56 383.3 L179.87 383.43 L180.18 383.55 L180.48 383.68 L180.79 383.81 L181.1 383.93 L181.41 384.04 L181.72 384.16 L182.03 384.26 L182.34 384.36 L182.65 384.44 L182.96 384.52 L183.27 384.59 L183.58 384.67 L183.89 384.74 L184.2 384.82 L184.51 384.89 L184.82 384.95 L185.13 385.01 L185.44 385.07 L185.74 385.11 L186.05 385.15 L186.36 385.18 L186.67 385.19 L186.98 385.19 L187.29 385.19 L187.6 385.18 L187.91 385.17 L188.22 385.16 L188.53 385.15 L188.84 385.13 L189.15 385.11 L189.46 385.09 L189.77 385.06 L190.08 385.03 L190.39 385 L190.7 384.97 L191.01 384.91 L191.31 384.8 L191.62 384.63 L191.93 384.41 L192.24 384.13 L192.55 383.81 L192.86 383.43 L193.17 383.02 L193.48 382.56 L193.79 382.07 L194.1 381.53 L194.41 380.97 L194.72 380.37 L195.03 379.75 L195.34 379.02 L195.65 377.97 L195.96 376.63 L196.27 375.06 L196.58 373.32 L196.88 371.48 L197.19 369.59 L197.5 367.71 L197.81 365.91 L198.12 364.04 L198.43 362.04 L198.74 359.94 L199.05 357.79 L199.36 355.65 L199.67 353.54 L199.98 351.53 L200.29 349.66 L200.6 347.96 L200.91 346.42 L201.22 344.98 L201.53 343.61 L201.84 342.28 L202.15 340.96 L202.45 339.61 L202.76 338.2 L203.07 336.71 L203.38 335.23 L203.69 333.72 L204 332.13 L204.31 330.39 L204.62 328.42 L204.93 326.02 L205.24 323.28 L205.55 320.41 L205.86 317.63 L206.17 315.13 L206.48 313.01 L206.79 311 L207.1 309.07 L207.41 307.23 L207.71 305.48 L208.02 303.82 L208.33 302.26 L208.64 300.8 L208.95 299.44 L209.26 298.08 L209.57 296.68 L209.88 295.26 L210.19 293.86 L210.5 292.5 L210.81 291.24 L211.12 290.08 L211.43 289.07 L211.74 288.24 L212.05 287.62 L212.36 287.24 L212.67 287.13 L212.98 287.32 L213.28 287.77 L213.59 288.46 L213.9 289.36 L214.21 290.42 L214.52 291.62 L214.83 292.92 L215.14 294.29 L215.45 295.69 L215.76 297.1 L216.07 298.47 L216.38 299.78 L216.69 301.12 L217 302.55 L217.31 304.07 L217.62 305.66 L217.93 307.31 L218.24 309.01 L218.55 310.75 L218.85 312.53 L219.16 314.32 L219.47 316.14 L219.78 317.99 L220.09 319.9 L220.4 321.87 L220.71 323.94 L221.02 326.12 L221.33 328.44 L221.64 331.09 L221.95 334.31 L222.26 337.46 L222.57 339.89 L222.88 341.54 L223.19 343.05 L223.5 344.42 L223.81 345.66 L224.12 346.81 L224.42 347.87 L224.73 348.85 L225.04 349.78 L225.35 350.68 L225.66 351.54 L225.97 352.41 L226.28 353.28 L226.59 354.17 L226.9 355.1 L227.21 356.03 L227.52 356.95 L227.83 357.85 L228.14 358.73 L228.45 359.6 L228.76 360.45 L229.07 361.29 L229.38 362.11 L229.69 362.92 L229.99 363.7 L230.3 364.47 L230.61 365.23 L230.92 365.96 L231.23 366.68 L231.54 367.39 L231.85 368.1 L232.16 368.82 L232.47 369.53 L232.78 370.23 L233.09 370.93 L233.4 371.62 L233.71 372.3 L234.02 372.96 L234.33 373.6 L234.64 374.23 L234.95 374.84 L235.25 375.43 L235.56 375.99 L235.87 376.52 L236.18 377.02 L236.49 377.49 L236.8 377.93 L237.11 378.34 L237.42 378.72 L237.73 379.1 L238.04 379.49 L238.35 379.88 L238.66 380.26 L238.97 380.63 L239.28 380.99 L239.59 381.34 L239.9 381.68 L240.21 382 L240.52 382.3 L240.82 382.57 L241.13 382.82 L241.44 383.04 L241.75 383.22 L242.06 383.38 L242.37 383.49 L242.68 383.57 L242.99 383.6 L243.3 383.61 L243.61 383.62 L243.92 383.63 L244.23 383.64 L244.54 383.64 L244.85 383.65 L245.16 383.66 L245.47 383.67 L245.78 383.67 L246.09 383.68 L246.39 383.69 L246.7 383.69 L247.01 383.7 L247.32 383.71 L247.63 383.71 L247.94 383.72 L248.25 383.72 L248.56 383.73 L248.87 383.73 L249.18 383.74 L249.49 383.74 L249.8 383.75 L250.11 383.75 L250.42 383.76 L250.73 383.76 L251.04 383.77 L251.35 383.77 L251.66 383.77 L251.96 383.78 L252.27 383.78 L252.58 383.79 L252.89 383.79 L253.2 383.79 L253.51 383.79 L253.82 383.8 L254.13 383.8 L254.44 383.8 L254.75 383.81 L255.06 383.81 L255.37 383.81 L255.68 383.81 L255.99 383.81 L256.3 383.82 L256.61 383.82 L256.92 383.82 L257.23 383.82 L257.53 383.82 L257.84 383.82 L258.15 383.82 L258.46 383.82 L258.77 383.83 L259.08 383.83 L259.39 383.83 L259.7 383.83 L260.01 383.83 L260.32 383.83 L260.63 383.83 L260.94 383.83 L261.25 383.83 L261.56 383.83 L261.87 383.83" fill="none" stroke="#0000ff" stroke-width="0.71" stroke-linejoin="round"/>
<path d="M169.34 381.56 L169.65 379.56 L169.96 377.93 L170.27 376.63 L170.58 375.6 L170.89 374.8 L171.2 374.17 L171.51 373.68 L171.82 373.27 L172.13 372.89 L172.44 372.49 L172.75 372.03 L173.06 371.46 L173.37 370.73 L173.68 369.8 L173.99 368.79 L174.3 367.73 L174.61 366.63 L174.91 365.49 L175.22 364.34 L175.53 363.16 L175.84 361.97 L176.15 360.78 L176.46 359.6 L176.77 358.43 L177.08 357.27 L177.39 356.15 L177.7 355.05 L178.01 353.97 L178.32 352.89 L178.63 351.81 L178.94 350.73 L179.25 349.66 L179.56 348.6 L179.87 347.55 L180.18 346.52 L180.48 345.5 L180.79 344.5 L181.1 343.52 L181.41 342.56 L181.72 341.64 L182.03 340.74 L182.34 339.87 L182.65 339.02 L182.96 338.19 L183.27 337.37 L183.58 336.56 L183.89 335.74 L184.2 334.93 L184.51 334.14 L184.82 333.35 L185.13 332.57 L185.44 331.8 L185.74 331.02 L186.05 330.24 L186.36 329.44 L186.67 328.64 L186.98 327.82 L187.29 326.99 L187.6 326.16 L187.91 325.33 L188.22 324.5 L188.53 323.66 L188.84 322.81 L189.15 321.96 L189.46 321.09 L189.77 320.22 L190.08 319.34 L190.39 318.45 L190.7 317.55 L191.01 316.63 L191.31 315.7 L191.62 314.72 L191.93 313.7 L192.24 312.64 L192.55 311.56 L192.86 310.48 L193.17 309.4 L193.48 308.33 L193.79 307.29 L194.1 306.3 L194.41 305.36 L194.72 304.49 L195.03 303.66 L195.34 302.79 L195.65 301.89 L195.96 300.99 L196.27 300.13 L196.58 299.34 L196.88 298.65 L197.19 298.11 L197.5 297.74 L197.81 297.57 L198.12 297.65 L198.43 297.97 L198.74 298.51 L199.05 299.23 L199.36 300.11 L199.67 301.13 L199.98 302.24 L200.29 303.44 L200.6 304.68 L200.91 305.97 L201.22 307.71 L201.53 309.88 L201.84 312.31 L202.15 314.86 L202.45 317.36 L202.76 319.65 L203.07 321.77 L203.38 323.86 L203.69 326.03 L204 328.39 L204.31 331.07 L204.62 334.43 L204.93 338.05 L205.24 341.3 L205.55 344.28 L205.86 347.15 L206.17 349.76 L206.48 351.96 L206.79 353.72 L207.1 355.36 L207.41 356.89 L207.71 358.32 L208.02 359.65 L208.33 360.89 L208.64 362.04 L208.95 363.11 L209.26 364.1 L209.57 365.01 L209.88 365.85 L210.19 366.63 L210.5 367.36 L210.81 368.05 L211.12 368.71 L211.43 369.33 L211.74 369.92 L212.05 370.48 L212.36 371.01 L212.67 371.51 L212.98 372 L213.28 372.47 L213.59 372.92 L213.9 373.36 L214.21 373.78 L214.52 374.18 L214.83 374.57 L215.14 374.93 L215.45 375.28 L215.76 375.61 L216.07 375.94 L216.38 376.26 L216.69 376.58 L217 376.89 L217.31 377.21 L217.62 377.52 L217.93 377.81 L218.24 378.1 L218.55 378.39 L218.85 378.68 L219.16 378.98 L219.47 379.3 L219.78 379.65 L220.09 380.04 L220.4 380.47 L220.71 380.92 L221.02 381.37 L221.33 381.83 L221.64 382.28 L221.95 382.71 L222.26 383.11 L222.57 383.47 L222.88 383.78 L223.19 384.03 L223.5 384.2 L223.81 384.29 L224.12 384.35 L224.42 384.41 L224.73 384.46 L225.04 384.51 L225.35 384.56 L225.66 384.61 L225.97 384.66 L226.28 384.7 L226.59 384.74 L226.9 384.79 L227.21 384.83 L227.52 384.86 L227.83 384.9 L228.14 384.93 L228.45 384.97 L228.76 385 L229.07 385.03 L229.38 385.06 L229.69 385.09 L229.99 385.11 L230.3 385.14 L230.61 385.16 L230.92 385.18 L231.23 385.21 L231.54 385.23 L231.85 385.24 L232.16 385.26 L232.47 385.28 L232.78 385.29 L233.09 385.31 L233.4 385.32 L233.71 385.34 L234.02 385.35 L234.33 385.36 L234.64 385.37 L234.95 385.38 L235.25 385.39 L235.56 385.4 L235.87 385.4 L236.18 385.41 L236.49 385.42 L236.8 385.42 L237.11 385.43 L237.42 385.43 L237.73 385.44 L238.04 385.44 L238.35 385.45 L238.66 385.45 L238.97 385.46 L239.28 385.46 L239.59 385.47 L239.9 385.47 L240.21 385.48 L240.52 385.48 L240.82 385.49 L241.13 385.49 L241.44 385.5 L241.75 385.5 L242.06 385.51 L242.37 385.51 L242.68 385.51 L242.99 385.52 L243.3 385.52 L243.61 385.53 L243.92 385.53 L244.23 385.53 L244.54 385.54 L244.85 385.54 L245.16 385.55 L245.47 385.55 L245.78 385.55 L246.09 385.56 L246.39 385.56 L246.7 385.56 L247.01 385.57 L247.32 385.57 L247.63 385.57 L247.94 385.58 L248.25 385.58 L248.56 385.58 L248.87 385.59 L249.18 385.59 L249.49 385.59 L249.8 385.59 L250.11 385.6 L250.42 385.6 L250.73 385.6 L251.04 385.6 L251.35 385.61 L251.66 385.61 L251.96 385.61 L252.27 385.61 L252.58 385.61 L252.89 385.62 L253.2 385.62 L253.51 385.62 L253.82 385.62 L254.13 385.62 L254.44 385.63 L254.75 385.63 L255.06 385.63 L255.37 385.63 L255.68 385.63 L255.99 385.63 L256.3 385.63 L256.61 385.64 L256.92 385.64 L257.23 385.64 L257.53 385.64 L257.84 385.64 L258.15 385.64 L258.46 385.64 L258.77 385.64 L259.08 385.64 L259.39 385.64 L259.7 385.64 L260.01 385.64 L260.32 385.65 L260.63 385.65 L260.94 385.65 L261.25 385.65 L261.56 385.65 L261.87 385.65" fill="none" stroke="#008000" stroke-width="0.71" stroke-linejoin="round"/>
<line x1="191.82" y1="282.5" x2="191.82" y2="391" stroke="#e41f2a" stroke-width="0.5" stroke-dasharray="1.76,0.76"/>
<line x1="195.24" y1="282.5" x2="195.24" y2="391" stroke="#008000" stroke-width="0.5" stroke-dasharray="1.76,0.76"/>
<line x1="212.72" y1="282.5" x2="212.72" y2="391" stroke="#0000ff" stroke-width="0.5" stroke-dasharray="1.76,0.76"/>
</g>
<rect x="158.1" y="282.5" width="115.6" height="108.5" fill="none" stroke="#000" stroke-width="0.42"/>
<line x1="158.5" y1="391" x2="158.5" y2="392.7" stroke="#000" stroke-width="0.45"/>
<line x1="178.04" y1="391" x2="178.04" y2="392.7" stroke="#000" stroke-width="0.45"/>
<line x1="197.58" y1="391" x2="197.58" y2="392.7" stroke="#000" stroke-width="0.45"/>
<line x1="217.12" y1="391" x2="217.12" y2="392.7" stroke="#000" stroke-width="0.45"/>
<line x1="236.66" y1="391" x2="236.66" y2="392.7" stroke="#000" stroke-width="0.45"/>
<line x1="256.2" y1="391" x2="256.2" y2="392.7" stroke="#000" stroke-width="0.45"/>
<line x1="158.1" y1="386.1" x2="156.4" y2="386.1" stroke="#000" stroke-width="0.45"/>
<line x1="158.1" y1="363.4" x2="156.4" y2="363.4" stroke="#000" stroke-width="0.45"/>
<line x1="158.1" y1="340.7" x2="156.4" y2="340.7" stroke="#000" stroke-width="0.45"/>
<line x1="158.1" y1="318" x2="156.4" y2="318" stroke="#000" stroke-width="0.45"/>
<line x1="158.1" y1="295.3" x2="156.4" y2="295.3" stroke="#000" stroke-width="0.45"/>
<rect x="228.6" y="284.7" width="43" height="17.9" rx="0.8" fill="#fff" fill-opacity="0.8" stroke="#ccc" stroke-width="0.45"/>
<line x1="229.9" y1="287.6" x2="238.4" y2="287.6" stroke="#e41f2a" stroke-width="0.71"/>
<line x1="229.9" y1="293.2" x2="238.4" y2="293.2" stroke="#0000ff" stroke-width="0.71"/>
<line x1="229.9" y1="298.8" x2="238.4" y2="298.8" stroke="#008000" stroke-width="0.71"/>
<clipPath id="c2943_2825"><rect x="294.3" y="282.5" width="115.6" height="108.5"/></clipPath>
<g clip-path="url(#c2943_2825)">
<path d="M299.31 386.3 L299.31 386.3 L299.67 385.51 L300.02 384.4 L300.37 382.56 L300.72 380.05 L301.08 378.48 L301.43 381.14 L301.78 383.58 L302.14 383.02 L302.49 381.9 L302.84 380.42 L303.19 378.77 L303.55 377.15 L303.9 375.76 L304.25 374.45 L304.61 373.12 L304.96 371.81 L305.31 370.57 L305.66 369.43 L306.02 368.19 L306.37 367.63 L306.72 368.15 L307.08 368.66 L307.43 368.23 L307.78 366.97 L308.13 365.16 L308.49 363.05 L308.84 360.91 L309.19 359.01 L309.55 357.36 L309.9 355.66 L310.25 353.96 L310.6 352.31 L310.96 350.75 L311.31 349.35 L311.66 348.15 L312.02 347.12 L312.37 346.2 L312.72 345.3 L313.07 344.34 L313.43 343.26 L313.78 341.98 L314.13 340.51 L314.49 338.88 L314.84 337.13 L315.19 335.3 L315.54 333.42 L315.9 331.49 L316.25 329.27 L316.6 326.91 L316.96 324.64 L317.31 322.7 L317.66 321.3 L318.01 320.32 L318.37 319.47 L318.72 318.46 L319.07 316.97 L319.43 314.38 L319.78 311.29 L320.13 307.31 L320.48 303 L320.84 300.09 L321.19 299.28 L321.54 298.74 L321.9 298.35 L322.25 298.14 L322.6 298.35 L322.95 300.27 L323.31 303.27 L323.66 306.27 L324.01 308.23 L324.37 308.27 L324.72 306.99 L325.07 305.17 L325.42 303.48 L325.78 302.1 L326.13 300.6 L326.48 299.26 L326.84 298.34 L327.19 298.15 L327.54 298.86 L327.89 300.18 L328.25 301.68 L328.6 302.99 L328.95 303.87 L329.31 304.7 L329.66 305.45 L330.01 306.05 L330.36 306.43 L330.72 306.67 L331.07 306.85 L331.42 307 L331.78 307.11 L332.13 307.18 L332.48 307.25 L332.83 307.36 L333.19 307.66 L333.54 309.12 L333.89 311.51 L334.25 314.34 L334.6 317.24 L334.95 320.65 L335.3 324.72 L335.66 329.45 L336.01 336.24 L336.36 341.73 L336.72 344.19 L337.07 346.02 L337.42 347.4 L337.77 348.55 L338.13 349.58 L338.48 350.4 L338.83 351.07 L339.19 351.72 L339.54 352.43 L339.89 353.32 L340.24 354.53 L340.6 356.14 L340.95 358.03 L341.3 360.09 L341.66 362.19 L342.01 364.24 L342.36 366.1 L342.71 367.66 L343.07 368.87 L343.42 369.98 L343.77 371.03 L344.13 372.01 L344.48 372.91 L344.83 373.74 L345.18 374.48 L345.54 375.14 L345.89 375.7 L346.24 376.19 L346.6 376.65 L346.95 377.08 L347.3 377.49 L347.65 377.86 L348.01 378.21 L348.36 378.54 L348.71 378.85 L349.07 379.14 L349.42 379.42 L349.77 379.68 L350.12 379.93 L350.48 380.17 L350.83 380.41 L351.18 380.65 L351.54 380.88 L351.89 381.12 L352.24 381.35 L352.59 381.57 L352.95 381.8 L353.3 382.01 L353.65 382.23 L354.01 382.43 L354.36 382.63 L354.71 382.83 L355.06 383.01 L355.42 383.19 L355.77 383.36 L356.12 383.52 L356.48 383.67 L356.83 383.8 L357.18 383.93 L357.53 384.05 L357.89 384.16 L358.24 384.25 L358.59 384.33 L358.95 384.39 L359.3 384.45 L359.65 384.49 L360 384.54 L360.36 384.58 L360.71 384.63 L361.06 384.67 L361.42 384.71 L361.77 384.75 L362.12 384.79 L362.48 384.83 L362.83 384.87 L363.18 384.9 L363.53 384.94 L363.89 384.97 L364.24 385 L364.59 385.03 L364.95 385.06 L365.3 385.09 L365.65 385.12 L366 385.15 L366.36 385.18 L366.71 385.2 L367.06 385.23 L367.42 385.25 L367.77 385.28 L368.12 385.3 L368.47 385.32 L368.83 385.34 L369.18 385.36 L369.53 385.38 L369.89 385.4 L370.24 385.42 L370.59 385.44 L370.94 385.46 L371.3 385.48 L371.65 385.49 L372 385.51 L372.36 385.52 L372.71 385.54 L373.06 385.55 L373.41 385.57 L373.77 385.58 L374.12 385.6 L374.47 385.61 L374.83 385.62 L375.18 385.64 L375.53 385.65 L375.88 385.66 L376.24 385.68 L376.59 385.69 L376.94 385.7 L377.3 385.71 L377.65 385.73 L378 385.74 L378.35 385.75 L378.71 385.76 L379.06 385.77 L379.41 385.79 L379.77 385.8 L380.12 385.81 L380.47 385.82 L380.82 385.83 L381.18 385.84 L381.53 385.86 L381.88 385.87 L382.24 385.88 L382.59 385.89 L382.94 385.9 L383.29 385.91 L383.65 385.92 L384 385.93 L384.35 385.94 L384.71 385.96 L385.06 385.97 L385.41 385.98 L385.76 385.99 L386.12 386 L386.47 386.01 L386.82 386.02 L387.18 386.03 L387.53 386.04 L387.88 386.05 L388.23 386.06 L388.59 386.06 L388.94 386.07 L389.29 386.08 L389.65 386.09 L390 386.1 L390.35 386.11 L390.7 386.12 L391.06 386.13 L391.41 386.13 L391.76 386.14 L392.12 386.15 L392.47 386.16 L392.82 386.17 L393.17 386.17 L393.53 386.18 L393.88 386.19 L394.23 386.19 L394.59 386.2 L394.94 386.21 L395.29 386.21 L395.64 386.22 L396 386.22 L396.35 386.23 L396.7 386.24 L397.06 386.24 L397.41 386.25 L397.76 386.25 L398.11 386.26 L398.47 386.26 L398.82 386.26 L399.17 386.27 L399.53 386.27 L399.88 386.28 L400.23 386.28 L400.58 386.28 L400.94 386.28 L401.29 386.29 L401.64 386.29 L402 386.29 L402.35 386.29 L402.7 386.3 L403.05 386.3 L403.41 386.3 L403.76 386.3 L404.11 386.3 L404.47 386.3 L404.82 386.3 L404.82 386.3 Z" fill="#da2b3f" stroke="none" stroke-width="1" fill-opacity="0.4"/>
<path d="M300.18 386.3 L300.18 382.15 L300.45 381.57 L300.71 381.08 L300.98 380.69 L301.25 380.37 L301.52 380.11 L301.79 379.91 L302.06 379.76 L302.33 379.64 L302.6 379.54 L302.86 379.45 L303.13 379.36 L303.4 379.26 L303.67 379.14 L303.94 378.99 L304.21 378.82 L304.48 378.66 L304.74 378.49 L305.01 378.32 L305.28 378.16 L305.55 377.99 L305.82 377.83 L306.09 377.67 L306.36 377.52 L306.62 377.37 L306.89 377.23 L307.16 377.09 L307.43 376.97 L307.7 376.85 L307.97 376.74 L308.24 376.64 L308.5 376.56 L308.77 376.48 L309.04 376.43 L309.31 376.38 L309.58 376.35 L309.85 376.34 L310.12 376.35 L310.39 376.39 L310.65 376.46 L310.92 376.55 L311.19 376.67 L311.46 376.81 L311.73 376.97 L312 377.15 L312.27 377.34 L312.53 377.54 L312.8 377.75 L313.07 377.97 L313.34 378.2 L313.61 378.43 L313.88 378.66 L314.15 378.89 L314.41 379.11 L314.68 379.33 L314.95 379.53 L315.22 379.73 L315.49 379.92 L315.76 380.08 L316.03 380.25 L316.29 380.43 L316.56 380.61 L316.83 380.8 L317.1 381 L317.37 381.2 L317.64 381.4 L317.91 381.6 L318.18 381.79 L318.44 381.99 L318.71 382.18 L318.98 382.36 L319.25 382.53 L319.52 382.69 L319.79 382.84 L320.06 382.97 L320.32 383.09 L320.59 383.2 L320.86 383.28 L321.13 383.34 L321.4 383.38 L321.67 383.39 L321.94 383.35 L322.2 383.21 L322.47 382.99 L322.74 382.7 L323.01 382.35 L323.28 381.96 L323.55 381.53 L323.82 381.07 L324.09 380.61 L324.35 380.14 L324.62 379.65 L324.89 379.08 L325.16 378.44 L325.43 377.73 L325.7 376.97 L325.97 376.17 L326.23 375.33 L326.5 374.47 L326.77 373.58 L327.04 372.67 L327.31 371.69 L327.58 370.63 L327.85 369.51 L328.11 368.33 L328.38 367.11 L328.65 365.86 L328.92 364.58 L329.19 363.28 L329.46 361.99 L329.73 360.69 L329.99 359.42 L330.26 358.17 L330.53 356.95 L330.8 355.78 L331.07 354.67 L331.34 353.61 L331.61 352.59 L331.88 351.59 L332.14 350.62 L332.41 349.66 L332.68 348.72 L332.95 347.79 L333.22 346.86 L333.49 345.94 L333.76 345.02 L334.02 344.1 L334.29 343.17 L334.56 342.26 L334.83 341.36 L335.1 340.47 L335.37 339.57 L335.64 338.65 L335.9 337.73 L336.17 336.79 L336.44 335.86 L336.71 334.92 L336.98 333.98 L337.25 333.02 L337.52 332.03 L337.78 331.01 L338.05 329.95 L338.32 328.84 L338.59 327.64 L338.86 326.37 L339.13 325.04 L339.4 323.69 L339.67 322.33 L339.93 321 L340.2 319.72 L340.47 318.5 L340.74 317.28 L341.01 316.04 L341.28 314.81 L341.55 313.62 L341.81 312.49 L342.08 311.45 L342.35 310.53 L342.62 309.76 L342.89 309.01 L343.16 308.26 L343.43 307.52 L343.69 306.81 L343.96 306.15 L344.23 305.56 L344.5 305.04 L344.77 304.63 L345.04 304.33 L345.31 304.16 L345.57 304.14 L345.84 304.22 L346.11 304.4 L346.38 304.65 L346.65 304.98 L346.92 305.37 L347.19 305.81 L347.46 306.3 L347.72 306.83 L347.99 307.39 L348.26 307.97 L348.53 308.57 L348.8 309.17 L349.07 309.76 L349.34 310.38 L349.6 311.09 L349.87 311.88 L350.14 312.74 L350.41 313.67 L350.68 314.64 L350.95 315.64 L351.22 316.67 L351.48 317.7 L351.75 318.74 L352.02 319.75 L352.29 320.75 L352.56 321.77 L352.83 322.83 L353.1 323.91 L353.36 325.01 L353.63 326.1 L353.9 327.18 L354.17 328.24 L354.44 329.26 L354.71 330.24 L354.98 331.19 L355.25 332.12 L355.51 333.02 L355.78 333.92 L356.05 334.8 L356.32 335.67 L356.59 336.52 L356.86 337.37 L357.13 338.22 L357.39 339.06 L357.66 339.9 L357.93 340.74 L358.2 341.59 L358.47 342.44 L358.74 343.3 L359.01 344.17 L359.27 345.04 L359.54 345.93 L359.81 346.83 L360.08 347.73 L360.35 348.63 L360.62 349.53 L360.89 350.44 L361.16 351.35 L361.42 352.26 L361.69 353.16 L361.96 354.06 L362.23 354.96 L362.5 355.85 L362.77 356.74 L363.04 357.62 L363.3 358.48 L363.57 359.34 L363.84 360.2 L364.11 361.08 L364.38 361.98 L364.65 362.89 L364.92 363.8 L365.18 364.71 L365.45 365.62 L365.72 366.51 L365.99 367.38 L366.26 368.22 L366.53 369.04 L366.8 369.82 L367.06 370.55 L367.33 371.24 L367.6 371.87 L367.87 372.44 L368.14 372.95 L368.41 373.45 L368.68 373.94 L368.95 374.42 L369.21 374.89 L369.48 375.34 L369.75 375.78 L370.02 376.21 L370.29 376.62 L370.56 377.02 L370.83 377.4 L371.09 377.78 L371.36 378.13 L371.63 378.47 L371.9 378.8 L372.17 379.11 L372.44 379.4 L372.71 379.68 L372.97 379.94 L373.24 380.18 L373.51 380.4 L373.78 380.61 L374.05 380.8 L374.32 380.99 L374.59 381.18 L374.85 381.37 L375.12 381.55 L375.39 381.73 L375.66 381.91 L375.93 382.08 L376.2 382.25 L376.47 382.42 L376.74 382.58 L377 382.73 L377.27 382.87 L377.54 383.01 L377.81 383.14 L378.08 383.25 L378.35 383.36 L378.62 383.46 L378.88 383.55 L379.15 383.63 L379.42 383.69 L379.69 383.74 L379.96 383.78 L380.23 383.8 L380.5 383.81 L380.5 386.3 Z" fill="#0000ff" stroke="none" stroke-width="1" fill-opacity="0.3"/>
<path d="M300.61 386.3 L300.61 386.3 L300.88 384.09 L301.15 383.41 L301.41 382.82 L301.68 382.31 L301.95 381.86 L302.22 381.48 L302.48 381.14 L302.75 380.86 L303.02 380.61 L303.29 380.39 L303.55 380.2 L303.82 380.02 L304.09 379.85 L304.36 379.69 L304.62 379.51 L304.89 379.33 L305.16 379.12 L305.43 378.89 L305.69 378.63 L305.96 378.32 L306.23 377.96 L306.5 377.55 L306.76 377.12 L307.03 376.66 L307.3 376.19 L307.57 375.69 L307.83 375.16 L308.1 374.59 L308.37 374 L308.64 373.38 L308.9 372.71 L309.17 372.01 L309.44 371.24 L309.71 370.34 L309.97 369.31 L310.24 368.17 L310.51 366.95 L310.78 365.66 L311.04 364.32 L311.31 362.94 L311.58 361.56 L311.85 360.18 L312.11 358.83 L312.38 357.52 L312.65 356.27 L312.92 355.11 L313.18 354.04 L313.45 353.1 L313.72 352.28 L313.99 351.52 L314.25 350.81 L314.52 350.14 L314.79 349.5 L315.06 348.9 L315.32 348.31 L315.59 347.75 L315.86 347.19 L316.13 346.64 L316.39 346.1 L316.66 345.54 L316.93 344.98 L317.2 344.39 L317.46 343.79 L317.73 343.15 L318 342.49 L318.27 341.81 L318.54 341.14 L318.8 340.46 L319.07 339.78 L319.34 339.1 L319.61 338.4 L319.87 337.7 L320.14 336.99 L320.41 336.26 L320.68 335.52 L320.94 334.77 L321.21 334 L321.48 333.21 L321.75 332.4 L322.01 331.56 L322.28 330.71 L322.55 329.83 L322.82 328.92 L323.08 327.95 L323.35 326.92 L323.62 325.85 L323.89 324.74 L324.15 323.61 L324.42 322.45 L324.69 321.29 L324.96 320.11 L325.22 318.95 L325.49 317.79 L325.76 316.65 L326.03 315.51 L326.29 314.37 L326.56 313.22 L326.83 312.06 L327.1 310.89 L327.36 309.72 L327.63 308.54 L327.9 307.34 L328.17 306.14 L328.43 304.93 L328.7 303.69 L328.97 302.39 L329.24 301.03 L329.5 299.64 L329.77 298.26 L330.04 296.92 L330.31 295.66 L330.57 294.51 L330.84 293.49 L331.11 292.46 L331.38 291.4 L331.64 290.35 L331.91 289.38 L332.18 288.52 L332.45 287.82 L332.71 287.34 L332.98 287.12 L333.25 287.37 L333.52 288.29 L333.78 289.7 L334.05 291.35 L334.32 293.02 L334.59 294.58 L334.85 296.25 L335.12 298.07 L335.39 299.98 L335.66 301.93 L335.93 303.89 L336.19 305.87 L336.46 307.95 L336.73 310.08 L337 312.22 L337.26 314.3 L337.53 316.3 L337.8 318.15 L338.07 319.87 L338.33 321.49 L338.6 323.07 L338.87 324.63 L339.14 326.23 L339.4 327.91 L339.67 329.7 L339.94 331.63 L340.21 333.67 L340.47 335.77 L340.74 337.9 L341.01 340 L341.28 342.05 L341.54 344.15 L341.81 346.29 L342.08 348.44 L342.35 350.55 L342.61 352.58 L342.88 354.5 L343.15 356.27 L343.42 357.87 L343.68 359.4 L343.95 360.88 L344.22 362.3 L344.49 363.63 L344.75 364.88 L345.02 366.01 L345.29 367.02 L345.56 367.89 L345.82 368.68 L346.09 369.4 L346.36 370.08 L346.63 370.7 L346.89 371.29 L347.16 371.85 L347.43 372.39 L347.7 372.92 L347.96 373.44 L348.23 373.96 L348.5 374.5 L348.77 375.04 L349.03 375.58 L349.3 376.12 L349.57 376.64 L349.84 377.16 L350.1 377.65 L350.37 378.13 L350.64 378.57 L350.91 378.98 L351.17 379.35 L351.44 379.67 L351.71 379.95 L351.98 380.18 L352.24 380.4 L352.51 380.61 L352.78 380.81 L353.05 381.01 L353.32 381.2 L353.58 381.38 L353.85 381.56 L354.12 381.73 L354.39 381.89 L354.65 382.05 L354.92 382.2 L355.19 382.35 L355.46 382.49 L355.72 382.62 L355.99 382.75 L356.26 382.87 L356.53 382.99 L356.79 383.1 L357.06 383.2 L357.33 383.3 L357.6 383.39 L357.86 383.47 L358.13 383.55 L358.4 383.63 L358.67 383.69 L358.93 383.75 L359.2 383.81 L359.47 383.86 L359.74 383.91 L360 383.96 L360.27 384.01 L360.54 384.06 L360.81 384.11 L361.07 384.15 L361.34 384.2 L361.61 384.24 L361.88 384.29 L362.14 384.33 L362.41 384.37 L362.68 384.41 L362.95 384.45 L363.21 384.49 L363.48 384.53 L363.75 384.56 L364.02 384.6 L364.28 384.64 L364.55 384.67 L364.82 384.7 L365.09 384.74 L365.35 384.77 L365.62 384.8 L365.89 384.83 L366.16 384.86 L366.42 384.89 L366.69 384.92 L366.96 384.95 L367.23 384.98 L367.49 385.01 L367.76 385.03 L368.03 385.06 L368.3 385.09 L368.56 385.11 L368.83 385.14 L369.1 385.16 L369.37 385.18 L369.63 385.21 L369.9 385.23 L370.17 385.25 L370.44 385.27 L370.71 385.3 L370.97 385.32 L371.24 385.34 L371.51 385.36 L371.78 385.38 L372.04 385.4 L372.31 385.42 L372.58 385.44 L372.85 385.45 L373.11 385.47 L373.38 385.49 L373.65 385.51 L373.92 385.53 L374.18 385.54 L374.45 385.56 L374.72 385.58 L374.99 385.6 L375.25 385.61 L375.52 385.63 L375.79 385.65 L376.06 385.66 L376.32 385.68 L376.59 385.7 L376.86 385.71 L377.13 385.73 L377.39 385.74 L377.66 385.76 L377.93 385.77 L378.2 385.78 L378.46 385.8 L378.73 385.81 L379 385.82 L379.27 385.83 L379.53 385.84 L379.8 385.85 L380.07 385.87 L380.34 385.88 L380.6 385.88 L380.6 386.3 Z" fill="#008000" stroke="none" stroke-width="1" fill-opacity="0.3"/>
<path d="M299.31 386.3 L299.67 385.51 L300.02 384.4 L300.37 382.56 L300.72 380.05 L301.08 378.48 L301.43 381.14 L301.78 383.58 L302.14 383.02 L302.49 381.9 L302.84 380.42 L303.19 378.77 L303.55 377.15 L303.9 375.76 L304.25 374.45 L304.61 373.12 L304.96 371.81 L305.31 370.57 L305.66 369.43 L306.02 368.19 L306.37 367.63 L306.72 368.15 L307.08 368.66 L307.43 368.23 L307.78 366.97 L308.13 365.16 L308.49 363.05 L308.84 360.91 L309.19 359.01 L309.55 357.36 L309.9 355.66 L310.25 353.96 L310.6 352.31 L310.96 350.75 L311.31 349.35 L311.66 348.15 L312.02 347.12 L312.37 346.2 L312.72 345.3 L313.07 344.34 L313.43 343.26 L313.78 341.98 L314.13 340.51 L314.49 338.88 L314.84 337.13 L315.19 335.3 L315.54 333.42 L315.9 331.49 L316.25 329.27 L316.6 326.91 L316.96 324.64 L317.31 322.7 L317.66 321.3 L318.01 320.32 L318.37 319.47 L318.72 318.46 L319.07 316.97 L319.43 314.38 L319.78 311.29 L320.13 307.31 L320.48 303 L320.84 300.09 L321.19 299.28 L321.54 298.74 L321.9 298.35 L322.25 298.14 L322.6 298.35 L322.95 300.27 L323.31 303.27 L323.66 306.27 L324.01 308.23 L324.37 308.27 L324.72 306.99 L325.07 305.17 L325.42 303.48 L325.78 302.1 L326.13 300.6 L326.48 299.26 L326.84 298.34 L327.19 298.15 L327.54 298.86 L327.89 300.18 L328.25 301.68 L328.6 302.99 L328.95 303.87 L329.31 304.7 L329.66 305.45 L330.01 306.05 L330.36 306.43 L330.72 306.67 L331.07 306.85 L331.42 307 L331.78 307.11 L332.13 307.18 L332.48 307.25 L332.83 307.36 L333.19 307.66 L333.54 309.12 L333.89 311.51 L334.25 314.34 L334.6 317.24 L334.95 320.65 L335.3 324.72 L335.66 329.45 L336.01 336.24 L336.36 341.73 L336.72 344.19 L337.07 346.02 L337.42 347.4 L337.77 348.55 L338.13 349.58 L338.48 350.4 L338.83 351.07 L339.19 351.72 L339.54 352.43 L339.89 353.32 L340.24 354.53 L340.6 356.14 L340.95 358.03 L341.3 360.09 L341.66 362.19 L342.01 364.24 L342.36 366.1 L342.71 367.66 L343.07 368.87 L343.42 369.98 L343.77 371.03 L344.13 372.01 L344.48 372.91 L344.83 373.74 L345.18 374.48 L345.54 375.14 L345.89 375.7 L346.24 376.19 L346.6 376.65 L346.95 377.08 L347.3 377.49 L347.65 377.86 L348.01 378.21 L348.36 378.54 L348.71 378.85 L349.07 379.14 L349.42 379.42 L349.77 379.68 L350.12 379.93 L350.48 380.17 L350.83 380.41 L351.18 380.65 L351.54 380.88 L351.89 381.12 L352.24 381.35 L352.59 381.57 L352.95 381.8 L353.3 382.01 L353.65 382.23 L354.01 382.43 L354.36 382.63 L354.71 382.83 L355.06 383.01 L355.42 383.19 L355.77 383.36 L356.12 383.52 L356.48 383.67 L356.83 383.8 L357.18 383.93 L357.53 384.05 L357.89 384.16 L358.24 384.25 L358.59 384.33 L358.95 384.39 L359.3 384.45 L359.65 384.49 L360 384.54 L360.36 384.58 L360.71 384.63 L361.06 384.67 L361.42 384.71 L361.77 384.75 L362.12 384.79 L362.48 384.83 L362.83 384.87 L363.18 384.9 L363.53 384.94 L363.89 384.97 L364.24 385 L364.59 385.03 L364.95 385.06 L365.3 385.09 L365.65 385.12 L366 385.15 L366.36 385.18 L366.71 385.2 L367.06 385.23 L367.42 385.25 L367.77 385.28 L368.12 385.3 L368.47 385.32 L368.83 385.34 L369.18 385.36 L369.53 385.38 L369.89 385.4 L370.24 385.42 L370.59 385.44 L370.94 385.46 L371.3 385.48 L371.65 385.49 L372 385.51 L372.36 385.52 L372.71 385.54 L373.06 385.55 L373.41 385.57 L373.77 385.58 L374.12 385.6 L374.47 385.61 L374.83 385.62 L375.18 385.64 L375.53 385.65 L375.88 385.66 L376.24 385.68 L376.59 385.69 L376.94 385.7 L377.3 385.71 L377.65 385.73 L378 385.74 L378.35 385.75 L378.71 385.76 L379.06 385.77 L379.41 385.79 L379.77 385.8 L380.12 385.81 L380.47 385.82 L380.82 385.83 L381.18 385.84 L381.53 385.86 L381.88 385.87 L382.24 385.88 L382.59 385.89 L382.94 385.9 L383.29 385.91 L383.65 385.92 L384 385.93 L384.35 385.94 L384.71 385.96 L385.06 385.97 L385.41 385.98 L385.76 385.99 L386.12 386 L386.47 386.01 L386.82 386.02 L387.18 386.03 L387.53 386.04 L387.88 386.05 L388.23 386.06 L388.59 386.06 L388.94 386.07 L389.29 386.08 L389.65 386.09 L390 386.1 L390.35 386.11 L390.7 386.12 L391.06 386.13 L391.41 386.13 L391.76 386.14 L392.12 386.15 L392.47 386.16 L392.82 386.17 L393.17 386.17 L393.53 386.18 L393.88 386.19 L394.23 386.19 L394.59 386.2 L394.94 386.21 L395.29 386.21 L395.64 386.22 L396 386.22 L396.35 386.23 L396.7 386.24 L397.06 386.24 L397.41 386.25 L397.76 386.25 L398.11 386.26 L398.47 386.26 L398.82 386.26 L399.17 386.27 L399.53 386.27 L399.88 386.28 L400.23 386.28 L400.58 386.28 L400.94 386.28 L401.29 386.29 L401.64 386.29 L402 386.29 L402.35 386.29 L402.7 386.3 L403.05 386.3 L403.41 386.3 L403.76 386.3 L404.11 386.3 L404.47 386.3 L404.82 386.3" fill="none" stroke="#e41f2a" stroke-width="0.71" stroke-linejoin="round"/>
<path d="M300.18 382.15 L300.45 381.57 L300.71 381.08 L300.98 380.69 L301.25 380.37 L301.52 380.11 L301.79 379.91 L302.06 379.76 L302.33 379.64 L302.6 379.54 L302.86 379.45 L303.13 379.36 L303.4 379.26 L303.67 379.14 L303.94 378.99 L304.21 378.82 L304.48 378.66 L304.74 378.49 L305.01 378.32 L305.28 378.16 L305.55 377.99 L305.82 377.83 L306.09 377.67 L306.36 377.52 L306.62 377.37 L306.89 377.23 L307.16 377.09 L307.43 376.97 L307.7 376.85 L307.97 376.74 L308.24 376.64 L308.5 376.56 L308.77 376.48 L309.04 376.43 L309.31 376.38 L309.58 376.35 L309.85 376.34 L310.12 376.35 L310.39 376.39 L310.65 376.46 L310.92 376.55 L311.19 376.67 L311.46 376.81 L311.73 376.97 L312 377.15 L312.27 377.34 L312.53 377.54 L312.8 377.75 L313.07 377.97 L313.34 378.2 L313.61 378.43 L313.88 378.66 L314.15 378.89 L314.41 379.11 L314.68 379.33 L314.95 379.53 L315.22 379.73 L315.49 379.92 L315.76 380.08 L316.03 380.25 L316.29 380.43 L316.56 380.61 L316.83 380.8 L317.1 381 L317.37 381.2 L317.64 381.4 L317.91 381.6 L318.18 381.79 L318.44 381.99 L318.71 382.18 L318.98 382.36 L319.25 382.53 L319.52 382.69 L319.79 382.84 L320.06 382.97 L320.32 383.09 L320.59 383.2 L320.86 383.28 L321.13 383.34 L321.4 383.38 L321.67 383.39 L321.94 383.35 L322.2 383.21 L322.47 382.99 L322.74 382.7 L323.01 382.35 L323.28 381.96 L323.55 381.53 L323.82 381.07 L324.09 380.61 L324.35 380.14 L324.62 379.65 L324.89 379.08 L325.16 378.44 L325.43 377.73 L325.7 376.97 L325.97 376.17 L326.23 375.33 L326.5 374.47 L326.77 373.58 L327.04 372.67 L327.31 371.69 L327.58 370.63 L327.85 369.51 L328.11 368.33 L328.38 367.11 L328.65 365.86 L328.92 364.58 L329.19 363.28 L329.46 361.99 L329.73 360.69 L329.99 359.42 L330.26 358.17 L330.53 356.95 L330.8 355.78 L331.07 354.67 L331.34 353.61 L331.61 352.59 L331.88 351.59 L332.14 350.62 L332.41 349.66 L332.68 348.72 L332.95 347.79 L333.22 346.86 L333.49 345.94 L333.76 345.02 L334.02 344.1 L334.29 343.17 L334.56 342.26 L334.83 341.36 L335.1 340.47 L335.37 339.57 L335.64 338.65 L335.9 337.73 L336.17 336.79 L336.44 335.86 L336.71 334.92 L336.98 333.98 L337.25 333.02 L337.52 332.03 L337.78 331.01 L338.05 329.95 L338.32 328.84 L338.59 327.64 L338.86 326.37 L339.13 325.04 L339.4 323.69 L339.67 322.33 L339.93 321 L340.2 319.72 L340.47 318.5 L340.74 317.28 L341.01 316.04 L341.28 314.81 L341.55 313.62 L341.81 312.49 L342.08 311.45 L342.35 310.53 L342.62 309.76 L342.89 309.01 L343.16 308.26 L343.43 307.52 L343.69 306.81 L343.96 306.15 L344.23 305.56 L344.5 305.04 L344.77 304.63 L345.04 304.33 L345.31 304.16 L345.57 304.14 L345.84 304.22 L346.11 304.4 L346.38 304.65 L346.65 304.98 L346.92 305.37 L347.19 305.81 L347.46 306.3 L347.72 306.83 L347.99 307.39 L348.26 307.97 L348.53 308.57 L348.8 309.17 L349.07 309.76 L349.34 310.38 L349.6 311.09 L349.87 311.88 L350.14 312.74 L350.41 313.67 L350.68 314.64 L350.95 315.64 L351.22 316.67 L351.48 317.7 L351.75 318.74 L352.02 319.75 L352.29 320.75 L352.56 321.77 L352.83 322.83 L353.1 323.91 L353.36 325.01 L353.63 326.1 L353.9 327.18 L354.17 328.24 L354.44 329.26 L354.71 330.24 L354.98 331.19 L355.25 332.12 L355.51 333.02 L355.78 333.92 L356.05 334.8 L356.32 335.67 L356.59 336.52 L356.86 337.37 L357.13 338.22 L357.39 339.06 L357.66 339.9 L357.93 340.74 L358.2 341.59 L358.47 342.44 L358.74 343.3 L359.01 344.17 L359.27 345.04 L359.54 345.93 L359.81 346.83 L360.08 347.73 L360.35 348.63 L360.62 349.53 L360.89 350.44 L361.16 351.35 L361.42 352.26 L361.69 353.16 L361.96 354.06 L362.23 354.96 L362.5 355.85 L362.77 356.74 L363.04 357.62 L363.3 358.48 L363.57 359.34 L363.84 360.2 L364.11 361.08 L364.38 361.98 L364.65 362.89 L364.92 363.8 L365.18 364.71 L365.45 365.62 L365.72 366.51 L365.99 367.38 L366.26 368.22 L366.53 369.04 L366.8 369.82 L367.06 370.55 L367.33 371.24 L367.6 371.87 L367.87 372.44 L368.14 372.95 L368.41 373.45 L368.68 373.94 L368.95 374.42 L369.21 374.89 L369.48 375.34 L369.75 375.78 L370.02 376.21 L370.29 376.62 L370.56 377.02 L370.83 377.4 L371.09 377.78 L371.36 378.13 L371.63 378.47 L371.9 378.8 L372.17 379.11 L372.44 379.4 L372.71 379.68 L372.97 379.94 L373.24 380.18 L373.51 380.4 L373.78 380.61 L374.05 380.8 L374.32 380.99 L374.59 381.18 L374.85 381.37 L375.12 381.55 L375.39 381.73 L375.66 381.91 L375.93 382.08 L376.2 382.25 L376.47 382.42 L376.74 382.58 L377 382.73 L377.27 382.87 L377.54 383.01 L377.81 383.14 L378.08 383.25 L378.35 383.36 L378.62 383.46 L378.88 383.55 L379.15 383.63 L379.42 383.69 L379.69 383.74 L379.96 383.78 L380.23 383.8 L380.5 383.81" fill="none" stroke="#0000ff" stroke-width="0.71" stroke-linejoin="round"/>
<path d="M300.61 386.3 L300.88 384.09 L301.15 383.41 L301.41 382.82 L301.68 382.31 L301.95 381.86 L302.22 381.48 L302.48 381.14 L302.75 380.86 L303.02 380.61 L303.29 380.39 L303.55 380.2 L303.82 380.02 L304.09 379.85 L304.36 379.69 L304.62 379.51 L304.89 379.33 L305.16 379.12 L305.43 378.89 L305.69 378.63 L305.96 378.32 L306.23 377.96 L306.5 377.55 L306.76 377.12 L307.03 376.66 L307.3 376.19 L307.57 375.69 L307.83 375.16 L308.1 374.59 L308.37 374 L308.64 373.38 L308.9 372.71 L309.17 372.01 L309.44 371.24 L309.71 370.34 L309.97 369.31 L310.24 368.17 L310.51 366.95 L310.78 365.66 L311.04 364.32 L311.31 362.94 L311.58 361.56 L311.85 360.18 L312.11 358.83 L312.38 357.52 L312.65 356.27 L312.92 355.11 L313.18 354.04 L313.45 353.1 L313.72 352.28 L313.99 351.52 L314.25 350.81 L314.52 350.14 L314.79 349.5 L315.06 348.9 L315.32 348.31 L315.59 347.75 L315.86 347.19 L316.13 346.64 L316.39 346.1 L316.66 345.54 L316.93 344.98 L317.2 344.39 L317.46 343.79 L317.73 343.15 L318 342.49 L318.27 341.81 L318.54 341.14 L318.8 340.46 L319.07 339.78 L319.34 339.1 L319.61 338.4 L319.87 337.7 L320.14 336.99 L320.41 336.26 L320.68 335.52 L320.94 334.77 L321.21 334 L321.48 333.21 L321.75 332.4 L322.01 331.56 L322.28 330.71 L322.55 329.83 L322.82 328.92 L323.08 327.95 L323.35 326.92 L323.62 325.85 L323.89 324.74 L324.15 323.61 L324.42 322.45 L324.69 321.29 L324.96 320.11 L325.22 318.95 L325.49 317.79 L325.76 316.65 L326.03 315.51 L326.29 314.37 L326.56 313.22 L326.83 312.06 L327.1 310.89 L327.36 309.72 L327.63 308.54 L327.9 307.34 L328.17 306.14 L328.43 304.93 L328.7 303.69 L328.97 302.39 L329.24 301.03 L329.5 299.64 L329.77 298.26 L330.04 296.92 L330.31 295.66 L330.57 294.51 L330.84 293.49 L331.11 292.46 L331.38 291.4 L331.64 290.35 L331.91 289.38 L332.18 288.52 L332.45 287.82 L332.71 287.34 L332.98 287.12 L333.25 287.37 L333.52 288.29 L333.78 289.7 L334.05 291.35 L334.32 293.02 L334.59 294.58 L334.85 296.25 L335.12 298.07 L335.39 299.98 L335.66 301.93 L335.93 303.89 L336.19 305.87 L336.46 307.95 L336.73 310.08 L337 312.22 L337.26 314.3 L337.53 316.3 L337.8 318.15 L338.07 319.87 L338.33 321.49 L338.6 323.07 L338.87 324.63 L339.14 326.23 L339.4 327.91 L339.67 329.7 L339.94 331.63 L340.21 333.67 L340.47 335.77 L340.74 337.9 L341.01 340 L341.28 342.05 L341.54 344.15 L341.81 346.29 L342.08 348.44 L342.35 350.55 L342.61 352.58 L342.88 354.5 L343.15 356.27 L343.42 357.87 L343.68 359.4 L343.95 360.88 L344.22 362.3 L344.49 363.63 L344.75 364.88 L345.02 366.01 L345.29 367.02 L345.56 367.89 L345.82 368.68 L346.09 369.4 L346.36 370.08 L346.63 370.7 L346.89 371.29 L347.16 371.85 L347.43 372.39 L347.7 372.92 L347.96 373.44 L348.23 373.96 L348.5 374.5 L348.77 375.04 L349.03 375.58 L349.3 376.12 L349.57 376.64 L349.84 377.16 L350.1 377.65 L350.37 378.13 L350.64 378.57 L350.91 378.98 L351.17 379.35 L351.44 379.67 L351.71 379.95 L351.98 380.18 L352.24 380.4 L352.51 380.61 L352.78 380.81 L353.05 381.01 L353.32 381.2 L353.58 381.38 L353.85 381.56 L354.12 381.73 L354.39 381.89 L354.65 382.05 L354.92 382.2 L355.19 382.35 L355.46 382.49 L355.72 382.62 L355.99 382.75 L356.26 382.87 L356.53 382.99 L356.79 383.1 L357.06 383.2 L357.33 383.3 L357.6 383.39 L357.86 383.47 L358.13 383.55 L358.4 383.63 L358.67 383.69 L358.93 383.75 L359.2 383.81 L359.47 383.86 L359.74 383.91 L360 383.96 L360.27 384.01 L360.54 384.06 L360.81 384.11 L361.07 384.15 L361.34 384.2 L361.61 384.24 L361.88 384.29 L362.14 384.33 L362.41 384.37 L362.68 384.41 L362.95 384.45 L363.21 384.49 L363.48 384.53 L363.75 384.56 L364.02 384.6 L364.28 384.64 L364.55 384.67 L364.82 384.7 L365.09 384.74 L365.35 384.77 L365.62 384.8 L365.89 384.83 L366.16 384.86 L366.42 384.89 L366.69 384.92 L366.96 384.95 L367.23 384.98 L367.49 385.01 L367.76 385.03 L368.03 385.06 L368.3 385.09 L368.56 385.11 L368.83 385.14 L369.1 385.16 L369.37 385.18 L369.63 385.21 L369.9 385.23 L370.17 385.25 L370.44 385.27 L370.71 385.3 L370.97 385.32 L371.24 385.34 L371.51 385.36 L371.78 385.38 L372.04 385.4 L372.31 385.42 L372.58 385.44 L372.85 385.45 L373.11 385.47 L373.38 385.49 L373.65 385.51 L373.92 385.53 L374.18 385.54 L374.45 385.56 L374.72 385.58 L374.99 385.6 L375.25 385.61 L375.52 385.63 L375.79 385.65 L376.06 385.66 L376.32 385.68 L376.59 385.7 L376.86 385.71 L377.13 385.73 L377.39 385.74 L377.66 385.76 L377.93 385.77 L378.2 385.78 L378.46 385.8 L378.73 385.81 L379 385.82 L379.27 385.83 L379.53 385.84 L379.8 385.85 L380.07 385.87 L380.34 385.88 L380.6 385.88" fill="none" stroke="#008000" stroke-width="0.71" stroke-linejoin="round"/>
<line x1="326.55" y1="282.5" x2="326.55" y2="391" stroke="#e41f2a" stroke-width="0.5" stroke-dasharray="1.76,0.76"/>
<line x1="331.63" y1="282.5" x2="331.63" y2="391" stroke="#008000" stroke-width="0.5" stroke-dasharray="1.76,0.76"/>
<line x1="345.58" y1="282.5" x2="345.58" y2="391" stroke="#0000ff" stroke-width="0.5" stroke-dasharray="1.76,0.76"/>
</g>
<rect x="294.3" y="282.5" width="115.6" height="108.5" fill="none" stroke="#000" stroke-width="0.42"/>
<line x1="311.42" y1="391" x2="311.42" y2="392.7" stroke="#000" stroke-width="0.45"/>
<line x1="333.04" y1="391" x2="333.04" y2="392.7" stroke="#000" stroke-width="0.45"/>
<line x1="354.66" y1="391" x2="354.66" y2="392.7" stroke="#000" stroke-width="0.45"/>
<line x1="376.28" y1="391" x2="376.28" y2="392.7" stroke="#000" stroke-width="0.45"/>
<line x1="397.9" y1="391" x2="397.9" y2="392.7" stroke="#000" stroke-width="0.45"/>
<line x1="294.3" y1="386.3" x2="292.6" y2="386.3" stroke="#000" stroke-width="0.45"/>
<line x1="294.3" y1="365.55" x2="292.6" y2="365.55" stroke="#000" stroke-width="0.45"/>
<line x1="294.3" y1="344.8" x2="292.6" y2="344.8" stroke="#000" stroke-width="0.45"/>
<line x1="294.3" y1="324.05" x2="292.6" y2="324.05" stroke="#000" stroke-width="0.45"/>
<line x1="294.3" y1="303.3" x2="292.6" y2="303.3" stroke="#000" stroke-width="0.45"/>
<line x1="294.3" y1="282.55" x2="292.6" y2="282.55" stroke="#000" stroke-width="0.45"/>
<rect x="364.8" y="284.7" width="43" height="17.9" rx="0.8" fill="#fff" fill-opacity="0.8" stroke="#ccc" stroke-width="0.45"/>
<line x1="366.1" y1="287.6" x2="374.6" y2="287.6" stroke="#e41f2a" stroke-width="0.71"/>
<line x1="366.1" y1="293.2" x2="374.6" y2="293.2" stroke="#0000ff" stroke-width="0.71"/>
<line x1="366.1" y1="298.8" x2="374.6" y2="298.8" stroke="#008000" stroke-width="0.71"/>
<clipPath id="c4306_2825"><rect x="430.6" y="282.5" width="115.6" height="108.5"/></clipPath>
<g clip-path="url(#c4306_2825)">
<path d="M436.21 386.6 L436.21 386.6 L436.56 385.42 L436.91 382.66 L437.26 379.25 L437.61 380.5 L437.96 382.31 L438.32 383.57 L438.67 384.65 L439.02 384.9 L439.37 383.67 L439.72 381.55 L440.07 379.39 L440.42 377.91 L440.77 376.68 L441.12 375.52 L441.47 374.47 L441.82 373.59 L442.17 372.9 L442.52 372.44 L442.87 372.14 L443.22 371.89 L443.57 371.62 L443.92 371.22 L444.27 370.62 L444.62 369.81 L444.97 368.85 L445.32 367.76 L445.67 366.59 L446.02 365.37 L446.37 364 L446.72 362.38 L447.08 360.62 L447.43 358.79 L447.78 357 L448.13 355.34 L448.48 353.86 L448.83 352.46 L449.18 351.09 L449.53 349.68 L449.88 348.15 L450.23 346.54 L450.58 345.22 L450.93 344.27 L451.28 343.46 L451.63 342.55 L451.98 341.29 L452.33 338.82 L452.68 333.48 L453.03 328.14 L453.38 325.86 L453.73 325.07 L454.08 324.56 L454.43 323.99 L454.78 322.99 L455.13 320.68 L455.48 317.24 L455.84 313.43 L456.19 310 L456.54 306.62 L456.89 302.96 L457.24 299.89 L457.59 298.32 L457.94 298.82 L458.29 300.52 L458.64 302.22 L458.99 302.64 L459.34 300.35 L459.69 297.43 L460.04 296.83 L460.39 299.24 L460.74 302.6 L461.09 304.72 L461.44 304.47 L461.79 303.31 L462.14 301.7 L462.49 300.03 L462.84 298.7 L463.19 297.63 L463.54 296.54 L463.89 295.66 L464.25 295.21 L464.6 295.59 L464.95 296.98 L465.3 298.75 L465.65 300.29 L466 301.16 L466.35 301.87 L466.7 302.51 L467.05 303.07 L467.4 303.55 L467.75 303.93 L468.1 304.22 L468.45 304.41 L468.8 304.53 L469.15 304.63 L469.5 304.74 L469.85 304.93 L470.2 305.22 L470.55 307.58 L470.9 312.47 L471.25 317.91 L471.6 323.12 L471.95 328.64 L472.3 332.99 L472.65 336.83 L473.01 340 L473.36 342.22 L473.71 343.98 L474.06 345.53 L474.41 346.9 L474.76 348.12 L475.11 349.23 L475.46 350.26 L475.81 351.24 L476.16 352.21 L476.51 353.21 L476.86 354.25 L477.21 355.38 L477.56 356.61 L477.91 357.88 L478.26 359.16 L478.61 360.46 L478.96 361.75 L479.31 363.02 L479.66 364.27 L480.01 365.48 L480.36 366.63 L480.71 367.71 L481.06 368.75 L481.41 369.79 L481.77 370.83 L482.12 371.84 L482.47 372.83 L482.82 373.76 L483.17 374.62 L483.52 375.4 L483.87 376.09 L484.22 376.66 L484.57 377.13 L484.92 377.57 L485.27 377.99 L485.62 378.39 L485.97 378.76 L486.32 379.11 L486.67 379.44 L487.02 379.75 L487.37 380.04 L487.72 380.31 L488.07 380.56 L488.42 380.8 L488.77 381.02 L489.12 381.23 L489.47 381.42 L489.82 381.59 L490.18 381.77 L490.53 381.94 L490.88 382.11 L491.23 382.27 L491.58 382.43 L491.93 382.59 L492.28 382.74 L492.63 382.89 L492.98 383.03 L493.33 383.18 L493.68 383.31 L494.03 383.45 L494.38 383.57 L494.73 383.7 L495.08 383.82 L495.43 383.93 L495.78 384.04 L496.13 384.14 L496.48 384.24 L496.83 384.34 L497.18 384.43 L497.53 384.51 L497.88 384.59 L498.23 384.67 L498.58 384.73 L498.94 384.8 L499.29 384.85 L499.64 384.9 L499.99 384.95 L500.34 384.99 L500.69 385.03 L501.04 385.07 L501.39 385.1 L501.74 385.14 L502.09 385.17 L502.44 385.2 L502.79 385.24 L503.14 385.27 L503.49 385.3 L503.84 385.33 L504.19 385.36 L504.54 385.39 L504.89 385.41 L505.24 385.44 L505.59 385.47 L505.94 385.49 L506.29 385.52 L506.64 385.54 L506.99 385.56 L507.34 385.59 L507.7 385.61 L508.05 385.63 L508.4 385.65 L508.75 385.67 L509.1 385.69 L509.45 385.71 L509.8 385.73 L510.15 385.74 L510.5 385.76 L510.85 385.78 L511.2 385.79 L511.55 385.81 L511.9 385.83 L512.25 385.84 L512.6 385.86 L512.95 385.87 L513.3 385.89 L513.65 385.9 L514 385.91 L514.35 385.93 L514.7 385.94 L515.05 385.95 L515.4 385.97 L515.75 385.98 L516.11 385.99 L516.46 386.01 L516.81 386.02 L517.16 386.03 L517.51 386.04 L517.86 386.06 L518.21 386.07 L518.56 386.08 L518.91 386.1 L519.26 386.11 L519.61 386.12 L519.96 386.13 L520.31 386.15 L520.66 386.16 L521.01 386.17 L521.36 386.18 L521.71 386.2 L522.06 386.21 L522.41 386.22 L522.76 386.23 L523.11 386.24 L523.46 386.26 L523.81 386.27 L524.16 386.28 L524.51 386.29 L524.87 386.3 L525.22 386.31 L525.57 386.32 L525.92 386.33 L526.27 386.35 L526.62 386.36 L526.97 386.37 L527.32 386.38 L527.67 386.39 L528.02 386.4 L528.37 386.41 L528.72 386.42 L529.07 386.43 L529.42 386.43 L529.77 386.44 L530.12 386.45 L530.47 386.46 L530.82 386.47 L531.17 386.48 L531.52 386.49 L531.87 386.49 L532.22 386.5 L532.57 386.51 L532.92 386.52 L533.27 386.52 L533.63 386.53 L533.98 386.53 L534.33 386.54 L534.68 386.55 L535.03 386.55 L535.38 386.56 L535.73 386.56 L536.08 386.57 L536.43 386.57 L536.78 386.58 L537.13 386.58 L537.48 386.58 L537.83 386.59 L538.18 386.59 L538.53 386.59 L538.88 386.59 L539.23 386.6 L539.58 386.6 L539.93 386.6 L540.28 386.6 L540.63 386.6 L540.98 386.6 L540.98 386.6 Z" fill="#da2b3f" stroke="none" stroke-width="1" fill-opacity="0.4"/>
<path d="M446.27 386.6 L446.27 379.44 L446.53 379.02 L446.78 378.66 L447.04 378.37 L447.3 378.14 L447.55 377.96 L447.81 377.83 L448.07 377.73 L448.32 377.67 L448.58 377.63 L448.84 377.61 L449.09 377.6 L449.35 377.6 L449.6 377.62 L449.86 377.67 L450.12 377.75 L450.37 377.85 L450.63 377.97 L450.89 378.11 L451.14 378.26 L451.4 378.43 L451.66 378.6 L451.91 378.78 L452.17 378.97 L452.42 379.15 L452.68 379.34 L452.94 379.52 L453.19 379.69 L453.45 379.85 L453.71 379.99 L453.96 380.13 L454.22 380.27 L454.48 380.41 L454.73 380.57 L454.99 380.72 L455.24 380.88 L455.5 381.05 L455.76 381.21 L456.01 381.37 L456.27 381.54 L456.53 381.69 L456.78 381.85 L457.04 382 L457.29 382.14 L457.55 382.27 L457.81 382.4 L458.06 382.51 L458.32 382.62 L458.58 382.71 L458.83 382.78 L459.09 382.84 L459.35 382.89 L459.6 382.91 L459.86 382.92 L460.11 382.89 L460.37 382.82 L460.63 382.71 L460.88 382.56 L461.14 382.39 L461.4 382.18 L461.65 381.94 L461.91 381.67 L462.17 381.38 L462.42 381.06 L462.68 380.73 L462.93 380.37 L463.19 380 L463.45 379.62 L463.7 379.23 L463.96 378.82 L464.22 378.41 L464.47 377.94 L464.73 377.36 L464.99 376.69 L465.24 375.93 L465.5 375.1 L465.75 374.21 L466.01 373.26 L466.27 372.26 L466.52 371.24 L466.78 370.19 L467.04 369.13 L467.29 368.07 L467.55 367.01 L467.81 365.98 L468.06 364.93 L468.32 363.86 L468.57 362.76 L468.83 361.62 L469.09 360.44 L469.34 359.21 L469.6 357.93 L469.86 356.6 L470.11 355.2 L470.37 353.73 L470.62 352.1 L470.88 350.3 L471.14 348.4 L471.39 346.43 L471.65 344.45 L471.91 342.51 L472.16 340.65 L472.42 338.84 L472.68 337.03 L472.93 335.24 L473.19 333.46 L473.44 331.71 L473.7 329.97 L473.96 328.23 L474.21 326.49 L474.47 324.78 L474.73 323.08 L474.98 321.43 L475.24 319.82 L475.5 318.27 L475.75 316.76 L476.01 315.27 L476.26 313.81 L476.52 312.39 L476.78 310.99 L477.03 309.63 L477.29 308.29 L477.55 306.99 L477.8 305.64 L478.06 304.23 L478.32 302.79 L478.57 301.39 L478.83 300.07 L479.08 298.87 L479.34 297.85 L479.6 297.05 L479.85 296.51 L480.11 296.08 L480.37 295.66 L480.62 295.28 L480.88 294.92 L481.14 294.61 L481.39 294.33 L481.65 294.11 L481.9 293.93 L482.16 293.82 L482.42 293.76 L482.67 293.79 L482.93 293.93 L483.19 294.18 L483.44 294.52 L483.7 294.95 L483.96 295.45 L484.21 296.01 L484.47 296.61 L484.72 297.25 L484.98 297.91 L485.24 298.58 L485.49 299.25 L485.75 299.91 L486.01 300.64 L486.26 301.46 L486.52 302.35 L486.77 303.3 L487.03 304.31 L487.29 305.36 L487.54 306.45 L487.8 307.56 L488.06 308.68 L488.31 309.81 L488.57 310.93 L488.83 312.05 L489.08 313.2 L489.34 314.4 L489.59 315.64 L489.85 316.89 L490.11 318.15 L490.36 319.41 L490.62 320.65 L490.88 321.87 L491.13 323.07 L491.39 324.28 L491.65 325.49 L491.9 326.7 L492.16 327.89 L492.41 329.07 L492.67 330.24 L492.93 331.38 L493.18 332.5 L493.44 333.59 L493.7 334.65 L493.95 335.7 L494.21 336.73 L494.47 337.76 L494.72 338.79 L494.98 339.83 L495.23 340.89 L495.49 341.97 L495.75 343.05 L496 344.13 L496.26 345.22 L496.52 346.32 L496.77 347.42 L497.03 348.52 L497.29 349.63 L497.54 350.74 L497.8 351.85 L498.05 352.97 L498.31 354.1 L498.57 355.26 L498.82 356.5 L499.08 357.78 L499.34 359.09 L499.59 360.42 L499.85 361.74 L500.1 363.04 L500.36 364.3 L500.62 365.51 L500.87 366.63 L501.13 367.67 L501.39 368.6 L501.64 369.39 L501.9 370.06 L502.16 370.67 L502.41 371.26 L502.67 371.83 L502.92 372.37 L503.18 372.9 L503.44 373.41 L503.69 373.89 L503.95 374.36 L504.21 374.8 L504.46 375.22 L504.72 375.62 L504.98 376.01 L505.23 376.37 L505.49 376.71 L505.74 377.03 L506 377.33 L506.26 377.62 L506.51 377.88 L506.77 378.12 L507.03 378.35 L507.28 378.56 L507.54 378.76 L507.8 378.96 L508.05 379.15 L508.31 379.35 L508.56 379.53 L508.82 379.71 L509.08 379.89 L509.33 380.06 L509.59 380.22 L509.85 380.38 L510.1 380.54 L510.36 380.69 L510.62 380.83 L510.87 380.97 L511.13 381.1 L511.38 381.22 L511.64 381.34 L511.9 381.45 L512.15 381.55 L512.41 381.65 L512.67 381.74 L512.92 381.82 L513.18 381.9 L513.43 381.96 L513.69 382.02 L513.95 382.07 L514.2 382.12 L514.46 382.16 L514.72 382.2 L514.97 382.24 L515.23 382.28 L515.49 382.31 L515.74 382.35 L516 382.39 L516.25 382.42 L516.51 382.46 L516.77 382.49 L517.02 382.52 L517.28 382.55 L517.54 382.58 L517.79 382.61 L518.05 382.64 L518.31 382.67 L518.56 382.69 L518.82 382.72 L519.07 382.74 L519.33 382.76 L519.59 382.78 L519.84 382.8 L520.1 382.82 L520.36 382.84 L520.61 382.85 L520.87 382.87 L521.13 382.88 L521.38 382.89 L521.64 382.9 L521.89 382.91 L522.15 382.91 L522.41 382.92 L522.66 382.92 L522.92 382.92 L522.92 386.6 Z" fill="#0000ff" stroke="none" stroke-width="1" fill-opacity="0.3"/>
<path d="M446.27 386.6 L446.27 377.19 L446.53 373.27 L446.78 370.65 L447.04 369.01 L447.29 368.02 L447.55 367.39 L447.81 366.8 L448.06 365.92 L448.32 364.57 L448.57 363.13 L448.83 361.69 L449.08 360.26 L449.34 358.86 L449.59 357.49 L449.85 356.16 L450.11 354.89 L450.36 353.68 L450.62 352.55 L450.87 351.51 L451.13 350.56 L451.38 349.71 L451.64 348.94 L451.9 348.23 L452.15 347.55 L452.41 346.9 L452.66 346.26 L452.92 345.61 L453.17 344.92 L453.43 344.23 L453.68 343.61 L453.94 343.02 L454.2 342.43 L454.45 341.77 L454.71 341.01 L454.96 340.09 L455.22 338.96 L455.47 337.03 L455.73 334.28 L455.98 331.17 L456.24 328.14 L456.5 325.57 L456.75 323.05 L457.01 320.54 L457.26 318.28 L457.52 316.53 L457.77 315.44 L458.03 314.56 L458.28 313.79 L458.54 313.1 L458.8 312.5 L459.05 311.97 L459.31 311.53 L459.56 311.15 L459.82 310.84 L460.07 310.58 L460.33 310.37 L460.59 310.19 L460.84 310.03 L461.1 309.89 L461.35 309.77 L461.61 309.66 L461.86 309.55 L462.12 309.44 L462.37 309.33 L462.63 309.2 L462.89 309.06 L463.14 308.9 L463.4 308.7 L463.65 308.48 L463.91 308.2 L464.16 307.88 L464.42 307.5 L464.67 307.07 L464.93 306.59 L465.19 306.06 L465.44 305.49 L465.7 304.87 L465.95 304.21 L466.21 303.51 L466.46 302.77 L466.72 301.82 L466.97 300.52 L467.23 298.99 L467.49 297.34 L467.74 295.66 L468 294.06 L468.25 292.65 L468.51 291.54 L468.76 290.82 L469.02 290.28 L469.28 289.76 L469.53 289.29 L469.79 288.86 L470.04 288.49 L470.3 288.19 L470.55 287.98 L470.81 287.85 L471.06 287.84 L471.32 287.98 L471.58 288.29 L471.83 288.77 L472.09 289.39 L472.34 290.15 L472.6 291.03 L472.85 292.03 L473.11 293.14 L473.36 294.53 L473.62 297.22 L473.88 300.65 L474.13 304 L474.39 307.09 L474.64 310.29 L474.9 313.47 L475.15 316.46 L475.41 319.11 L475.67 321.41 L475.92 323.49 L476.18 325.45 L476.43 327.37 L476.69 329.37 L476.94 331.52 L477.2 333.84 L477.45 336.22 L477.71 338.58 L477.97 340.83 L478.22 342.96 L478.48 345.06 L478.73 347.13 L478.99 349.14 L479.24 351.09 L479.5 352.96 L479.75 354.73 L480.01 356.4 L480.27 358.08 L480.52 359.75 L480.78 361.4 L481.03 363.01 L481.29 364.55 L481.54 366.01 L481.8 367.35 L482.05 368.57 L482.31 369.62 L482.57 370.5 L482.82 371.25 L483.08 371.96 L483.33 372.65 L483.59 373.32 L483.84 373.96 L484.1 374.57 L484.36 375.16 L484.61 375.72 L484.87 376.26 L485.12 376.76 L485.38 377.24 L485.63 377.69 L485.89 378.11 L486.14 378.5 L486.4 378.85 L486.66 379.18 L486.91 379.48 L487.17 379.74 L487.42 379.97 L487.68 380.17 L487.93 380.34 L488.19 380.5 L488.44 380.66 L488.7 380.81 L488.96 380.96 L489.21 381.11 L489.47 381.25 L489.72 381.39 L489.98 381.53 L490.23 381.66 L490.49 381.79 L490.74 381.91 L491 382.03 L491.26 382.15 L491.51 382.26 L491.77 382.38 L492.02 382.48 L492.28 382.59 L492.53 382.69 L492.79 382.79 L493.05 382.89 L493.3 382.98 L493.56 383.07 L493.81 383.16 L494.07 383.24 L494.32 383.32 L494.58 383.4 L494.83 383.48 L495.09 383.55 L495.35 383.62 L495.6 383.69 L495.86 383.76 L496.11 383.82 L496.37 383.88 L496.62 383.94 L496.88 384 L497.13 384.06 L497.39 384.11 L497.65 384.16 L497.9 384.21 L498.16 384.26 L498.41 384.3 L498.67 384.34 L498.92 384.39 L499.18 384.42 L499.44 384.46 L499.69 384.5 L499.95 384.53 L500.2 384.57 L500.46 384.6 L500.71 384.63 L500.97 384.66 L501.22 384.7 L501.48 384.73 L501.74 384.76 L501.99 384.79 L502.25 384.82 L502.5 384.85 L502.76 384.88 L503.01 384.91 L503.27 384.94 L503.52 384.97 L503.78 385 L504.04 385.03 L504.29 385.06 L504.55 385.09 L504.8 385.11 L505.06 385.14 L505.31 385.17 L505.57 385.2 L505.82 385.22 L506.08 385.25 L506.34 385.28 L506.59 385.3 L506.85 385.33 L507.1 385.36 L507.36 385.38 L507.61 385.41 L507.87 385.43 L508.13 385.45 L508.38 385.48 L508.64 385.5 L508.89 385.53 L509.15 385.55 L509.4 385.57 L509.66 385.59 L509.91 385.61 L510.17 385.64 L510.43 385.66 L510.68 385.68 L510.94 385.7 L511.19 385.72 L511.45 385.74 L511.7 385.76 L511.96 385.78 L512.21 385.8 L512.47 385.81 L512.73 385.83 L512.98 385.85 L513.24 385.87 L513.49 385.88 L513.75 385.9 L514 385.91 L514.26 385.93 L514.52 385.94 L514.77 385.96 L515.03 385.97 L515.28 385.99 L515.54 386 L515.79 386.01 L516.05 386.03 L516.3 386.04 L516.56 386.05 L516.82 386.06 L517.07 386.07 L517.33 386.08 L517.58 386.09 L517.84 386.1 L518.09 386.11 L518.35 386.12 L518.6 386.13 L518.86 386.13 L519.12 386.14 L519.37 386.15 L519.63 386.15 L519.88 386.16 L520.14 386.17 L520.39 386.17 L520.65 386.17 L520.9 386.18 L521.16 386.18 L521.42 386.18 L521.67 386.19 L521.93 386.19 L522.18 386.19 L522.44 386.19 L522.69 386.19 L522.69 386.6 Z" fill="#008000" stroke="none" stroke-width="1" fill-opacity="0.3"/>
<path d="M436.21 386.6 L436.56 385.42 L436.91 382.66 L437.26 379.25 L437.61 380.5 L437.96 382.31 L438.32 383.57 L438.67 384.65 L439.02 384.9 L439.37 383.67 L439.72 381.55 L440.07 379.39 L440.42 377.91 L440.77 376.68 L441.12 375.52 L441.47 374.47 L441.82 373.59 L442.17 372.9 L442.52 372.44 L442.87 372.14 L443.22 371.89 L443.57 371.62 L443.92 371.22 L444.27 370.62 L444.62 369.81 L444.97 368.85 L445.32 367.76 L445.67 366.59 L446.02 365.37 L446.37 364 L446.72 362.38 L447.08 360.62 L447.43 358.79 L447.78 357 L448.13 355.34 L448.48 353.86 L448.83 352.46 L449.18 351.09 L449.53 349.68 L449.88 348.15 L450.23 346.54 L450.58 345.22 L450.93 344.27 L451.28 343.46 L451.63 342.55 L451.98 341.29 L452.33 338.82 L452.68 333.48 L453.03 328.14 L453.38 325.86 L453.73 325.07 L454.08 324.56 L454.43 323.99 L454.78 322.99 L455.13 320.68 L455.48 317.24 L455.84 313.43 L456.19 310 L456.54 306.62 L456.89 302.96 L457.24 299.89 L457.59 298.32 L457.94 298.82 L458.29 300.52 L458.64 302.22 L458.99 302.64 L459.34 300.35 L459.69 297.43 L460.04 296.83 L460.39 299.24 L460.74 302.6 L461.09 304.72 L461.44 304.47 L461.79 303.31 L462.14 301.7 L462.49 300.03 L462.84 298.7 L463.19 297.63 L463.54 296.54 L463.89 295.66 L464.25 295.21 L464.6 295.59 L464.95 296.98 L465.3 298.75 L465.65 300.29 L466 301.16 L466.35 301.87 L466.7 302.51 L467.05 303.07 L467.4 303.55 L467.75 303.93 L468.1 304.22 L468.45 304.41 L468.8 304.53 L469.15 304.63 L469.5 304.74 L469.85 304.93 L470.2 305.22 L470.55 307.58 L470.9 312.47 L471.25 317.91 L471.6 323.12 L471.95 328.64 L472.3 332.99 L472.65 336.83 L473.01 340 L473.36 342.22 L473.71 343.98 L474.06 345.53 L474.41 346.9 L474.76 348.12 L475.11 349.23 L475.46 350.26 L475.81 351.24 L476.16 352.21 L476.51 353.21 L476.86 354.25 L477.21 355.38 L477.56 356.61 L477.91 357.88 L478.26 359.16 L478.61 360.46 L478.96 361.75 L479.31 363.02 L479.66 364.27 L480.01 365.48 L480.36 366.63 L480.71 367.71 L481.06 368.75 L481.41 369.79 L481.77 370.83 L482.12 371.84 L482.47 372.83 L482.82 373.76 L483.17 374.62 L483.52 375.4 L483.87 376.09 L484.22 376.66 L484.57 377.13 L484.92 377.57 L485.27 377.99 L485.62 378.39 L485.97 378.76 L486.32 379.11 L486.67 379.44 L487.02 379.75 L487.37 380.04 L487.72 380.31 L488.07 380.56 L488.42 380.8 L488.77 381.02 L489.12 381.23 L489.47 381.42 L489.82 381.59 L490.18 381.77 L490.53 381.94 L490.88 382.11 L491.23 382.27 L491.58 382.43 L491.93 382.59 L492.28 382.74 L492.63 382.89 L492.98 383.03 L493.33 383.18 L493.68 383.31 L494.03 383.45 L494.38 383.57 L494.73 383.7 L495.08 383.82 L495.43 383.93 L495.78 384.04 L496.13 384.14 L496.48 384.24 L496.83 384.34 L497.18 384.43 L497.53 384.51 L497.88 384.59 L498.23 384.67 L498.58 384.73 L498.94 384.8 L499.29 384.85 L499.64 384.9 L499.99 384.95 L500.34 384.99 L500.69 385.03 L501.04 385.07 L501.39 385.1 L501.74 385.14 L502.09 385.17 L502.44 385.2 L502.79 385.24 L503.14 385.27 L503.49 385.3 L503.84 385.33 L504.19 385.36 L504.54 385.39 L504.89 385.41 L505.24 385.44 L505.59 385.47 L505.94 385.49 L506.29 385.52 L506.64 385.54 L506.99 385.56 L507.34 385.59 L507.7 385.61 L508.05 385.63 L508.4 385.65 L508.75 385.67 L509.1 385.69 L509.45 385.71 L509.8 385.73 L510.15 385.74 L510.5 385.76 L510.85 385.78 L511.2 385.79 L511.55 385.81 L511.9 385.83 L512.25 385.84 L512.6 385.86 L512.95 385.87 L513.3 385.89 L513.65 385.9 L514 385.91 L514.35 385.93 L514.7 385.94 L515.05 385.95 L515.4 385.97 L515.75 385.98 L516.11 385.99 L516.46 386.01 L516.81 386.02 L517.16 386.03 L517.51 386.04 L517.86 386.06 L518.21 386.07 L518.56 386.08 L518.91 386.1 L519.26 386.11 L519.61 386.12 L519.96 386.13 L520.31 386.15 L520.66 386.16 L521.01 386.17 L521.36 386.18 L521.71 386.2 L522.06 386.21 L522.41 386.22 L522.76 386.23 L523.11 386.24 L523.46 386.26 L523.81 386.27 L524.16 386.28 L524.51 386.29 L524.87 386.3 L525.22 386.31 L525.57 386.32 L525.92 386.33 L526.27 386.35 L526.62 386.36 L526.97 386.37 L527.32 386.38 L527.67 386.39 L528.02 386.4 L528.37 386.41 L528.72 386.42 L529.07 386.43 L529.42 386.43 L529.77 386.44 L530.12 386.45 L530.47 386.46 L530.82 386.47 L531.17 386.48 L531.52 386.49 L531.87 386.49 L532.22 386.5 L532.57 386.51 L532.92 386.52 L533.27 386.52 L533.63 386.53 L533.98 386.53 L534.33 386.54 L534.68 386.55 L535.03 386.55 L535.38 386.56 L535.73 386.56 L536.08 386.57 L536.43 386.57 L536.78 386.58 L537.13 386.58 L537.48 386.58 L537.83 386.59 L538.18 386.59 L538.53 386.59 L538.88 386.59 L539.23 386.6 L539.58 386.6 L539.93 386.6 L540.28 386.6 L540.63 386.6 L540.98 386.6" fill="none" stroke="#e41f2a" stroke-width="0.71" stroke-linejoin="round"/>
<path d="M446.27 379.44 L446.53 379.02 L446.78 378.66 L447.04 378.37 L447.3 378.14 L447.55 377.96 L447.81 377.83 L448.07 377.73 L448.32 377.67 L448.58 377.63 L448.84 377.61 L449.09 377.6 L449.35 377.6 L449.6 377.62 L449.86 377.67 L450.12 377.75 L450.37 377.85 L450.63 377.97 L450.89 378.11 L451.14 378.26 L451.4 378.43 L451.66 378.6 L451.91 378.78 L452.17 378.97 L452.42 379.15 L452.68 379.34 L452.94 379.52 L453.19 379.69 L453.45 379.85 L453.71 379.99 L453.96 380.13 L454.22 380.27 L454.48 380.41 L454.73 380.57 L454.99 380.72 L455.24 380.88 L455.5 381.05 L455.76 381.21 L456.01 381.37 L456.27 381.54 L456.53 381.69 L456.78 381.85 L457.04 382 L457.29 382.14 L457.55 382.27 L457.81 382.4 L458.06 382.51 L458.32 382.62 L458.58 382.71 L458.83 382.78 L459.09 382.84 L459.35 382.89 L459.6 382.91 L459.86 382.92 L460.11 382.89 L460.37 382.82 L460.63 382.71 L460.88 382.56 L461.14 382.39 L461.4 382.18 L461.65 381.94 L461.91 381.67 L462.17 381.38 L462.42 381.06 L462.68 380.73 L462.93 380.37 L463.19 380 L463.45 379.62 L463.7 379.23 L463.96 378.82 L464.22 378.41 L464.47 377.94 L464.73 377.36 L464.99 376.69 L465.24 375.93 L465.5 375.1 L465.75 374.21 L466.01 373.26 L466.27 372.26 L466.52 371.24 L466.78 370.19 L467.04 369.13 L467.29 368.07 L467.55 367.01 L467.81 365.98 L468.06 364.93 L468.32 363.86 L468.57 362.76 L468.83 361.62 L469.09 360.44 L469.34 359.21 L469.6 357.93 L469.86 356.6 L470.11 355.2 L470.37 353.73 L470.62 352.1 L470.88 350.3 L471.14 348.4 L471.39 346.43 L471.65 344.45 L471.91 342.51 L472.16 340.65 L472.42 338.84 L472.68 337.03 L472.93 335.24 L473.19 333.46 L473.44 331.71 L473.7 329.97 L473.96 328.23 L474.21 326.49 L474.47 324.78 L474.73 323.08 L474.98 321.43 L475.24 319.82 L475.5 318.27 L475.75 316.76 L476.01 315.27 L476.26 313.81 L476.52 312.39 L476.78 310.99 L477.03 309.63 L477.29 308.29 L477.55 306.99 L477.8 305.64 L478.06 304.23 L478.32 302.79 L478.57 301.39 L478.83 300.07 L479.08 298.87 L479.34 297.85 L479.6 297.05 L479.85 296.51 L480.11 296.08 L480.37 295.66 L480.62 295.28 L480.88 294.92 L481.14 294.61 L481.39 294.33 L481.65 294.11 L481.9 293.93 L482.16 293.82 L482.42 293.76 L482.67 293.79 L482.93 293.93 L483.19 294.18 L483.44 294.52 L483.7 294.95 L483.96 295.45 L484.21 296.01 L484.47 296.61 L484.72 297.25 L484.98 297.91 L485.24 298.58 L485.49 299.25 L485.75 299.91 L486.01 300.64 L486.26 301.46 L486.52 302.35 L486.77 303.3 L487.03 304.31 L487.29 305.36 L487.54 306.45 L487.8 307.56 L488.06 308.68 L488.31 309.81 L488.57 310.93 L488.83 312.05 L489.08 313.2 L489.34 314.4 L489.59 315.64 L489.85 316.89 L490.11 318.15 L490.36 319.41 L490.62 320.65 L490.88 321.87 L491.13 323.07 L491.39 324.28 L491.65 325.49 L491.9 326.7 L492.16 327.89 L492.41 329.07 L492.67 330.24 L492.93 331.38 L493.18 332.5 L493.44 333.59 L493.7 334.65 L493.95 335.7 L494.21 336.73 L494.47 337.76 L494.72 338.79 L494.98 339.83 L495.23 340.89 L495.49 341.97 L495.75 343.05 L496 344.13 L496.26 345.22 L496.52 346.32 L496.77 347.42 L497.03 348.52 L497.29 349.63 L497.54 350.74 L497.8 351.85 L498.05 352.97 L498.31 354.1 L498.57 355.26 L498.82 356.5 L499.08 357.78 L499.34 359.09 L499.59 360.42 L499.85 361.74 L500.1 363.04 L500.36 364.3 L500.62 365.51 L500.87 366.63 L501.13 367.67 L501.39 368.6 L501.64 369.39 L501.9 370.06 L502.16 370.67 L502.41 371.26 L502.67 371.83 L502.92 372.37 L503.18 372.9 L503.44 373.41 L503.69 373.89 L503.95 374.36 L504.21 374.8 L504.46 375.22 L504.72 375.62 L504.98 376.01 L505.23 376.37 L505.49 376.71 L505.74 377.03 L506 377.33 L506.26 377.62 L506.51 377.88 L506.77 378.12 L507.03 378.35 L507.28 378.56 L507.54 378.76 L507.8 378.96 L508.05 379.15 L508.31 379.35 L508.56 379.53 L508.82 379.71 L509.08 379.89 L509.33 380.06 L509.59 380.22 L509.85 380.38 L510.1 380.54 L510.36 380.69 L510.62 380.83 L510.87 380.97 L511.13 381.1 L511.38 381.22 L511.64 381.34 L511.9 381.45 L512.15 381.55 L512.41 381.65 L512.67 381.74 L512.92 381.82 L513.18 381.9 L513.43 381.96 L513.69 382.02 L513.95 382.07 L514.2 382.12 L514.46 382.16 L514.72 382.2 L514.97 382.24 L515.23 382.28 L515.49 382.31 L515.74 382.35 L516 382.39 L516.25 382.42 L516.51 382.46 L516.77 382.49 L517.02 382.52 L517.28 382.55 L517.54 382.58 L517.79 382.61 L518.05 382.64 L518.31 382.67 L518.56 382.69 L518.82 382.72 L519.07 382.74 L519.33 382.76 L519.59 382.78 L519.84 382.8 L520.1 382.82 L520.36 382.84 L520.61 382.85 L520.87 382.87 L521.13 382.88 L521.38 382.89 L521.64 382.9 L521.89 382.91 L522.15 382.91 L522.41 382.92 L522.66 382.92 L522.92 382.92" fill="none" stroke="#0000ff" stroke-width="0.71" stroke-linejoin="round"/>
<path d="M446.27 377.19 L446.53 373.27 L446.78 370.65 L447.04 369.01 L447.29 368.02 L447.55 367.39 L447.81 366.8 L448.06 365.92 L448.32 364.57 L448.57 363.13 L448.83 361.69 L449.08 360.26 L449.34 358.86 L449.59 357.49 L449.85 356.16 L450.11 354.89 L450.36 353.68 L450.62 352.55 L450.87 351.51 L451.13 350.56 L451.38 349.71 L451.64 348.94 L451.9 348.23 L452.15 347.55 L452.41 346.9 L452.66 346.26 L452.92 345.61 L453.17 344.92 L453.43 344.23 L453.68 343.61 L453.94 343.02 L454.2 342.43 L454.45 341.77 L454.71 341.01 L454.96 340.09 L455.22 338.96 L455.47 337.03 L455.73 334.28 L455.98 331.17 L456.24 328.14 L456.5 325.57 L456.75 323.05 L457.01 320.54 L457.26 318.28 L457.52 316.53 L457.77 315.44 L458.03 314.56 L458.28 313.79 L458.54 313.1 L458.8 312.5 L459.05 311.97 L459.31 311.53 L459.56 311.15 L459.82 310.84 L460.07 310.58 L460.33 310.37 L460.59 310.19 L460.84 310.03 L461.1 309.89 L461.35 309.77 L461.61 309.66 L461.86 309.55 L462.12 309.44 L462.37 309.33 L462.63 309.2 L462.89 309.06 L463.14 308.9 L463.4 308.7 L463.65 308.48 L463.91 308.2 L464.16 307.88 L464.42 307.5 L464.67 307.07 L464.93 306.59 L465.19 306.06 L465.44 305.49 L465.7 304.87 L465.95 304.21 L466.21 303.51 L466.46 302.77 L466.72 301.82 L466.97 300.52 L467.23 298.99 L467.49 297.34 L467.74 295.66 L468 294.06 L468.25 292.65 L468.51 291.54 L468.76 290.82 L469.02 290.28 L469.28 289.76 L469.53 289.29 L469.79 288.86 L470.04 288.49 L470.3 288.19 L470.55 287.98 L470.81 287.85 L471.06 287.84 L471.32 287.98 L471.58 288.29 L471.83 288.77 L472.09 289.39 L472.34 290.15 L472.6 291.03 L472.85 292.03 L473.11 293.14 L473.36 294.53 L473.62 297.22 L473.88 300.65 L474.13 304 L474.39 307.09 L474.64 310.29 L474.9 313.47 L475.15 316.46 L475.41 319.11 L475.67 321.41 L475.92 323.49 L476.18 325.45 L476.43 327.37 L476.69 329.37 L476.94 331.52 L477.2 333.84 L477.45 336.22 L477.71 338.58 L477.97 340.83 L478.22 342.96 L478.48 345.06 L478.73 347.13 L478.99 349.14 L479.24 351.09 L479.5 352.96 L479.75 354.73 L480.01 356.4 L480.27 358.08 L480.52 359.75 L480.78 361.4 L481.03 363.01 L481.29 364.55 L481.54 366.01 L481.8 367.35 L482.05 368.57 L482.31 369.62 L482.57 370.5 L482.82 371.25 L483.08 371.96 L483.33 372.65 L483.59 373.32 L483.84 373.96 L484.1 374.57 L484.36 375.16 L484.61 375.72 L484.87 376.26 L485.12 376.76 L485.38 377.24 L485.63 377.69 L485.89 378.11 L486.14 378.5 L486.4 378.85 L486.66 379.18 L486.91 379.48 L487.17 379.74 L487.42 379.97 L487.68 380.17 L487.93 380.34 L488.19 380.5 L488.44 380.66 L488.7 380.81 L488.96 380.96 L489.21 381.11 L489.47 381.25 L489.72 381.39 L489.98 381.53 L490.23 381.66 L490.49 381.79 L490.74 381.91 L491 382.03 L491.26 382.15 L491.51 382.26 L491.77 382.38 L492.02 382.48 L492.28 382.59 L492.53 382.69 L492.79 382.79 L493.05 382.89 L493.3 382.98 L493.56 383.07 L493.81 383.16 L494.07 383.24 L494.32 383.32 L494.58 383.4 L494.83 383.48 L495.09 383.55 L495.35 383.62 L495.6 383.69 L495.86 383.76 L496.11 383.82 L496.37 383.88 L496.62 383.94 L496.88 384 L497.13 384.06 L497.39 384.11 L497.65 384.16 L497.9 384.21 L498.16 384.26 L498.41 384.3 L498.67 384.34 L498.92 384.39 L499.18 384.42 L499.44 384.46 L499.69 384.5 L499.95 384.53 L500.2 384.57 L500.46 384.6 L500.71 384.63 L500.97 384.66 L501.22 384.7 L501.48 384.73 L501.74 384.76 L501.99 384.79 L502.25 384.82 L502.5 384.85 L502.76 384.88 L503.01 384.91 L503.27 384.94 L503.52 384.97 L503.78 385 L504.04 385.03 L504.29 385.06 L504.55 385.09 L504.8 385.11 L505.06 385.14 L505.31 385.17 L505.57 385.2 L505.82 385.22 L506.08 385.25 L506.34 385.28 L506.59 385.3 L506.85 385.33 L507.1 385.36 L507.36 385.38 L507.61 385.41 L507.87 385.43 L508.13 385.45 L508.38 385.48 L508.64 385.5 L508.89 385.53 L509.15 385.55 L509.4 385.57 L509.66 385.59 L509.91 385.61 L510.17 385.64 L510.43 385.66 L510.68 385.68 L510.94 385.7 L511.19 385.72 L511.45 385.74 L511.7 385.76 L511.96 385.78 L512.21 385.8 L512.47 385.81 L512.73 385.83 L512.98 385.85 L513.24 385.87 L513.49 385.88 L513.75 385.9 L514 385.91 L514.26 385.93 L514.52 385.94 L514.77 385.96 L515.03 385.97 L515.28 385.99 L515.54 386 L515.79 386.01 L516.05 386.03 L516.3 386.04 L516.56 386.05 L516.82 386.06 L517.07 386.07 L517.33 386.08 L517.58 386.09 L517.84 386.1 L518.09 386.11 L518.35 386.12 L518.6 386.13 L518.86 386.13 L519.12 386.14 L519.37 386.15 L519.63 386.15 L519.88 386.16 L520.14 386.17 L520.39 386.17 L520.65 386.17 L520.9 386.18 L521.16 386.18 L521.42 386.18 L521.67 386.19 L521.93 386.19 L522.18 386.19 L522.44 386.19 L522.69 386.19" fill="none" stroke="#008000" stroke-width="0.71" stroke-linejoin="round"/>
<line x1="463.42" y1="282.5" x2="463.42" y2="391" stroke="#e41f2a" stroke-width="0.5" stroke-dasharray="1.76,0.76"/>
<line x1="467.37" y1="282.5" x2="467.37" y2="391" stroke="#008000" stroke-width="0.5" stroke-dasharray="1.76,0.76"/>
<line x1="482.84" y1="282.5" x2="482.84" y2="391" stroke="#0000ff" stroke-width="0.5" stroke-dasharray="1.76,0.76"/>
</g>
<rect x="430.6" y="282.5" width="115.6" height="108.5" fill="none" stroke="#000" stroke-width="0.42"/>
<line x1="448.18" y1="391" x2="448.18" y2="392.7" stroke="#000" stroke-width="0.45"/>
<line x1="470.76" y1="391" x2="470.76" y2="392.7" stroke="#000" stroke-width="0.45"/>
<line x1="493.34" y1="391" x2="493.34" y2="392.7" stroke="#000" stroke-width="0.45"/>
<line x1="515.92" y1="391" x2="515.92" y2="392.7" stroke="#000" stroke-width="0.45"/>
<line x1="538.5" y1="391" x2="538.5" y2="392.7" stroke="#000" stroke-width="0.45"/>
<line x1="430.6" y1="386.6" x2="428.9" y2="386.6" stroke="#000" stroke-width="0.45"/>
<line x1="430.6" y1="366.15" x2="428.9" y2="366.15" stroke="#000" stroke-width="0.45"/>
<line x1="430.6" y1="345.7" x2="428.9" y2="345.7" stroke="#000" stroke-width="0.45"/>
<line x1="430.6" y1="325.25" x2="428.9" y2="325.25" stroke="#000" stroke-width="0.45"/>
<line x1="430.6" y1="304.8" x2="428.9" y2="304.8" stroke="#000" stroke-width="0.45"/>
<line x1="430.6" y1="284.35" x2="428.9" y2="284.35" stroke="#000" stroke-width="0.45"/>
<rect x="501.1" y="284.7" width="43" height="17.9" rx="0.8" fill="#fff" fill-opacity="0.8" stroke="#ccc" stroke-width="0.45"/>
<line x1="502.4" y1="287.6" x2="510.9" y2="287.6" stroke="#e41f2a" stroke-width="0.71"/>
<line x1="502.4" y1="293.2" x2="510.9" y2="293.2" stroke="#0000ff" stroke-width="0.71"/>
<line x1="502.4" y1="298.8" x2="510.9" y2="298.8" stroke="#008000" stroke-width="0.71"/>
<clipPath id="c5672_2825"><rect x="567.2" y="282.5" width="115.6" height="108.5"/></clipPath>
<g clip-path="url(#c5672_2825)">
<path d="M572.03 386.1 L572.03 386.1 L572.38 382.53 L572.74 381.36 L573.09 381.98 L573.44 382.89 L573.8 383.87 L574.15 384.72 L574.5 385.19 L574.86 385.09 L575.21 384.39 L575.56 383.25 L575.92 381.85 L576.27 380.35 L576.62 378.91 L576.98 377.7 L577.33 376.9 L577.68 376.44 L578.04 376.11 L578.39 375.81 L578.74 375.46 L579.1 374.98 L579.45 374.32 L579.81 373.52 L580.16 372.58 L580.51 371.55 L580.87 370.44 L581.22 369.27 L581.57 368.08 L581.93 366.8 L582.28 365.37 L582.63 363.82 L582.99 362.18 L583.34 360.49 L583.69 358.77 L584.05 357.07 L584.4 355.4 L584.75 353.64 L585.11 351.82 L585.46 350.05 L585.81 348.43 L586.17 347.05 L586.52 345.85 L586.88 344.76 L587.23 343.68 L587.58 342.54 L587.94 341.23 L588.29 339.73 L588.64 338.08 L589 336.39 L589.35 334.75 L589.7 333.23 L590.06 331.82 L590.41 330.47 L590.76 329.14 L591.12 327.8 L591.47 326.49 L591.82 325.23 L592.18 323.93 L592.53 322.48 L592.89 320.77 L593.24 318.76 L593.59 316.46 L593.95 313.86 L594.3 310.25 L594.65 306.47 L595.01 303.98 L595.36 302.28 L595.71 300.85 L596.07 299.89 L596.42 299.7 L596.77 302.3 L597.13 307.06 L597.48 311.8 L597.83 314.35 L598.19 314.15 L598.54 313.3 L598.89 312.11 L599.25 310.82 L599.6 309.7 L599.96 308.74 L600.31 307.69 L600.66 306.69 L601.02 305.92 L601.37 305.55 L601.72 305.99 L602.08 307.36 L602.43 308.91 L602.78 309.99 L603.14 310.93 L603.49 311.81 L603.84 312.6 L604.2 313.26 L604.55 313.77 L604.9 314.12 L605.26 314.37 L605.61 314.58 L605.97 314.8 L606.32 315.09 L606.67 315.51 L607.03 316.36 L607.38 318.03 L607.73 320.25 L608.09 322.72 L608.44 325.58 L608.79 329.21 L609.15 332.8 L609.5 335.87 L609.85 338.73 L610.21 341.25 L610.56 343.53 L610.91 345.69 L611.27 347.74 L611.62 349.7 L611.97 351.56 L612.33 353.33 L612.68 355.02 L613.04 356.64 L613.39 358.19 L613.74 359.72 L614.1 361.23 L614.45 362.7 L614.8 364.15 L615.16 365.54 L615.51 366.88 L615.86 368.15 L616.22 369.36 L616.57 370.48 L616.92 371.51 L617.28 372.44 L617.63 373.26 L617.98 374.02 L618.34 374.77 L618.69 375.5 L619.04 376.21 L619.4 376.89 L619.75 377.54 L620.11 378.15 L620.46 378.72 L620.81 379.25 L621.17 379.73 L621.52 380.16 L621.87 380.54 L622.23 380.85 L622.58 381.1 L622.93 381.29 L623.29 381.45 L623.64 381.6 L623.99 381.73 L624.35 381.86 L624.7 381.98 L625.05 382.09 L625.41 382.19 L625.76 382.29 L626.12 382.38 L626.47 382.46 L626.82 382.55 L627.18 382.62 L627.53 382.69 L627.88 382.77 L628.24 382.84 L628.59 382.9 L628.94 382.97 L629.3 383.04 L629.65 383.12 L630 383.19 L630.36 383.26 L630.71 383.34 L631.06 383.41 L631.42 383.49 L631.77 383.56 L632.12 383.63 L632.48 383.71 L632.83 383.78 L633.19 383.85 L633.54 383.92 L633.89 383.99 L634.25 384.06 L634.6 384.13 L634.95 384.2 L635.31 384.27 L635.66 384.33 L636.01 384.4 L636.37 384.46 L636.72 384.52 L637.07 384.58 L637.43 384.64 L637.78 384.7 L638.13 384.75 L638.49 384.8 L638.84 384.85 L639.2 384.9 L639.55 384.95 L639.9 384.99 L640.26 385.03 L640.61 385.07 L640.96 385.1 L641.32 385.13 L641.67 385.16 L642.02 385.19 L642.38 385.21 L642.73 385.23 L643.08 385.25 L643.44 385.26 L643.79 385.28 L644.14 385.3 L644.5 385.31 L644.85 385.33 L645.2 385.34 L645.56 385.36 L645.91 385.38 L646.27 385.39 L646.62 385.41 L646.97 385.42 L647.33 385.44 L647.68 385.45 L648.03 385.47 L648.39 385.48 L648.74 385.5 L649.09 385.51 L649.45 385.53 L649.8 385.54 L650.15 385.55 L650.51 385.57 L650.86 385.58 L651.21 385.59 L651.57 385.61 L651.92 385.62 L652.27 385.63 L652.63 385.65 L652.98 385.66 L653.34 385.67 L653.69 385.68 L654.04 385.69 L654.4 385.71 L654.75 385.72 L655.1 385.73 L655.46 385.74 L655.81 385.75 L656.16 385.76 L656.52 385.77 L656.87 385.78 L657.22 385.79 L657.58 385.8 L657.93 385.81 L658.28 385.82 L658.64 385.83 L658.99 385.84 L659.35 385.85 L659.7 385.86 L660.05 385.87 L660.41 385.88 L660.76 385.89 L661.11 385.9 L661.47 385.91 L661.82 385.91 L662.17 385.92 L662.53 385.93 L662.88 385.94 L663.23 385.95 L663.59 385.95 L663.94 385.96 L664.29 385.97 L664.65 385.97 L665 385.98 L665.35 385.99 L665.71 385.99 L666.06 386 L666.42 386.01 L666.77 386.01 L667.12 386.02 L667.48 386.02 L667.83 386.03 L668.18 386.03 L668.54 386.04 L668.89 386.04 L669.24 386.05 L669.6 386.05 L669.95 386.06 L670.3 386.06 L670.66 386.06 L671.01 386.07 L671.36 386.07 L671.72 386.07 L672.07 386.08 L672.42 386.08 L672.78 386.08 L673.13 386.08 L673.49 386.09 L673.84 386.09 L674.19 386.09 L674.55 386.09 L674.9 386.09 L675.25 386.1 L675.61 386.1 L675.96 386.1 L676.31 386.1 L676.67 386.1 L677.02 386.1 L677.37 386.1 L677.73 386.1 L677.73 386.1 Z" fill="#da2b3f" stroke="none" stroke-width="1" fill-opacity="0.4"/>
<path d="M585.98 386.1 L585.98 382.45 L586.2 382.37 L586.42 382.31 L586.64 382.25 L586.86 382.2 L587.08 382.16 L587.3 382.13 L587.52 382.09 L587.74 382.07 L587.96 382.05 L588.18 382.03 L588.4 382.01 L588.62 382 L588.84 381.99 L589.06 381.98 L589.28 381.97 L589.5 381.97 L589.72 381.96 L589.94 381.95 L590.16 381.94 L590.38 381.93 L590.59 381.92 L590.81 381.9 L591.03 381.88 L591.25 381.86 L591.47 381.83 L591.69 381.8 L591.91 381.76 L592.13 381.72 L592.35 381.67 L592.57 381.61 L592.79 381.55 L593.01 381.48 L593.23 381.4 L593.45 381.32 L593.67 381.23 L593.89 381.13 L594.11 381.02 L594.33 380.91 L594.55 380.8 L594.77 380.67 L594.99 380.54 L595.21 380.41 L595.43 380.26 L595.65 380.11 L595.87 379.96 L596.09 379.8 L596.31 379.63 L596.53 379.45 L596.75 379.27 L596.97 379.08 L597.19 378.89 L597.41 378.69 L597.63 378.48 L597.85 378.27 L598.07 378.05 L598.29 377.82 L598.51 377.58 L598.73 377.28 L598.95 376.93 L599.17 376.53 L599.39 376.09 L599.61 375.61 L599.83 375.09 L600.05 374.55 L600.27 373.98 L600.49 373.39 L600.71 372.78 L600.93 372.16 L601.15 371.54 L601.37 370.92 L601.59 370.29 L601.81 369.68 L602.03 369.05 L602.25 368.39 L602.47 367.71 L602.69 367.01 L602.91 366.29 L603.13 365.54 L603.35 364.79 L603.57 364.01 L603.79 363.23 L604.01 362.43 L604.23 361.63 L604.45 360.82 L604.67 360.01 L604.89 359.19 L605.11 358.38 L605.33 357.56 L605.55 356.74 L605.77 355.89 L605.99 355.02 L606.21 354.14 L606.43 353.24 L606.65 352.33 L606.87 351.42 L607.09 350.51 L607.31 349.59 L607.53 348.69 L607.75 347.79 L607.97 346.9 L608.19 346.03 L608.41 345.18 L608.63 344.35 L608.85 343.55 L609.07 342.78 L609.29 342.03 L609.51 341.29 L609.73 340.58 L609.95 339.87 L610.17 339.17 L610.39 338.48 L610.61 337.8 L610.83 337.11 L611.05 336.43 L611.27 335.74 L611.49 335.04 L611.71 334.32 L611.93 333.6 L612.15 332.86 L612.37 332.12 L612.59 331.37 L612.81 330.61 L613.03 329.85 L613.25 329.09 L613.47 328.33 L613.69 327.56 L613.91 326.8 L614.13 326.04 L614.35 325.23 L614.57 324.38 L614.79 323.5 L615.01 322.59 L615.23 321.69 L615.45 320.8 L615.67 319.93 L615.89 319.1 L616.11 318.32 L616.33 317.61 L616.55 316.98 L616.77 316.45 L616.99 316.03 L617.21 315.69 L617.43 315.35 L617.65 315.03 L617.87 314.72 L618.09 314.42 L618.31 314.15 L618.53 313.89 L618.75 313.66 L618.97 313.46 L619.19 313.3 L619.41 313.17 L619.63 313.08 L619.85 313.03 L620.07 313.02 L620.29 313.06 L620.51 313.14 L620.73 313.26 L620.95 313.41 L621.17 313.6 L621.39 313.82 L621.61 314.06 L621.83 314.33 L622.05 314.62 L622.27 314.94 L622.49 315.27 L622.71 315.62 L622.93 315.98 L623.15 316.45 L623.37 317.11 L623.59 317.92 L623.81 318.86 L624.03 319.88 L624.25 320.96 L624.47 322.06 L624.69 323.15 L624.91 324.2 L625.13 325.18 L625.35 326.13 L625.57 327.09 L625.79 328.05 L626.01 329.02 L626.23 330 L626.45 331 L626.67 332.02 L626.89 333.07 L627.11 334.16 L627.33 335.28 L627.55 336.48 L627.77 337.76 L627.99 339.07 L628.21 340.39 L628.43 341.67 L628.65 342.87 L628.87 344.08 L629.09 345.3 L629.31 346.53 L629.53 347.74 L629.75 348.91 L629.97 350.02 L630.19 351.04 L630.41 351.95 L630.63 352.74 L630.85 353.41 L631.07 354.04 L631.29 354.64 L631.51 355.22 L631.73 355.77 L631.95 356.3 L632.17 356.8 L632.39 357.28 L632.61 357.72 L632.83 358.14 L633.05 358.53 L633.27 358.88 L633.49 359.21 L633.71 359.51 L633.93 359.77 L634.15 360 L634.37 360.2 L634.59 360.39 L634.81 360.56 L635.03 360.72 L635.25 360.86 L635.47 361 L635.69 361.12 L635.91 361.24 L636.13 361.35 L636.35 361.46 L636.57 361.56 L636.79 361.67 L637.01 361.78 L637.23 361.89 L637.45 362 L637.67 362.12 L637.89 362.25 L638.11 362.39 L638.33 362.55 L638.55 362.71 L638.77 362.89 L638.99 363.09 L639.21 363.29 L639.43 363.51 L639.65 363.73 L639.87 363.97 L640.09 364.21 L640.31 364.47 L640.53 364.73 L640.75 364.99 L640.97 365.27 L641.19 365.55 L641.41 365.83 L641.63 366.12 L641.85 366.42 L642.07 366.71 L642.29 367.01 L642.51 367.32 L642.73 367.62 L642.95 367.92 L643.17 368.23 L643.39 368.56 L643.61 368.9 L643.83 369.26 L644.05 369.64 L644.27 370.02 L644.49 370.41 L644.71 370.8 L644.93 371.2 L645.15 371.6 L645.37 371.99 L645.59 372.38 L645.81 372.77 L646.03 373.14 L646.25 373.51 L646.47 373.86 L646.69 374.19 L646.91 374.51 L647.13 374.8 L647.35 375.07 L647.57 375.34 L647.79 375.6 L648.01 375.86 L648.23 376.11 L648.45 376.36 L648.67 376.6 L648.89 376.84 L649.11 377.07 L649.33 377.3 L649.55 377.52 L649.77 377.73 L649.99 377.94 L650.21 378.14 L650.43 378.33 L650.65 378.51 L650.87 378.69 L651.09 378.86 L651.31 379.02 L651.53 379.17 L651.75 379.31 L651.75 386.1 Z" fill="#0000ff" stroke="none" stroke-width="1" fill-opacity="0.3"/>
<path d="M585.98 386.1 L585.98 370.79 L586.2 368.54 L586.41 366.67 L586.63 365.14 L586.85 363.89 L587.07 362.91 L587.29 362.14 L587.51 361.54 L587.73 361.09 L587.95 360.73 L588.17 360.43 L588.39 360.14 L588.61 359.84 L588.83 359.48 L589.05 359.02 L589.27 358.42 L589.49 357.64 L589.71 356.73 L589.93 355.79 L590.15 354.83 L590.37 353.85 L590.59 352.86 L590.81 351.85 L591.03 350.84 L591.25 349.83 L591.46 348.82 L591.68 347.81 L591.9 346.81 L592.12 345.83 L592.34 344.86 L592.56 343.9 L592.78 342.95 L593 342 L593.22 341.06 L593.44 340.13 L593.66 339.19 L593.88 338.24 L594.1 337.29 L594.32 336.33 L594.54 335.36 L594.76 334.38 L594.98 333.38 L595.2 332.39 L595.42 331.41 L595.64 330.44 L595.86 329.46 L596.08 328.46 L596.3 327.42 L596.52 326.33 L596.73 325.17 L596.95 323.94 L597.17 322.6 L597.39 321 L597.61 319.21 L597.83 317.34 L598.05 315.47 L598.27 313.7 L598.49 312.13 L598.71 310.83 L598.93 309.67 L599.15 308.62 L599.37 307.65 L599.59 306.73 L599.81 305.84 L600.03 304.94 L600.25 304.02 L600.47 303.05 L600.69 302 L600.91 300.84 L601.13 299.45 L601.35 297.88 L601.57 296.26 L601.78 294.73 L602 293.41 L602.22 292.44 L602.44 291.76 L602.66 291.11 L602.88 290.5 L603.1 289.93 L603.32 289.41 L603.54 288.95 L603.76 288.57 L603.98 288.28 L604.2 288.07 L604.42 287.97 L604.64 287.99 L604.86 288.11 L605.08 288.33 L605.3 288.65 L605.52 289.05 L605.74 289.52 L605.96 290.05 L606.18 290.63 L606.4 291.25 L606.62 291.9 L606.83 292.61 L607.05 293.6 L607.27 294.88 L607.49 296.36 L607.71 297.94 L607.93 299.55 L608.15 301.09 L608.37 302.59 L608.59 304.14 L608.81 305.72 L609.03 307.33 L609.25 308.96 L609.47 310.6 L609.69 312.25 L609.91 313.94 L610.13 315.66 L610.35 317.4 L610.57 319.13 L610.79 320.83 L611.01 322.47 L611.23 324.05 L611.45 325.57 L611.67 327.05 L611.89 328.5 L612.1 329.94 L612.32 331.38 L612.54 332.82 L612.76 334.28 L612.98 335.73 L613.2 337.17 L613.42 338.62 L613.64 340.08 L613.86 341.56 L614.08 343.08 L614.3 344.64 L614.52 346.24 L614.74 347.86 L614.96 349.5 L615.18 351.12 L615.4 352.73 L615.62 354.31 L615.84 355.84 L616.06 357.32 L616.28 358.73 L616.5 360.06 L616.72 361.3 L616.94 362.52 L617.15 363.76 L617.37 365.01 L617.59 366.25 L617.81 367.48 L618.03 368.69 L618.25 369.85 L618.47 370.97 L618.69 372.04 L618.91 373.03 L619.13 373.94 L619.35 374.76 L619.57 375.47 L619.79 376.08 L620.01 376.56 L620.23 376.9 L620.45 377.17 L620.67 377.43 L620.89 377.68 L621.11 377.91 L621.33 378.14 L621.55 378.35 L621.77 378.55 L621.99 378.74 L622.2 378.92 L622.42 379.09 L622.64 379.25 L622.86 379.41 L623.08 379.55 L623.3 379.69 L623.52 379.82 L623.74 379.95 L623.96 380.06 L624.18 380.18 L624.4 380.28 L624.62 380.39 L624.84 380.49 L625.06 380.58 L625.28 380.67 L625.5 380.76 L625.72 380.85 L625.94 380.94 L626.16 381.02 L626.38 381.11 L626.6 381.19 L626.82 381.27 L627.04 381.35 L627.26 381.43 L627.47 381.5 L627.69 381.58 L627.91 381.65 L628.13 381.72 L628.35 381.79 L628.57 381.86 L628.79 381.92 L629.01 381.99 L629.23 382.05 L629.45 382.11 L629.67 382.17 L629.89 382.23 L630.11 382.29 L630.33 382.34 L630.55 382.4 L630.77 382.45 L630.99 382.51 L631.21 382.56 L631.43 382.61 L631.65 382.66 L631.87 382.71 L632.09 382.75 L632.31 382.8 L632.52 382.84 L632.74 382.89 L632.96 382.93 L633.18 382.98 L633.4 383.02 L633.62 383.06 L633.84 383.1 L634.06 383.14 L634.28 383.18 L634.5 383.22 L634.72 383.25 L634.94 383.29 L635.16 383.33 L635.38 383.36 L635.6 383.4 L635.82 383.44 L636.04 383.47 L636.26 383.51 L636.48 383.54 L636.7 383.58 L636.92 383.62 L637.14 383.65 L637.36 383.69 L637.57 383.72 L637.79 383.76 L638.01 383.79 L638.23 383.83 L638.45 383.86 L638.67 383.9 L638.89 383.93 L639.11 383.96 L639.33 384 L639.55 384.03 L639.77 384.06 L639.99 384.1 L640.21 384.13 L640.43 384.16 L640.65 384.19 L640.87 384.23 L641.09 384.26 L641.31 384.29 L641.53 384.32 L641.75 384.35 L641.97 384.38 L642.19 384.41 L642.41 384.44 L642.63 384.47 L642.84 384.5 L643.06 384.53 L643.28 384.55 L643.5 384.58 L643.72 384.61 L643.94 384.64 L644.16 384.66 L644.38 384.69 L644.6 384.71 L644.82 384.74 L645.04 384.76 L645.26 384.79 L645.48 384.81 L645.7 384.83 L645.92 384.86 L646.14 384.88 L646.36 384.9 L646.58 384.92 L646.8 384.94 L647.02 384.96 L647.24 384.98 L647.46 385 L647.68 385.02 L647.89 385.03 L648.11 385.05 L648.33 385.07 L648.55 385.08 L648.77 385.1 L648.99 385.11 L649.21 385.13 L649.43 385.14 L649.65 385.15 L649.87 385.16 L650.09 385.17 L650.31 385.18 L650.53 385.19 L650.75 385.2 L650.97 385.21 L651.19 385.22 L651.41 385.22 L651.63 385.23 L651.63 386.1 Z" fill="#008000" stroke="none" stroke-width="1" fill-opacity="0.3"/>
<path d="M572.03 386.1 L572.38 382.53 L572.74 381.36 L573.09 381.98 L573.44 382.89 L573.8 383.87 L574.15 384.72 L574.5 385.19 L574.86 385.09 L575.21 384.39 L575.56 383.25 L575.92 381.85 L576.27 380.35 L576.62 378.91 L576.98 377.7 L577.33 376.9 L577.68 376.44 L578.04 376.11 L578.39 375.81 L578.74 375.46 L579.1 374.98 L579.45 374.32 L579.81 373.52 L580.16 372.58 L580.51 371.55 L580.87 370.44 L581.22 369.27 L581.57 368.08 L581.93 366.8 L582.28 365.37 L582.63 363.82 L582.99 362.18 L583.34 360.49 L583.69 358.77 L584.05 357.07 L584.4 355.4 L584.75 353.64 L585.11 351.82 L585.46 350.05 L585.81 348.43 L586.17 347.05 L586.52 345.85 L586.88 344.76 L587.23 343.68 L587.58 342.54 L587.94 341.23 L588.29 339.73 L588.64 338.08 L589 336.39 L589.35 334.75 L589.7 333.23 L590.06 331.82 L590.41 330.47 L590.76 329.14 L591.12 327.8 L591.47 326.49 L591.82 325.23 L592.18 323.93 L592.53 322.48 L592.89 320.77 L593.24 318.76 L593.59 316.46 L593.95 313.86 L594.3 310.25 L594.65 306.47 L595.01 303.98 L595.36 302.28 L595.71 300.85 L596.07 299.89 L596.42 299.7 L596.77 302.3 L597.13 307.06 L597.48 311.8 L597.83 314.35 L598.19 314.15 L598.54 313.3 L598.89 312.11 L599.25 310.82 L599.6 309.7 L599.96 308.74 L600.31 307.69 L600.66 306.69 L601.02 305.92 L601.37 305.55 L601.72 305.99 L602.08 307.36 L602.43 308.91 L602.78 309.99 L603.14 310.93 L603.49 311.81 L603.84 312.6 L604.2 313.26 L604.55 313.77 L604.9 314.12 L605.26 314.37 L605.61 314.58 L605.97 314.8 L606.32 315.09 L606.67 315.51 L607.03 316.36 L607.38 318.03 L607.73 320.25 L608.09 322.72 L608.44 325.58 L608.79 329.21 L609.15 332.8 L609.5 335.87 L609.85 338.73 L610.21 341.25 L610.56 343.53 L610.91 345.69 L611.27 347.74 L611.62 349.7 L611.97 351.56 L612.33 353.33 L612.68 355.02 L613.04 356.64 L613.39 358.19 L613.74 359.72 L614.1 361.23 L614.45 362.7 L614.8 364.15 L615.16 365.54 L615.51 366.88 L615.86 368.15 L616.22 369.36 L616.57 370.48 L616.92 371.51 L617.28 372.44 L617.63 373.26 L617.98 374.02 L618.34 374.77 L618.69 375.5 L619.04 376.21 L619.4 376.89 L619.75 377.54 L620.11 378.15 L620.46 378.72 L620.81 379.25 L621.17 379.73 L621.52 380.16 L621.87 380.54 L622.23 380.85 L622.58 381.1 L622.93 381.29 L623.29 381.45 L623.64 381.6 L623.99 381.73 L624.35 381.86 L624.7 381.98 L625.05 382.09 L625.41 382.19 L625.76 382.29 L626.12 382.38 L626.47 382.46 L626.82 382.55 L627.18 382.62 L627.53 382.69 L627.88 382.77 L628.24 382.84 L628.59 382.9 L628.94 382.97 L629.3 383.04 L629.65 383.12 L630 383.19 L630.36 383.26 L630.71 383.34 L631.06 383.41 L631.42 383.49 L631.77 383.56 L632.12 383.63 L632.48 383.71 L632.83 383.78 L633.19 383.85 L633.54 383.92 L633.89 383.99 L634.25 384.06 L634.6 384.13 L634.95 384.2 L635.31 384.27 L635.66 384.33 L636.01 384.4 L636.37 384.46 L636.72 384.52 L637.07 384.58 L637.43 384.64 L637.78 384.7 L638.13 384.75 L638.49 384.8 L638.84 384.85 L639.2 384.9 L639.55 384.95 L639.9 384.99 L640.26 385.03 L640.61 385.07 L640.96 385.1 L641.32 385.13 L641.67 385.16 L642.02 385.19 L642.38 385.21 L642.73 385.23 L643.08 385.25 L643.44 385.26 L643.79 385.28 L644.14 385.3 L644.5 385.31 L644.85 385.33 L645.2 385.34 L645.56 385.36 L645.91 385.38 L646.27 385.39 L646.62 385.41 L646.97 385.42 L647.33 385.44 L647.68 385.45 L648.03 385.47 L648.39 385.48 L648.74 385.5 L649.09 385.51 L649.45 385.53 L649.8 385.54 L650.15 385.55 L650.51 385.57 L650.86 385.58 L651.21 385.59 L651.57 385.61 L651.92 385.62 L652.27 385.63 L652.63 385.65 L652.98 385.66 L653.34 385.67 L653.69 385.68 L654.04 385.69 L654.4 385.71 L654.75 385.72 L655.1 385.73 L655.46 385.74 L655.81 385.75 L656.16 385.76 L656.52 385.77 L656.87 385.78 L657.22 385.79 L657.58 385.8 L657.93 385.81 L658.28 385.82 L658.64 385.83 L658.99 385.84 L659.35 385.85 L659.7 385.86 L660.05 385.87 L660.41 385.88 L660.76 385.89 L661.11 385.9 L661.47 385.91 L661.82 385.91 L662.17 385.92 L662.53 385.93 L662.88 385.94 L663.23 385.95 L663.59 385.95 L663.94 385.96 L664.29 385.97 L664.65 385.97 L665 385.98 L665.35 385.99 L665.71 385.99 L666.06 386 L666.42 386.01 L666.77 386.01 L667.12 386.02 L667.48 386.02 L667.83 386.03 L668.18 386.03 L668.54 386.04 L668.89 386.04 L669.24 386.05 L669.6 386.05 L669.95 386.06 L670.3 386.06 L670.66 386.06 L671.01 386.07 L671.36 386.07 L671.72 386.07 L672.07 386.08 L672.42 386.08 L672.78 386.08 L673.13 386.08 L673.49 386.09 L673.84 386.09 L674.19 386.09 L674.55 386.09 L674.9 386.09 L675.25 386.1 L675.61 386.1 L675.96 386.1 L676.31 386.1 L676.67 386.1 L677.02 386.1 L677.37 386.1 L677.73 386.1" fill="none" stroke="#e41f2a" stroke-width="0.71" stroke-linejoin="round"/>
<path d="M585.98 382.45 L586.2 382.37 L586.42 382.31 L586.64 382.25 L586.86 382.2 L587.08 382.16 L587.3 382.13 L587.52 382.09 L587.74 382.07 L587.96 382.05 L588.18 382.03 L588.4 382.01 L588.62 382 L588.84 381.99 L589.06 381.98 L589.28 381.97 L589.5 381.97 L589.72 381.96 L589.94 381.95 L590.16 381.94 L590.38 381.93 L590.59 381.92 L590.81 381.9 L591.03 381.88 L591.25 381.86 L591.47 381.83 L591.69 381.8 L591.91 381.76 L592.13 381.72 L592.35 381.67 L592.57 381.61 L592.79 381.55 L593.01 381.48 L593.23 381.4 L593.45 381.32 L593.67 381.23 L593.89 381.13 L594.11 381.02 L594.33 380.91 L594.55 380.8 L594.77 380.67 L594.99 380.54 L595.21 380.41 L595.43 380.26 L595.65 380.11 L595.87 379.96 L596.09 379.8 L596.31 379.63 L596.53 379.45 L596.75 379.27 L596.97 379.08 L597.19 378.89 L597.41 378.69 L597.63 378.48 L597.85 378.27 L598.07 378.05 L598.29 377.82 L598.51 377.58 L598.73 377.28 L598.95 376.93 L599.17 376.53 L599.39 376.09 L599.61 375.61 L599.83 375.09 L600.05 374.55 L600.27 373.98 L600.49 373.39 L600.71 372.78 L600.93 372.16 L601.15 371.54 L601.37 370.92 L601.59 370.29 L601.81 369.68 L602.03 369.05 L602.25 368.39 L602.47 367.71 L602.69 367.01 L602.91 366.29 L603.13 365.54 L603.35 364.79 L603.57 364.01 L603.79 363.23 L604.01 362.43 L604.23 361.63 L604.45 360.82 L604.67 360.01 L604.89 359.19 L605.11 358.38 L605.33 357.56 L605.55 356.74 L605.77 355.89 L605.99 355.02 L606.21 354.14 L606.43 353.24 L606.65 352.33 L606.87 351.42 L607.09 350.51 L607.31 349.59 L607.53 348.69 L607.75 347.79 L607.97 346.9 L608.19 346.03 L608.41 345.18 L608.63 344.35 L608.85 343.55 L609.07 342.78 L609.29 342.03 L609.51 341.29 L609.73 340.58 L609.95 339.87 L610.17 339.17 L610.39 338.48 L610.61 337.8 L610.83 337.11 L611.05 336.43 L611.27 335.74 L611.49 335.04 L611.71 334.32 L611.93 333.6 L612.15 332.86 L612.37 332.12 L612.59 331.37 L612.81 330.61 L613.03 329.85 L613.25 329.09 L613.47 328.33 L613.69 327.56 L613.91 326.8 L614.13 326.04 L614.35 325.23 L614.57 324.38 L614.79 323.5 L615.01 322.59 L615.23 321.69 L615.45 320.8 L615.67 319.93 L615.89 319.1 L616.11 318.32 L616.33 317.61 L616.55 316.98 L616.77 316.45 L616.99 316.03 L617.21 315.69 L617.43 315.35 L617.65 315.03 L617.87 314.72 L618.09 314.42 L618.31 314.15 L618.53 313.89 L618.75 313.66 L618.97 313.46 L619.19 313.3 L619.41 313.17 L619.63 313.08 L619.85 313.03 L620.07 313.02 L620.29 313.06 L620.51 313.14 L620.73 313.26 L620.95 313.41 L621.17 313.6 L621.39 313.82 L621.61 314.06 L621.83 314.33 L622.05 314.62 L622.27 314.94 L622.49 315.27 L622.71 315.62 L622.93 315.98 L623.15 316.45 L623.37 317.11 L623.59 317.92 L623.81 318.86 L624.03 319.88 L624.25 320.96 L624.47 322.06 L624.69 323.15 L624.91 324.2 L625.13 325.18 L625.35 326.13 L625.57 327.09 L625.79 328.05 L626.01 329.02 L626.23 330 L626.45 331 L626.67 332.02 L626.89 333.07 L627.11 334.16 L627.33 335.28 L627.55 336.48 L627.77 337.76 L627.99 339.07 L628.21 340.39 L628.43 341.67 L628.65 342.87 L628.87 344.08 L629.09 345.3 L629.31 346.53 L629.53 347.74 L629.75 348.91 L629.97 350.02 L630.19 351.04 L630.41 351.95 L630.63 352.74 L630.85 353.41 L631.07 354.04 L631.29 354.64 L631.51 355.22 L631.73 355.77 L631.95 356.3 L632.17 356.8 L632.39 357.28 L632.61 357.72 L632.83 358.14 L633.05 358.53 L633.27 358.88 L633.49 359.21 L633.71 359.51 L633.93 359.77 L634.15 360 L634.37 360.2 L634.59 360.39 L634.81 360.56 L635.03 360.72 L635.25 360.86 L635.47 361 L635.69 361.12 L635.91 361.24 L636.13 361.35 L636.35 361.46 L636.57 361.56 L636.79 361.67 L637.01 361.78 L637.23 361.89 L637.45 362 L637.67 362.12 L637.89 362.25 L638.11 362.39 L638.33 362.55 L638.55 362.71 L638.77 362.89 L638.99 363.09 L639.21 363.29 L639.43 363.51 L639.65 363.73 L639.87 363.97 L640.09 364.21 L640.31 364.47 L640.53 364.73 L640.75 364.99 L640.97 365.27 L641.19 365.55 L641.41 365.83 L641.63 366.12 L641.85 366.42 L642.07 366.71 L642.29 367.01 L642.51 367.32 L642.73 367.62 L642.95 367.92 L643.17 368.23 L643.39 368.56 L643.61 368.9 L643.83 369.26 L644.05 369.64 L644.27 370.02 L644.49 370.41 L644.71 370.8 L644.93 371.2 L645.15 371.6 L645.37 371.99 L645.59 372.38 L645.81 372.77 L646.03 373.14 L646.25 373.51 L646.47 373.86 L646.69 374.19 L646.91 374.51 L647.13 374.8 L647.35 375.07 L647.57 375.34 L647.79 375.6 L648.01 375.86 L648.23 376.11 L648.45 376.36 L648.67 376.6 L648.89 376.84 L649.11 377.07 L649.33 377.3 L649.55 377.52 L649.77 377.73 L649.99 377.94 L650.21 378.14 L650.43 378.33 L650.65 378.51 L650.87 378.69 L651.09 378.86 L651.31 379.02 L651.53 379.17 L651.75 379.31" fill="none" stroke="#0000ff" stroke-width="0.71" stroke-linejoin="round"/>
<path d="M585.98 370.79 L586.2 368.54 L586.41 366.67 L586.63 365.14 L586.85 363.89 L587.07 362.91 L587.29 362.14 L587.51 361.54 L587.73 361.09 L587.95 360.73 L588.17 360.43 L588.39 360.14 L588.61 359.84 L588.83 359.48 L589.05 359.02 L589.27 358.42 L589.49 357.64 L589.71 356.73 L589.93 355.79 L590.15 354.83 L590.37 353.85 L590.59 352.86 L590.81 351.85 L591.03 350.84 L591.25 349.83 L591.46 348.82 L591.68 347.81 L591.9 346.81 L592.12 345.83 L592.34 344.86 L592.56 343.9 L592.78 342.95 L593 342 L593.22 341.06 L593.44 340.13 L593.66 339.19 L593.88 338.24 L594.1 337.29 L594.32 336.33 L594.54 335.36 L594.76 334.38 L594.98 333.38 L595.2 332.39 L595.42 331.41 L595.64 330.44 L595.86 329.46 L596.08 328.46 L596.3 327.42 L596.52 326.33 L596.73 325.17 L596.95 323.94 L597.17 322.6 L597.39 321 L597.61 319.21 L597.83 317.34 L598.05 315.47 L598.27 313.7 L598.49 312.13 L598.71 310.83 L598.93 309.67 L599.15 308.62 L599.37 307.65 L599.59 306.73 L599.81 305.84 L600.03 304.94 L600.25 304.02 L600.47 303.05 L600.69 302 L600.91 300.84 L601.13 299.45 L601.35 297.88 L601.57 296.26 L601.78 294.73 L602 293.41 L602.22 292.44 L602.44 291.76 L602.66 291.11 L602.88 290.5 L603.1 289.93 L603.32 289.41 L603.54 288.95 L603.76 288.57 L603.98 288.28 L604.2 288.07 L604.42 287.97 L604.64 287.99 L604.86 288.11 L605.08 288.33 L605.3 288.65 L605.52 289.05 L605.74 289.52 L605.96 290.05 L606.18 290.63 L606.4 291.25 L606.62 291.9 L606.83 292.61 L607.05 293.6 L607.27 294.88 L607.49 296.36 L607.71 297.94 L607.93 299.55 L608.15 301.09 L608.37 302.59 L608.59 304.14 L608.81 305.72 L609.03 307.33 L609.25 308.96 L609.47 310.6 L609.69 312.25 L609.91 313.94 L610.13 315.66 L610.35 317.4 L610.57 319.13 L610.79 320.83 L611.01 322.47 L611.23 324.05 L611.45 325.57 L611.67 327.05 L611.89 328.5 L612.1 329.94 L612.32 331.38 L612.54 332.82 L612.76 334.28 L612.98 335.73 L613.2 337.17 L613.42 338.62 L613.64 340.08 L613.86 341.56 L614.08 343.08 L614.3 344.64 L614.52 346.24 L614.74 347.86 L614.96 349.5 L615.18 351.12 L615.4 352.73 L615.62 354.31 L615.84 355.84 L616.06 357.32 L616.28 358.73 L616.5 360.06 L616.72 361.3 L616.94 362.52 L617.15 363.76 L617.37 365.01 L617.59 366.25 L617.81 367.48 L618.03 368.69 L618.25 369.85 L618.47 370.97 L618.69 372.04 L618.91 373.03 L619.13 373.94 L619.35 374.76 L619.57 375.47 L619.79 376.08 L620.01 376.56 L620.23 376.9 L620.45 377.17 L620.67 377.43 L620.89 377.68 L621.11 377.91 L621.33 378.14 L621.55 378.35 L621.77 378.55 L621.99 378.74 L622.2 378.92 L622.42 379.09 L622.64 379.25 L622.86 379.41 L623.08 379.55 L623.3 379.69 L623.52 379.82 L623.74 379.95 L623.96 380.06 L624.18 380.18 L624.4 380.28 L624.62 380.39 L624.84 380.49 L625.06 380.58 L625.28 380.67 L625.5 380.76 L625.72 380.85 L625.94 380.94 L626.16 381.02 L626.38 381.11 L626.6 381.19 L626.82 381.27 L627.04 381.35 L627.26 381.43 L627.47 381.5 L627.69 381.58 L627.91 381.65 L628.13 381.72 L628.35 381.79 L628.57 381.86 L628.79 381.92 L629.01 381.99 L629.23 382.05 L629.45 382.11 L629.67 382.17 L629.89 382.23 L630.11 382.29 L630.33 382.34 L630.55 382.4 L630.77 382.45 L630.99 382.51 L631.21 382.56 L631.43 382.61 L631.65 382.66 L631.87 382.71 L632.09 382.75 L632.31 382.8 L632.52 382.84 L632.74 382.89 L632.96 382.93 L633.18 382.98 L633.4 383.02 L633.62 383.06 L633.84 383.1 L634.06 383.14 L634.28 383.18 L634.5 383.22 L634.72 383.25 L634.94 383.29 L635.16 383.33 L635.38 383.36 L635.6 383.4 L635.82 383.44 L636.04 383.47 L636.26 383.51 L636.48 383.54 L636.7 383.58 L636.92 383.62 L637.14 383.65 L637.36 383.69 L637.57 383.72 L637.79 383.76 L638.01 383.79 L638.23 383.83 L638.45 383.86 L638.67 383.9 L638.89 383.93 L639.11 383.96 L639.33 384 L639.55 384.03 L639.77 384.06 L639.99 384.1 L640.21 384.13 L640.43 384.16 L640.65 384.19 L640.87 384.23 L641.09 384.26 L641.31 384.29 L641.53 384.32 L641.75 384.35 L641.97 384.38 L642.19 384.41 L642.41 384.44 L642.63 384.47 L642.84 384.5 L643.06 384.53 L643.28 384.55 L643.5 384.58 L643.72 384.61 L643.94 384.64 L644.16 384.66 L644.38 384.69 L644.6 384.71 L644.82 384.74 L645.04 384.76 L645.26 384.79 L645.48 384.81 L645.7 384.83 L645.92 384.86 L646.14 384.88 L646.36 384.9 L646.58 384.92 L646.8 384.94 L647.02 384.96 L647.24 384.98 L647.46 385 L647.68 385.02 L647.89 385.03 L648.11 385.05 L648.33 385.07 L648.55 385.08 L648.77 385.1 L648.99 385.11 L649.21 385.13 L649.43 385.14 L649.65 385.15 L649.87 385.16 L650.09 385.17 L650.31 385.18 L650.53 385.19 L650.75 385.2 L650.97 385.21 L651.19 385.22 L651.41 385.22 L651.63 385.23" fill="none" stroke="#008000" stroke-width="0.71" stroke-linejoin="round"/>
<line x1="599.31" y1="282.5" x2="599.31" y2="391" stroke="#e41f2a" stroke-width="0.5" stroke-dasharray="1.76,0.76"/>
<line x1="603.56" y1="282.5" x2="603.56" y2="391" stroke="#008000" stroke-width="0.5" stroke-dasharray="1.76,0.76"/>
<line x1="621.28" y1="282.5" x2="621.28" y2="391" stroke="#0000ff" stroke-width="0.5" stroke-dasharray="1.76,0.76"/>
</g>
<rect x="567.2" y="282.5" width="115.6" height="108.5" fill="none" stroke="#000" stroke-width="0.42"/>
<line x1="583.72" y1="391" x2="583.72" y2="392.7" stroke="#000" stroke-width="0.45"/>
<line x1="607.34" y1="391" x2="607.34" y2="392.7" stroke="#000" stroke-width="0.45"/>
<line x1="630.96" y1="391" x2="630.96" y2="392.7" stroke="#000" stroke-width="0.45"/>
<line x1="654.58" y1="391" x2="654.58" y2="392.7" stroke="#000" stroke-width="0.45"/>
<line x1="678.2" y1="391" x2="678.2" y2="392.7" stroke="#000" stroke-width="0.45"/>
<line x1="567.2" y1="386.1" x2="565.5" y2="386.1" stroke="#000" stroke-width="0.45"/>
<line x1="567.2" y1="368.7" x2="565.5" y2="368.7" stroke="#000" stroke-width="0.45"/>
<line x1="567.2" y1="351.3" x2="565.5" y2="351.3" stroke="#000" stroke-width="0.45"/>
<line x1="567.2" y1="333.9" x2="565.5" y2="333.9" stroke="#000" stroke-width="0.45"/>
<line x1="567.2" y1="316.5" x2="565.5" y2="316.5" stroke="#000" stroke-width="0.45"/>
<line x1="567.2" y1="299.1" x2="565.5" y2="299.1" stroke="#000" stroke-width="0.45"/>
<rect x="637.7" y="284.7" width="43" height="17.9" rx="0.8" fill="#fff" fill-opacity="0.8" stroke="#ccc" stroke-width="0.45"/>
<line x1="639" y1="287.6" x2="647.5" y2="287.6" stroke="#e41f2a" stroke-width="0.71"/>
<line x1="639" y1="293.2" x2="647.5" y2="293.2" stroke="#0000ff" stroke-width="0.71"/>
<line x1="639" y1="298.8" x2="647.5" y2="298.8" stroke="#008000" stroke-width="0.71"/>
<filter id="gs"><feGaussianBlur stdDeviation="0.01"/></filter><g filter="url(#gs)">
<text transform="translate(85 125) rotate(0.05)" font-size="5.3" text-anchor="middle" fill="#000" stroke="#000" stroke-width="0.1">2</text>
<text transform="translate(218.6 125) rotate(0.05)" font-size="5.3" text-anchor="middle" fill="#000" stroke="#000" stroke-width="0.1">3</text>
<text transform="translate(352.2 125) rotate(0.05)" font-size="5.3" text-anchor="middle" fill="#000" stroke="#000" stroke-width="0.1">4</text>
<text transform="translate(485.8 125) rotate(0.05)" font-size="5.3" text-anchor="middle" fill="#000" stroke="#000" stroke-width="0.1">5</text>
<text transform="translate(619.4 125) rotate(0.05)" font-size="5.3" text-anchor="middle" fill="#000" stroke="#000" stroke-width="0.1">6</text>
<text transform="translate(18.4 114.2) rotate(0.05)" font-size="5.3" text-anchor="end" fill="#000" stroke="#000" stroke-width="0.1">0.0</text>
<text transform="translate(18.4 94.48) rotate(0.05)" font-size="5.3" text-anchor="end" fill="#000" stroke="#000" stroke-width="0.1">0.2</text>
<text transform="translate(18.4 74.76) rotate(0.05)" font-size="5.3" text-anchor="end" fill="#000" stroke="#000" stroke-width="0.1">0.4</text>
<text transform="translate(18.4 55.04) rotate(0.05)" font-size="5.3" text-anchor="end" fill="#000" stroke="#000" stroke-width="0.1">0.6</text>
<text transform="translate(18.4 35.32) rotate(0.05)" font-size="5.3" text-anchor="end" fill="#000" stroke="#000" stroke-width="0.1">0.8</text>
<text transform="translate(18.4 15.6) rotate(0.05)" font-size="5.3" text-anchor="end" fill="#000" stroke="#000" stroke-width="0.1">1.0</text>
<text transform="translate(351.9 6) rotate(0.05)" font-size="6.5" text-anchor="middle" fill="#000" stroke="#000" stroke-width="0.1">Distribution of p-values</text>
<text transform="translate(8.3 63.5) rotate(-89.95)" font-size="5.35" text-anchor="middle" fill="#000" stroke="#000" stroke-width="0.1">p-value</text>
<text transform="translate(34.7 15) rotate(0.05)" font-size="5.45" text-anchor="start" fill="#000" stroke="#000" stroke-width="0.1">2: 934 (13.5%)</text>
<text transform="translate(34.7 20.37) rotate(0.05)" font-size="5.45" text-anchor="start" fill="#000" stroke="#000" stroke-width="0.1">3: 532 (20.3%)</text>
<text transform="translate(34.7 25.74) rotate(0.05)" font-size="5.45" text-anchor="start" fill="#000" stroke="#000" stroke-width="0.1">4: 291 (24.1%)</text>
<text transform="translate(34.7 31.11) rotate(0.05)" font-size="5.45" text-anchor="start" fill="#000" stroke="#000" stroke-width="0.1">5: 226 (29.6%)</text>
<text transform="translate(34.7 36.48) rotate(0.05)" font-size="5.45" text-anchor="start" fill="#000" stroke="#000" stroke-width="0.1">6: 137 (31.4%)</text>
<text transform="translate(26.75 261.95) rotate(0.05)" font-size="5.3" text-anchor="middle" fill="#000" stroke="#000" stroke-width="0.1">−1.0</text>
<text transform="translate(53.03 261.95) rotate(0.05)" font-size="5.3" text-anchor="middle" fill="#000" stroke="#000" stroke-width="0.1">−0.5</text>
<text transform="translate(79.3 261.95) rotate(0.05)" font-size="5.3" text-anchor="middle" fill="#000" stroke="#000" stroke-width="0.1">0.0</text>
<text transform="translate(105.57 261.95) rotate(0.05)" font-size="5.3" text-anchor="middle" fill="#000" stroke="#000" stroke-width="0.1">0.5</text>
<text transform="translate(131.85 261.95) rotate(0.05)" font-size="5.3" text-anchor="middle" fill="#000" stroke="#000" stroke-width="0.1">1.0</text>
<text transform="translate(18.4 250.1) rotate(0.05)" font-size="5.3" text-anchor="end" fill="#000" stroke="#000" stroke-width="0.1">0</text>
<text transform="translate(18.4 229.96) rotate(0.05)" font-size="5.3" text-anchor="end" fill="#000" stroke="#000" stroke-width="0.1">10</text>
<text transform="translate(18.4 209.82) rotate(0.05)" font-size="5.3" text-anchor="end" fill="#000" stroke="#000" stroke-width="0.1">20</text>
<text transform="translate(18.4 189.68) rotate(0.05)" font-size="5.3" text-anchor="end" fill="#000" stroke="#000" stroke-width="0.1">30</text>
<text transform="translate(18.4 169.54) rotate(0.05)" font-size="5.3" text-anchor="end" fill="#000" stroke="#000" stroke-width="0.1">40</text>
<text transform="translate(18.4 149.4) rotate(0.05)" font-size="5.3" text-anchor="end" fill="#000" stroke="#000" stroke-width="0.1">50</text>
<text transform="translate(79.3 142.6) rotate(0.05)" font-size="6.5" text-anchor="middle" fill="#000" stroke="#000" stroke-width="0.1">2</text>
<text transform="translate(24.1 150.7) rotate(0.05)" font-size="4.3" text-anchor="start" fill="#000" stroke="#000" stroke-width="0.1">Total: 934</text>
<text transform="translate(24.1 155.25) rotate(0.05)" font-size="4.3" text-anchor="start" fill="#000" stroke="#000" stroke-width="0.1">Sig: 126 (13.5%)</text>
<text transform="translate(24.1 159.8) rotate(0.05)" font-size="4.3" text-anchor="start" fill="#000" stroke="#000" stroke-width="0.1">Normal: 585606</text>
<text transform="translate(96.8 153.9) rotate(0.05)" font-size="5.35" text-anchor="start" fill="#000" stroke="#000" stroke-width="0.1">Normal</text>
<text transform="translate(96.8 161.1) rotate(0.05)" font-size="5.35" text-anchor="start" fill="#000" stroke="#000" stroke-width="0.1">Significant</text>
<text transform="translate(96.8 168.3) rotate(0.05)" font-size="5.35" text-anchor="start" fill="#000" stroke="#000" stroke-width="0.1">Non-significant</text>
<text transform="translate(8.5 199.9) rotate(-89.95)" font-size="5.35" text-anchor="middle" fill="#000" stroke="#000" stroke-width="0.1">Number of concepts</text>
<text transform="translate(163.35 261.95) rotate(0.05)" font-size="5.3" text-anchor="middle" fill="#000" stroke="#000" stroke-width="0.1">−1.0</text>
<text transform="translate(189.63 261.95) rotate(0.05)" font-size="5.3" text-anchor="middle" fill="#000" stroke="#000" stroke-width="0.1">−0.5</text>
<text transform="translate(215.9 261.95) rotate(0.05)" font-size="5.3" text-anchor="middle" fill="#000" stroke="#000" stroke-width="0.1">0.0</text>
<text transform="translate(242.17 261.95) rotate(0.05)" font-size="5.3" text-anchor="middle" fill="#000" stroke="#000" stroke-width="0.1">0.5</text>
<text transform="translate(268.45 261.95) rotate(0.05)" font-size="5.3" text-anchor="middle" fill="#000" stroke="#000" stroke-width="0.1">1.0</text>
<text transform="translate(155 250.1) rotate(0.05)" font-size="5.3" text-anchor="end" fill="#000" stroke="#000" stroke-width="0.1">0</text>
<text transform="translate(155 229.96) rotate(0.05)" font-size="5.3" text-anchor="end" fill="#000" stroke="#000" stroke-width="0.1">10</text>
<text transform="translate(155 209.82) rotate(0.05)" font-size="5.3" text-anchor="end" fill="#000" stroke="#000" stroke-width="0.1">20</text>
<text transform="translate(155 189.68) rotate(0.05)" font-size="5.3" text-anchor="end" fill="#000" stroke="#000" stroke-width="0.1">30</text>
<text transform="translate(155 169.54) rotate(0.05)" font-size="5.3" text-anchor="end" fill="#000" stroke="#000" stroke-width="0.1">40</text>
<text transform="translate(155 149.4) rotate(0.05)" font-size="5.3" text-anchor="end" fill="#000" stroke="#000" stroke-width="0.1">50</text>
<text transform="translate(215.9 142.6) rotate(0.05)" font-size="6.5" text-anchor="middle" fill="#000" stroke="#000" stroke-width="0.1">3</text>
<text transform="translate(160.7 150.7) rotate(0.05)" font-size="4.3" text-anchor="start" fill="#000" stroke="#000" stroke-width="0.1">Total: 532</text>
<text transform="translate(160.7 155.25) rotate(0.05)" font-size="4.3" text-anchor="start" fill="#000" stroke="#000" stroke-width="0.1">Sig: 108 (20.3%)</text>
<text transform="translate(160.7 159.8) rotate(0.05)" font-size="4.3" text-anchor="start" fill="#000" stroke="#000" stroke-width="0.1">Normal: 338064</text>
<text transform="translate(299.55 261.95) rotate(0.05)" font-size="5.3" text-anchor="middle" fill="#000" stroke="#000" stroke-width="0.1">−1.0</text>
<text transform="translate(325.83 261.95) rotate(0.05)" font-size="5.3" text-anchor="middle" fill="#000" stroke="#000" stroke-width="0.1">−0.5</text>
<text transform="translate(352.1 261.95) rotate(0.05)" font-size="5.3" text-anchor="middle" fill="#000" stroke="#000" stroke-width="0.1">0.0</text>
<text transform="translate(378.37 261.95) rotate(0.05)" font-size="5.3" text-anchor="middle" fill="#000" stroke="#000" stroke-width="0.1">0.5</text>
<text transform="translate(404.65 261.95) rotate(0.05)" font-size="5.3" text-anchor="middle" fill="#000" stroke="#000" stroke-width="0.1">1.0</text>
<text transform="translate(291.2 250.1) rotate(0.05)" font-size="5.3" text-anchor="end" fill="#000" stroke="#000" stroke-width="0.1">0</text>
<text transform="translate(291.2 229.96) rotate(0.05)" font-size="5.3" text-anchor="end" fill="#000" stroke="#000" stroke-width="0.1">10</text>
<text transform="translate(291.2 209.82) rotate(0.05)" font-size="5.3" text-anchor="end" fill="#000" stroke="#000" stroke-width="0.1">20</text>
<text transform="translate(291.2 189.68) rotate(0.05)" font-size="5.3" text-anchor="end" fill="#000" stroke="#000" stroke-width="0.1">30</text>
<text transform="translate(291.2 169.54) rotate(0.05)" font-size="5.3" text-anchor="end" fill="#000" stroke="#000" stroke-width="0.1">40</text>
<text transform="translate(291.2 149.4) rotate(0.05)" font-size="5.3" text-anchor="end" fill="#000" stroke="#000" stroke-width="0.1">50</text>
<text transform="translate(352.1 142.6) rotate(0.05)" font-size="6.5" text-anchor="middle" fill="#000" stroke="#000" stroke-width="0.1">4</text>
<text transform="translate(296.9 150.7) rotate(0.05)" font-size="4.3" text-anchor="start" fill="#000" stroke="#000" stroke-width="0.1">Total: 291</text>
<text transform="translate(296.9 155.25) rotate(0.05)" font-size="4.3" text-anchor="start" fill="#000" stroke="#000" stroke-width="0.1">Sig: 70 (24.1%)</text>
<text transform="translate(296.9 159.8) rotate(0.05)" font-size="4.3" text-anchor="start" fill="#000" stroke="#000" stroke-width="0.1">Normal: 195768</text>
<text transform="translate(352.1 268.4) rotate(0.05)" font-size="5.35" text-anchor="middle" fill="#000" stroke="#000" stroke-width="0.1">Normalized frequency</text>
<text transform="translate(435.85 261.95) rotate(0.05)" font-size="5.3" text-anchor="middle" fill="#000" stroke="#000" stroke-width="0.1">−1.0</text>
<text transform="translate(462.13 261.95) rotate(0.05)" font-size="5.3" text-anchor="middle" fill="#000" stroke="#000" stroke-width="0.1">−0.5</text>
<text transform="translate(488.4 261.95) rotate(0.05)" font-size="5.3" text-anchor="middle" fill="#000" stroke="#000" stroke-width="0.1">0.0</text>
<text transform="translate(514.67 261.95) rotate(0.05)" font-size="5.3" text-anchor="middle" fill="#000" stroke="#000" stroke-width="0.1">0.5</text>
<text transform="translate(540.95 261.95) rotate(0.05)" font-size="5.3" text-anchor="middle" fill="#000" stroke="#000" stroke-width="0.1">1.0</text>
<text transform="translate(427.5 250.1) rotate(0.05)" font-size="5.3" text-anchor="end" fill="#000" stroke="#000" stroke-width="0.1">0</text>
<text transform="translate(427.5 229.96) rotate(0.05)" font-size="5.3" text-anchor="end" fill="#000" stroke="#000" stroke-width="0.1">10</text>
<text transform="translate(427.5 209.82) rotate(0.05)" font-size="5.3" text-anchor="end" fill="#000" stroke="#000" stroke-width="0.1">20</text>
<text transform="translate(427.5 189.68) rotate(0.05)" font-size="5.3" text-anchor="end" fill="#000" stroke="#000" stroke-width="0.1">30</text>
<text transform="translate(427.5 169.54) rotate(0.05)" font-size="5.3" text-anchor="end" fill="#000" stroke="#000" stroke-width="0.1">40</text>
<text transform="translate(427.5 149.4) rotate(0.05)" font-size="5.3" text-anchor="end" fill="#000" stroke="#000" stroke-width="0.1">50</text>
<text transform="translate(488.4 142.6) rotate(0.05)" font-size="6.5" text-anchor="middle" fill="#000" stroke="#000" stroke-width="0.1">5</text>
<text transform="translate(433.2 150.7) rotate(0.05)" font-size="4.3" text-anchor="start" fill="#000" stroke="#000" stroke-width="0.1">Total: 226</text>
<text transform="translate(433.2 155.25) rotate(0.05)" font-size="4.3" text-anchor="start" fill="#000" stroke="#000" stroke-width="0.1">Sig: 67 (29.6%)</text>
<text transform="translate(433.2 159.8) rotate(0.05)" font-size="4.3" text-anchor="start" fill="#000" stroke="#000" stroke-width="0.1">Normal: 130273</text>
<text transform="translate(572.45 261.95) rotate(0.05)" font-size="5.3" text-anchor="middle" fill="#000" stroke="#000" stroke-width="0.1">−1.0</text>
<text transform="translate(598.73 261.95) rotate(0.05)" font-size="5.3" text-anchor="middle" fill="#000" stroke="#000" stroke-width="0.1">−0.5</text>
<text transform="translate(625 261.95) rotate(0.05)" font-size="5.3" text-anchor="middle" fill="#000" stroke="#000" stroke-width="0.1">0.0</text>
<text transform="translate(651.27 261.95) rotate(0.05)" font-size="5.3" text-anchor="middle" fill="#000" stroke="#000" stroke-width="0.1">0.5</text>
<text transform="translate(677.55 261.95) rotate(0.05)" font-size="5.3" text-anchor="middle" fill="#000" stroke="#000" stroke-width="0.1">1.0</text>
<text transform="translate(564.1 250.1) rotate(0.05)" font-size="5.3" text-anchor="end" fill="#000" stroke="#000" stroke-width="0.1">0</text>
<text transform="translate(564.1 229.96) rotate(0.05)" font-size="5.3" text-anchor="end" fill="#000" stroke="#000" stroke-width="0.1">10</text>
<text transform="translate(564.1 209.82) rotate(0.05)" font-size="5.3" text-anchor="end" fill="#000" stroke="#000" stroke-width="0.1">20</text>
<text transform="translate(564.1 189.68) rotate(0.05)" font-size="5.3" text-anchor="end" fill="#000" stroke="#000" stroke-width="0.1">30</text>
<text transform="translate(564.1 169.54) rotate(0.05)" font-size="5.3" text-anchor="end" fill="#000" stroke="#000" stroke-width="0.1">40</text>
<text transform="translate(564.1 149.4) rotate(0.05)" font-size="5.3" text-anchor="end" fill="#000" stroke="#000" stroke-width="0.1">50</text>
<text transform="translate(625 142.6) rotate(0.05)" font-size="6.5" text-anchor="middle" fill="#000" stroke="#000" stroke-width="0.1">6</text>
<text transform="translate(569.8 150.7) rotate(0.05)" font-size="4.3" text-anchor="start" fill="#000" stroke="#000" stroke-width="0.1">Total: 137</text>
<text transform="translate(569.8 155.25) rotate(0.05)" font-size="4.3" text-anchor="start" fill="#000" stroke="#000" stroke-width="0.1">Sig: 43 (31.4%)</text>
<text transform="translate(569.8 159.8) rotate(0.05)" font-size="4.3" text-anchor="start" fill="#000" stroke="#000" stroke-width="0.1">Normal: 84521</text>
<text transform="translate(28.3 398.6) rotate(0.05)" font-size="5.3" text-anchor="middle" fill="#000" stroke="#000" stroke-width="0.1">2</text>
<text transform="translate(44.94 398.6) rotate(0.05)" font-size="5.3" text-anchor="middle" fill="#000" stroke="#000" stroke-width="0.1">4</text>
<text transform="translate(61.58 398.6) rotate(0.05)" font-size="5.3" text-anchor="middle" fill="#000" stroke="#000" stroke-width="0.1">6</text>
<text transform="translate(78.22 398.6) rotate(0.05)" font-size="5.3" text-anchor="middle" fill="#000" stroke="#000" stroke-width="0.1">8</text>
<text transform="translate(94.86 398.6) rotate(0.05)" font-size="5.3" text-anchor="middle" fill="#000" stroke="#000" stroke-width="0.1">10</text>
<text transform="translate(111.5 398.6) rotate(0.05)" font-size="5.3" text-anchor="middle" fill="#000" stroke="#000" stroke-width="0.1">12</text>
<text transform="translate(128.14 398.6) rotate(0.05)" font-size="5.3" text-anchor="middle" fill="#000" stroke="#000" stroke-width="0.1">14</text>
<text transform="translate(18.4 388.2) rotate(0.05)" font-size="5.3" text-anchor="end" fill="#000" stroke="#000" stroke-width="0.1">0.00</text>
<text transform="translate(18.4 375.44) rotate(0.05)" font-size="5.3" text-anchor="end" fill="#000" stroke="#000" stroke-width="0.1">0.05</text>
<text transform="translate(18.4 362.68) rotate(0.05)" font-size="5.3" text-anchor="end" fill="#000" stroke="#000" stroke-width="0.1">0.10</text>
<text transform="translate(18.4 349.91) rotate(0.05)" font-size="5.3" text-anchor="end" fill="#000" stroke="#000" stroke-width="0.1">0.15</text>
<text transform="translate(18.4 337.15) rotate(0.05)" font-size="5.3" text-anchor="end" fill="#000" stroke="#000" stroke-width="0.1">0.20</text>
<text transform="translate(18.4 324.39) rotate(0.05)" font-size="5.3" text-anchor="end" fill="#000" stroke="#000" stroke-width="0.1">0.25</text>
<text transform="translate(18.4 311.62) rotate(0.05)" font-size="5.3" text-anchor="end" fill="#000" stroke="#000" stroke-width="0.1">0.30</text>
<text transform="translate(18.4 298.86) rotate(0.05)" font-size="5.3" text-anchor="end" fill="#000" stroke="#000" stroke-width="0.1">0.35</text>
<text transform="translate(18.4 286.1) rotate(0.05)" font-size="5.3" text-anchor="end" fill="#000" stroke="#000" stroke-width="0.1">0.40</text>
<text transform="translate(79.3 279.3) rotate(0.05)" font-size="6.5" text-anchor="middle" fill="#000" stroke="#000" stroke-width="0.1">IC Distribution - 2</text>
<text transform="translate(24 287.3) rotate(0.05)" font-size="4.3" text-anchor="start" fill="#000" stroke="#000" stroke-width="0.1">Sig median: 8.10</text>
<text transform="translate(24 291.6) rotate(0.05)" font-size="4.3" text-anchor="start" fill="#000" stroke="#000" stroke-width="0.1">Non-sig median: 5.98</text>
<text transform="translate(24 295.9) rotate(0.05)" font-size="4.3" text-anchor="start" fill="#000" stroke="#000" stroke-width="0.1">Normal median: 5.46</text>
<text transform="translate(104.7 289.1) rotate(0.05)" font-size="4.3" text-anchor="start" fill="#000" stroke="#000" stroke-width="0.1">Normal</text>
<text transform="translate(104.7 294.7) rotate(0.05)" font-size="4.3" text-anchor="start" fill="#000" stroke="#000" stroke-width="0.1">Significant</text>
<text transform="translate(104.7 300.3) rotate(0.05)" font-size="4.3" text-anchor="start" fill="#000" stroke="#000" stroke-width="0.1">Non-significant</text>
<text transform="translate(5.4 337.3) rotate(-89.95)" font-size="5.35" text-anchor="middle" fill="#000" stroke="#000" stroke-width="0.1">Density</text>
<text transform="translate(158.5 398.6) rotate(0.05)" font-size="5.3" text-anchor="middle" fill="#000" stroke="#000" stroke-width="0.1">2</text>
<text transform="translate(178.04 398.6) rotate(0.05)" font-size="5.3" text-anchor="middle" fill="#000" stroke="#000" stroke-width="0.1">4</text>
<text transform="translate(197.58 398.6) rotate(0.05)" font-size="5.3" text-anchor="middle" fill="#000" stroke="#000" stroke-width="0.1">6</text>
<text transform="translate(217.12 398.6) rotate(0.05)" font-size="5.3" text-anchor="middle" fill="#000" stroke="#000" stroke-width="0.1">8</text>
<text transform="translate(236.66 398.6) rotate(0.05)" font-size="5.3" text-anchor="middle" fill="#000" stroke="#000" stroke-width="0.1">10</text>
<text transform="translate(256.2 398.6) rotate(0.05)" font-size="5.3" text-anchor="middle" fill="#000" stroke="#000" stroke-width="0.1">12</text>
<text transform="translate(155 387.9) rotate(0.05)" font-size="5.3" text-anchor="end" fill="#000" stroke="#000" stroke-width="0.1">0.0</text>
<text transform="translate(155 365.2) rotate(0.05)" font-size="5.3" text-anchor="end" fill="#000" stroke="#000" stroke-width="0.1">0.1</text>
<text transform="translate(155 342.5) rotate(0.05)" font-size="5.3" text-anchor="end" fill="#000" stroke="#000" stroke-width="0.1">0.2</text>
<text transform="translate(155 319.8) rotate(0.05)" font-size="5.3" text-anchor="end" fill="#000" stroke="#000" stroke-width="0.1">0.3</text>
<text transform="translate(155 297.1) rotate(0.05)" font-size="5.3" text-anchor="end" fill="#000" stroke="#000" stroke-width="0.1">0.4</text>
<text transform="translate(215.9 279.3) rotate(0.05)" font-size="6.5" text-anchor="middle" fill="#000" stroke="#000" stroke-width="0.1">IC Distribution - 3</text>
<text transform="translate(160.6 287.3) rotate(0.05)" font-size="4.3" text-anchor="start" fill="#000" stroke="#000" stroke-width="0.1">Sig median: 7.55</text>
<text transform="translate(160.6 291.6) rotate(0.05)" font-size="4.3" text-anchor="start" fill="#000" stroke="#000" stroke-width="0.1">Non-sig median: 5.76</text>
<text transform="translate(160.6 295.9) rotate(0.05)" font-size="4.3" text-anchor="start" fill="#000" stroke="#000" stroke-width="0.1">Normal median: 5.41</text>
<text transform="translate(241.3 289.1) rotate(0.05)" font-size="4.3" text-anchor="start" fill="#000" stroke="#000" stroke-width="0.1">Normal</text>
<text transform="translate(241.3 294.7) rotate(0.05)" font-size="4.3" text-anchor="start" fill="#000" stroke="#000" stroke-width="0.1">Significant</text>
<text transform="translate(241.3 300.3) rotate(0.05)" font-size="4.3" text-anchor="start" fill="#000" stroke="#000" stroke-width="0.1">Non-significant</text>
<text transform="translate(311.42 398.6) rotate(0.05)" font-size="5.3" text-anchor="middle" fill="#000" stroke="#000" stroke-width="0.1">4</text>
<text transform="translate(333.04 398.6) rotate(0.05)" font-size="5.3" text-anchor="middle" fill="#000" stroke="#000" stroke-width="0.1">6</text>
<text transform="translate(354.66 398.6) rotate(0.05)" font-size="5.3" text-anchor="middle" fill="#000" stroke="#000" stroke-width="0.1">8</text>
<text transform="translate(376.28 398.6) rotate(0.05)" font-size="5.3" text-anchor="middle" fill="#000" stroke="#000" stroke-width="0.1">10</text>
<text transform="translate(397.9 398.6) rotate(0.05)" font-size="5.3" text-anchor="middle" fill="#000" stroke="#000" stroke-width="0.1">12</text>
<text transform="translate(291.2 388.1) rotate(0.05)" font-size="5.3" text-anchor="end" fill="#000" stroke="#000" stroke-width="0.1">0.0</text>
<text transform="translate(291.2 367.35) rotate(0.05)" font-size="5.3" text-anchor="end" fill="#000" stroke="#000" stroke-width="0.1">0.1</text>
<text transform="translate(291.2 346.6) rotate(0.05)" font-size="5.3" text-anchor="end" fill="#000" stroke="#000" stroke-width="0.1">0.2</text>
<text transform="translate(291.2 325.85) rotate(0.05)" font-size="5.3" text-anchor="end" fill="#000" stroke="#000" stroke-width="0.1">0.3</text>
<text transform="translate(291.2 305.1) rotate(0.05)" font-size="5.3" text-anchor="end" fill="#000" stroke="#000" stroke-width="0.1">0.4</text>
<text transform="translate(291.2 284.35) rotate(0.05)" font-size="5.3" text-anchor="end" fill="#000" stroke="#000" stroke-width="0.1">0.5</text>
<text transform="translate(352.1 279.3) rotate(0.05)" font-size="6.5" text-anchor="middle" fill="#000" stroke="#000" stroke-width="0.1">IC Distribution - 4</text>
<text transform="translate(296.8 287.3) rotate(0.05)" font-size="4.3" text-anchor="start" fill="#000" stroke="#000" stroke-width="0.1">Sig median: 7.16</text>
<text transform="translate(296.8 291.6) rotate(0.05)" font-size="4.3" text-anchor="start" fill="#000" stroke="#000" stroke-width="0.1">Non-sig median: 5.87</text>
<text transform="translate(296.8 295.9) rotate(0.05)" font-size="4.3" text-anchor="start" fill="#000" stroke="#000" stroke-width="0.1">Normal median: 5.37</text>
<text transform="translate(377.5 289.1) rotate(0.05)" font-size="4.3" text-anchor="start" fill="#000" stroke="#000" stroke-width="0.1">Normal</text>
<text transform="translate(377.5 294.7) rotate(0.05)" font-size="4.3" text-anchor="start" fill="#000" stroke="#000" stroke-width="0.1">Significant</text>
<text transform="translate(377.5 300.3) rotate(0.05)" font-size="4.3" text-anchor="start" fill="#000" stroke="#000" stroke-width="0.1">Non-significant</text>
<text transform="translate(352.1 405) rotate(0.05)" font-size="5.35" text-anchor="middle" fill="#000" stroke="#000" stroke-width="0.1">IC Median</text>
<text transform="translate(448.18 398.6) rotate(0.05)" font-size="5.3" text-anchor="middle" fill="#000" stroke="#000" stroke-width="0.1">4</text>
<text transform="translate(470.76 398.6) rotate(0.05)" font-size="5.3" text-anchor="middle" fill="#000" stroke="#000" stroke-width="0.1">6</text>
<text transform="translate(493.34 398.6) rotate(0.05)" font-size="5.3" text-anchor="middle" fill="#000" stroke="#000" stroke-width="0.1">8</text>
<text transform="translate(515.92 398.6) rotate(0.05)" font-size="5.3" text-anchor="middle" fill="#000" stroke="#000" stroke-width="0.1">10</text>
<text transform="translate(538.5 398.6) rotate(0.05)" font-size="5.3" text-anchor="middle" fill="#000" stroke="#000" stroke-width="0.1">12</text>
<text transform="translate(427.5 388.4) rotate(0.05)" font-size="5.3" text-anchor="end" fill="#000" stroke="#000" stroke-width="0.1">0.0</text>
<text transform="translate(427.5 367.95) rotate(0.05)" font-size="5.3" text-anchor="end" fill="#000" stroke="#000" stroke-width="0.1">0.1</text>
<text transform="translate(427.5 347.5) rotate(0.05)" font-size="5.3" text-anchor="end" fill="#000" stroke="#000" stroke-width="0.1">0.2</text>
<text transform="translate(427.5 327.05) rotate(0.05)" font-size="5.3" text-anchor="end" fill="#000" stroke="#000" stroke-width="0.1">0.3</text>
<text transform="translate(427.5 306.6) rotate(0.05)" font-size="5.3" text-anchor="end" fill="#000" stroke="#000" stroke-width="0.1">0.4</text>
<text transform="translate(427.5 286.15) rotate(0.05)" font-size="5.3" text-anchor="end" fill="#000" stroke="#000" stroke-width="0.1">0.5</text>
<text transform="translate(488.4 279.3) rotate(0.05)" font-size="6.5" text-anchor="middle" fill="#000" stroke="#000" stroke-width="0.1">IC Distribution - 5</text>
<text transform="translate(433.1 287.3) rotate(0.05)" font-size="4.3" text-anchor="start" fill="#000" stroke="#000" stroke-width="0.1">Sig median: 7.06</text>
<text transform="translate(433.1 291.6) rotate(0.05)" font-size="4.3" text-anchor="start" fill="#000" stroke="#000" stroke-width="0.1">Non-sig median: 5.70</text>
<text transform="translate(433.1 295.9) rotate(0.05)" font-size="4.3" text-anchor="start" fill="#000" stroke="#000" stroke-width="0.1">Normal median: 5.35</text>
<text transform="translate(513.8 289.1) rotate(0.05)" font-size="4.3" text-anchor="start" fill="#000" stroke="#000" stroke-width="0.1">Normal</text>
<text transform="translate(513.8 294.7) rotate(0.05)" font-size="4.3" text-anchor="start" fill="#000" stroke="#000" stroke-width="0.1">Significant</text>
<text transform="translate(513.8 300.3) rotate(0.05)" font-size="4.3" text-anchor="start" fill="#000" stroke="#000" stroke-width="0.1">Non-significant</text>
<text transform="translate(583.72 398.6) rotate(0.05)" font-size="5.3" text-anchor="middle" fill="#000" stroke="#000" stroke-width="0.1">4</text>
<text transform="translate(607.34 398.6) rotate(0.05)" font-size="5.3" text-anchor="middle" fill="#000" stroke="#000" stroke-width="0.1">6</text>
<text transform="translate(630.96 398.6) rotate(0.05)" font-size="5.3" text-anchor="middle" fill="#000" stroke="#000" stroke-width="0.1">8</text>
<text transform="translate(654.58 398.6) rotate(0.05)" font-size="5.3" text-anchor="middle" fill="#000" stroke="#000" stroke-width="0.1">10</text>
<text transform="translate(678.2 398.6) rotate(0.05)" font-size="5.3" text-anchor="middle" fill="#000" stroke="#000" stroke-width="0.1">12</text>
<text transform="translate(564.1 387.9) rotate(0.05)" font-size="5.3" text-anchor="end" fill="#000" stroke="#000" stroke-width="0.1">0.0</text>
<text transform="translate(564.1 370.5) rotate(0.05)" font-size="5.3" text-anchor="end" fill="#000" stroke="#000" stroke-width="0.1">0.1</text>
<text transform="translate(564.1 353.1) rotate(0.05)" font-size="5.3" text-anchor="end" fill="#000" stroke="#000" stroke-width="0.1">0.2</text>
<text transform="translate(564.1 335.7) rotate(0.05)" font-size="5.3" text-anchor="end" fill="#000" stroke="#000" stroke-width="0.1">0.3</text>
<text transform="translate(564.1 318.3) rotate(0.05)" font-size="5.3" text-anchor="end" fill="#000" stroke="#000" stroke-width="0.1">0.4</text>
<text transform="translate(564.1 300.9) rotate(0.05)" font-size="5.3" text-anchor="end" fill="#000" stroke="#000" stroke-width="0.1">0.5</text>
<text transform="translate(625 279.3) rotate(0.05)" font-size="6.5" text-anchor="middle" fill="#000" stroke="#000" stroke-width="0.1">IC Distribution - 6</text>
<text transform="translate(569.7 287.3) rotate(0.05)" font-size="4.3" text-anchor="start" fill="#000" stroke="#000" stroke-width="0.1">Sig median: 7.17</text>
<text transform="translate(569.7 291.6) rotate(0.05)" font-size="4.3" text-anchor="start" fill="#000" stroke="#000" stroke-width="0.1">Non-sig median: 5.69</text>
<text transform="translate(569.7 295.9) rotate(0.05)" font-size="4.3" text-anchor="start" fill="#000" stroke="#000" stroke-width="0.1">Normal median: 5.34</text>
<text transform="translate(650.4 289.1) rotate(0.05)" font-size="4.3" text-anchor="start" fill="#000" stroke="#000" stroke-width="0.1">Normal</text>
<text transform="translate(650.4 294.7) rotate(0.05)" font-size="4.3" text-anchor="start" fill="#000" stroke="#000" stroke-width="0.1">Significant</text>
<text transform="translate(650.4 300.3) rotate(0.05)" font-size="4.3" text-anchor="start" fill="#000" stroke="#000" stroke-width="0.1">Non-significant</text>
</g>
</svg></body></html>
